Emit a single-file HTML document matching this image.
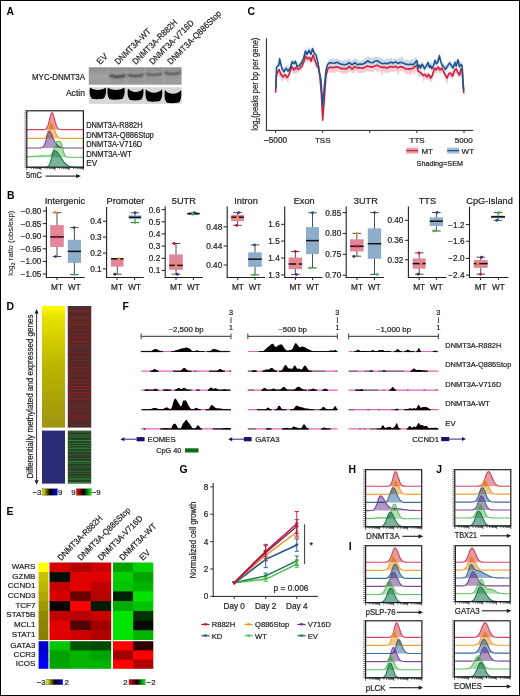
<!DOCTYPE html>
<html><head><meta charset="utf-8"><style>
html,body{margin:0;padding:0;background:#fff;}
svg{display:block;will-change:transform;}
text{font-family:"Liberation Sans", sans-serif;}
</style></head><body>
<svg width="520" height="696" viewBox="0 0 520 696" font-family='"Liberation Sans", sans-serif'>
<rect x="0" y="0" width="520" height="696" fill="#fff"/>
<text x="6.40" y="14.60" font-size="10.4" font-weight="bold" fill="#000">A</text>
<text x="7.00" y="198.80" font-size="10.4" font-weight="bold" fill="#000">B</text>
<text x="247.60" y="15.20" font-size="10.4" font-weight="bold" fill="#000">C</text>
<text x="6.40" y="309.60" font-size="10.4" font-weight="bold" fill="#000">D</text>
<text x="6.40" y="514.60" font-size="10.4" font-weight="bold" fill="#000">E</text>
<text x="122.60" y="309.80" font-size="10.4" font-weight="bold" fill="#000">F</text>
<text x="179.60" y="473.20" font-size="10.4" font-weight="bold" fill="#000">G</text>
<text x="348.60" y="473.20" font-size="10.4" font-weight="bold" fill="#000">H</text>
<text x="348.80" y="549.80" font-size="10.4" font-weight="bold" fill="#000">I</text>
<text x="436.20" y="473.20" font-size="10.4" font-weight="bold" fill="#000">J</text>
<text transform="translate(100.10,65.10) rotate(-45)" x="0" y="0" font-size="8.6" fill="#231f20" stroke="#231f20" stroke-width="0.22">EV</text>
<text transform="translate(118.20,65.10) rotate(-45)" x="0" y="0" font-size="8.6" textLength="47" lengthAdjust="spacingAndGlyphs" fill="#231f20" stroke="#231f20" stroke-width="0.22">DNMT3A-WT</text>
<text transform="translate(135.80,65.10) rotate(-45)" x="0" y="0" font-size="8.6" textLength="59.5" lengthAdjust="spacingAndGlyphs" fill="#231f20" stroke="#231f20" stroke-width="0.22">DNMT3A-R882H</text>
<text transform="translate(152.70,65.10) rotate(-45)" x="0" y="0" font-size="8.6" textLength="59" lengthAdjust="spacingAndGlyphs" fill="#231f20" stroke="#231f20" stroke-width="0.22">DNMT3A-V716D</text>
<text transform="translate(170.80,65.10) rotate(-45)" x="0" y="0" font-size="8.6" textLength="72" lengthAdjust="spacingAndGlyphs" fill="#231f20" stroke="#231f20" stroke-width="0.22">DNMT3A-Q886Stop</text>
<text x="85.00" y="80.40" font-size="8.4" text-anchor="end" textLength="53" lengthAdjust="spacingAndGlyphs" fill="#231f20" stroke="#231f20" stroke-width="0.22">MYC-DNMT3A</text>
<text x="85.00" y="95.80" font-size="8.6" text-anchor="end" fill="#231f20" stroke="#231f20" stroke-width="0.22">Actin</text>
<defs><linearGradient id="blotg" x1="0" y1="0" x2="0" y2="1"><stop offset="0" stop-color="#8c8c8c"/><stop offset="0.5" stop-color="#a2a2a2"/><stop offset="1" stop-color="#9a9a9a"/></linearGradient><filter id="bl1" x="-20%" y="-50%" width="140%" height="200%"><feGaussianBlur stdDeviation="0.9"/></filter><filter id="bl2" x="-20%" y="-50%" width="140%" height="200%"><feGaussianBlur stdDeviation="0.6"/></filter></defs>
<rect x="88.80" y="67.30" width="92.80" height="17.40" fill="url(#blotg)"/>
<rect x="107.20" y="67.30" width="0.80" height="17.40" fill="#b0b0b0" opacity="0.6"/>
<rect x="125.80" y="67.30" width="0.80" height="17.40" fill="#b0b0b0" opacity="0.6"/>
<rect x="144.40" y="67.30" width="0.80" height="17.40" fill="#b0b0b0" opacity="0.6"/>
<rect x="163.00" y="67.30" width="0.80" height="17.40" fill="#b0b0b0" opacity="0.6"/>
<path d="M109.40,74.40 Q117.40,76.60 125.40,74.20 L125.40,76.80 Q117.40,79.20 109.40,77.00 Z" fill="#2e2e2e" stroke="none" stroke-width="1" opacity="0.95" filter="url(#bl1)"/>
<rect x="109.40" y="78.10" width="16.00" height="5.00" fill="#8a8a8a" opacity="0.35" filter="url(#bl1)"/>
<path d="M127.60,74.00 Q135.60,76.20 143.60,73.80 L143.60,76.00 Q135.60,78.40 127.60,76.20 Z" fill="#2e2e2e" stroke="none" stroke-width="1" opacity="0.85" filter="url(#bl1)"/>
<rect x="127.60" y="77.30" width="16.00" height="5.00" fill="#8a8a8a" opacity="0.35" filter="url(#bl1)"/>
<path d="M146.00,73.00 Q154.00,75.20 162.00,72.80 L162.00,74.80 Q154.00,77.20 146.00,75.00 Z" fill="#2e2e2e" stroke="none" stroke-width="1" opacity="0.8" filter="url(#bl1)"/>
<rect x="146.00" y="76.10" width="16.00" height="5.00" fill="#8a8a8a" opacity="0.35" filter="url(#bl1)"/>
<path d="M164.40,72.00 Q172.40,74.20 180.40,71.80 L180.40,73.80 Q172.40,76.20 164.40,74.00 Z" fill="#2e2e2e" stroke="none" stroke-width="1" opacity="0.85" filter="url(#bl1)"/>
<rect x="164.40" y="75.10" width="16.00" height="5.00" fill="#8a8a8a" opacity="0.35" filter="url(#bl1)"/>
<rect x="88.80" y="87.30" width="92.80" height="16.60" fill="#d6d6d6"/>
<path d="M90.00,87.60 C93.50,90.93 102.30,90.93 105.80,87.60 C106.50,91.60 106.10,95.30 104.00,98.20 C100.30,99.30 95.00,99.50 91.60,98.40 C89.30,95.30 89.30,91.60 90.00,87.60 Z" fill="#050505" stroke="none" stroke-width="1" filter="url(#bl2)"/>
<path d="M107.80,87.60 C111.30,90.80 120.90,90.80 124.40,87.60 C125.10,91.60 124.70,95.80 122.60,98.70 C118.90,99.80 112.80,100.00 109.40,98.90 C107.10,95.80 107.10,91.60 107.80,87.60 Z" fill="#050505" stroke="none" stroke-width="1" filter="url(#bl2)"/>
<path d="M128.00,88.60 C131.50,93.13 139.70,93.13 143.20,88.60 C143.90,92.60 143.50,96.60 141.40,99.50 C137.70,100.60 133.00,100.80 129.60,99.70 C127.30,96.60 127.30,92.60 128.00,88.60 Z" fill="#050505" stroke="none" stroke-width="1" filter="url(#bl2)"/>
<path d="M145.90,89.20 C149.40,93.87 158.50,93.87 162.00,89.20 C162.70,93.20 162.30,97.80 160.20,100.70 C156.50,101.80 150.90,102.00 147.50,100.90 C145.20,97.80 145.20,93.20 145.90,89.20 Z" fill="#050505" stroke="none" stroke-width="1" filter="url(#bl2)"/>
<path d="M165.00,90.00 C168.50,95.07 177.60,95.07 181.10,90.00 C181.80,94.00 181.40,99.40 179.30,102.30 C175.60,103.40 170.00,103.60 166.60,102.50 C164.30,99.40 164.30,94.00 165.00,90.00 Z" fill="#050505" stroke="none" stroke-width="1" filter="url(#bl2)"/>
<g>
<path d="M26.8,129.6 L27.6,129.6 L28.4,129.6 L29.2,129.6 L30.0,129.6 L30.8,129.6 L31.7,129.6 L32.5,129.6 L33.3,129.6 L34.1,129.6 L34.9,129.6 L35.7,129.6 L36.5,129.6 L37.3,129.6 L38.1,129.6 L38.9,129.6 L39.7,129.6 L40.5,129.6 L41.4,129.6 L42.2,129.6 L43.0,129.6 L43.8,129.6 L44.6,129.5 L45.4,129.2 L46.2,128.7 L47.0,127.6 L47.8,125.9 L48.6,123.3 L49.4,120.0 L50.2,116.6 L51.1,113.9 L51.9,112.6 L52.7,113.2 L53.5,115.2 L54.3,118.1 L55.1,121.2 L55.9,124.1 L56.7,126.3 L57.5,127.8 L58.3,128.7 L59.1,129.2 L60.0,129.4 L60.8,129.5 L61.6,129.6 L62.4,129.6 L63.2,129.6 L64.0,129.6 L64.8,129.6 L65.6,129.6 L66.4,129.6 L67.2,129.6 L68.0,129.6 L68.8,129.6 L69.7,129.6 L70.5,129.6 L71.3,129.6 L72.1,129.6 L72.9,129.6 L73.7,129.6 L74.5,129.6 L75.3,129.6 L76.1,129.6 L76.9,129.6 L77.7,129.6 L78.5,129.6 L79.4,129.6 L80.2,129.6 L81.0,129.6 L81.8,129.6 L82.6,129.6 L83.4,129.6 L83.40,129.60 L26.80,129.60 Z" fill="#df8393" stroke="none" stroke-width="1" fill-opacity="0.8" style="mix-blend-mode:multiply"/>
<path d="M26.8,129.6 L27.6,129.6 L28.4,129.6 L29.2,129.6 L30.0,129.6 L30.8,129.6 L31.7,129.6 L32.5,129.6 L33.3,129.6 L34.1,129.6 L34.9,129.6 L35.7,129.6 L36.5,129.6 L37.3,129.6 L38.1,129.6 L38.9,129.6 L39.7,129.6 L40.5,129.6 L41.4,129.6 L42.2,129.6 L43.0,129.6 L43.8,129.6 L44.6,129.5 L45.4,129.2 L46.2,128.7 L47.0,127.6 L47.8,125.9 L48.6,123.3 L49.4,120.0 L50.2,116.6 L51.1,113.9 L51.9,112.6 L52.7,113.2 L53.5,115.2 L54.3,118.1 L55.1,121.2 L55.9,124.1 L56.7,126.3 L57.5,127.8 L58.3,128.7 L59.1,129.2 L60.0,129.4 L60.8,129.5 L61.6,129.6 L62.4,129.6 L63.2,129.6 L64.0,129.6 L64.8,129.6 L65.6,129.6 L66.4,129.6 L67.2,129.6 L68.0,129.6 L68.8,129.6 L69.7,129.6 L70.5,129.6 L71.3,129.6 L72.1,129.6 L72.9,129.6 L73.7,129.6 L74.5,129.6 L75.3,129.6 L76.1,129.6 L76.9,129.6 L77.7,129.6 L78.5,129.6 L79.4,129.6 L80.2,129.6 L81.0,129.6 L81.8,129.6 L82.6,129.6 L83.4,129.6" fill="none" stroke="#d2435f" stroke-width="1.15"/>
<path d="M26.8,138.4 L27.6,138.4 L28.4,138.4 L29.2,138.4 L30.0,138.4 L30.8,138.4 L31.7,138.4 L32.5,138.4 L33.3,138.4 L34.1,138.4 L34.9,138.4 L35.7,138.4 L36.5,138.4 L37.3,138.4 L38.1,138.4 L38.9,138.4 L39.7,138.4 L40.5,138.4 L41.4,138.4 L42.2,138.4 L43.0,138.4 L43.8,138.3 L44.6,138.1 L45.4,137.6 L46.2,136.5 L47.0,134.7 L47.8,132.0 L48.6,128.7 L49.4,125.3 L50.2,122.8 L51.1,121.9 L51.9,122.5 L52.7,124.0 L53.5,126.2 L54.3,128.7 L55.1,131.1 L55.9,133.3 L56.7,135.1 L57.5,136.3 L58.3,137.2 L59.1,137.8 L60.0,138.1 L60.8,138.2 L61.6,138.3 L62.4,138.4 L63.2,138.4 L64.0,138.4 L64.8,138.4 L65.6,138.4 L66.4,138.4 L67.2,138.4 L68.0,138.4 L68.8,138.4 L69.7,138.4 L70.5,138.4 L71.3,138.4 L72.1,138.4 L72.9,138.4 L73.7,138.4 L74.5,138.4 L75.3,138.4 L76.1,138.4 L76.9,138.4 L77.7,138.4 L78.5,138.4 L79.4,138.4 L80.2,138.4 L81.0,138.4 L81.8,138.4 L82.6,138.4 L83.4,138.4 L83.40,138.40 L26.80,138.40 Z" fill="#f6b868" stroke="none" stroke-width="1" fill-opacity="0.8" style="mix-blend-mode:multiply"/>
<path d="M26.8,138.4 L27.6,138.4 L28.4,138.4 L29.2,138.4 L30.0,138.4 L30.8,138.4 L31.7,138.4 L32.5,138.4 L33.3,138.4 L34.1,138.4 L34.9,138.4 L35.7,138.4 L36.5,138.4 L37.3,138.4 L38.1,138.4 L38.9,138.4 L39.7,138.4 L40.5,138.4 L41.4,138.4 L42.2,138.4 L43.0,138.4 L43.8,138.3 L44.6,138.1 L45.4,137.6 L46.2,136.5 L47.0,134.7 L47.8,132.0 L48.6,128.7 L49.4,125.3 L50.2,122.8 L51.1,121.9 L51.9,122.5 L52.7,124.0 L53.5,126.2 L54.3,128.7 L55.1,131.1 L55.9,133.3 L56.7,135.1 L57.5,136.3 L58.3,137.2 L59.1,137.8 L60.0,138.1 L60.8,138.2 L61.6,138.3 L62.4,138.4 L63.2,138.4 L64.0,138.4 L64.8,138.4 L65.6,138.4 L66.4,138.4 L67.2,138.4 L68.0,138.4 L68.8,138.4 L69.7,138.4 L70.5,138.4 L71.3,138.4 L72.1,138.4 L72.9,138.4 L73.7,138.4 L74.5,138.4 L75.3,138.4 L76.1,138.4 L76.9,138.4 L77.7,138.4 L78.5,138.4 L79.4,138.4 L80.2,138.4 L81.0,138.4 L81.8,138.4 L82.6,138.4 L83.4,138.4" fill="none" stroke="#f3a23a" stroke-width="1.15"/>
<path d="M26.8,148.0 L27.6,148.0 L28.4,148.0 L29.2,148.0 L30.0,148.0 L30.8,148.0 L31.7,148.0 L32.5,148.0 L33.3,148.0 L34.1,148.0 L34.9,148.0 L35.7,148.0 L36.5,148.0 L37.3,148.0 L38.1,148.0 L38.9,148.0 L39.7,148.0 L40.5,147.9 L41.4,147.8 L42.2,147.5 L43.0,146.9 L43.8,146.0 L44.6,144.4 L45.4,142.2 L46.2,139.5 L47.0,136.5 L47.8,133.9 L48.6,132.0 L49.4,131.5 L50.2,132.0 L51.1,133.3 L51.9,135.0 L52.7,137.0 L53.5,138.9 L54.3,140.6 L55.1,142.0 L55.9,143.3 L56.7,144.4 L57.5,145.3 L58.3,146.0 L59.1,146.6 L60.0,147.1 L60.8,147.4 L61.6,147.7 L62.4,147.8 L63.2,147.9 L64.0,148.0 L64.8,148.0 L65.6,148.0 L66.4,148.0 L67.2,148.0 L68.0,148.0 L68.8,148.0 L69.7,148.0 L70.5,148.0 L71.3,148.0 L72.1,148.0 L72.9,148.0 L73.7,148.0 L74.5,148.0 L75.3,148.0 L76.1,148.0 L76.9,148.0 L77.7,148.0 L78.5,148.0 L79.4,148.0 L80.2,148.0 L81.0,148.0 L81.8,148.0 L82.6,148.0 L83.4,148.0 L83.40,148.00 L26.80,148.00 Z" fill="#9f7db5" stroke="none" stroke-width="1" fill-opacity="0.8" style="mix-blend-mode:multiply"/>
<path d="M26.8,148.0 L27.6,148.0 L28.4,148.0 L29.2,148.0 L30.0,148.0 L30.8,148.0 L31.7,148.0 L32.5,148.0 L33.3,148.0 L34.1,148.0 L34.9,148.0 L35.7,148.0 L36.5,148.0 L37.3,148.0 L38.1,148.0 L38.9,148.0 L39.7,148.0 L40.5,147.9 L41.4,147.8 L42.2,147.5 L43.0,146.9 L43.8,146.0 L44.6,144.4 L45.4,142.2 L46.2,139.5 L47.0,136.5 L47.8,133.9 L48.6,132.0 L49.4,131.5 L50.2,132.0 L51.1,133.3 L51.9,135.0 L52.7,137.0 L53.5,138.9 L54.3,140.6 L55.1,142.0 L55.9,143.3 L56.7,144.4 L57.5,145.3 L58.3,146.0 L59.1,146.6 L60.0,147.1 L60.8,147.4 L61.6,147.7 L62.4,147.8 L63.2,147.9 L64.0,148.0 L64.8,148.0 L65.6,148.0 L66.4,148.0 L67.2,148.0 L68.0,148.0 L68.8,148.0 L69.7,148.0 L70.5,148.0 L71.3,148.0 L72.1,148.0 L72.9,148.0 L73.7,148.0 L74.5,148.0 L75.3,148.0 L76.1,148.0 L76.9,148.0 L77.7,148.0 L78.5,148.0 L79.4,148.0 L80.2,148.0 L81.0,148.0 L81.8,148.0 L82.6,148.0 L83.4,148.0" fill="none" stroke="#7b4c93" stroke-width="1.15"/>
<path d="M26.8,156.8 L27.6,156.8 L28.4,156.7 L29.2,156.7 L30.0,156.6 L30.8,156.6 L31.7,156.5 L32.5,156.5 L33.3,156.4 L34.1,156.4 L34.9,156.3 L35.7,156.2 L36.5,156.2 L37.3,156.1 L38.1,156.1 L38.9,156.0 L39.7,156.0 L40.5,155.9 L41.4,155.9 L42.2,155.8 L43.0,155.8 L43.8,155.8 L44.6,155.7 L45.4,155.7 L46.2,155.7 L47.0,155.7 L47.8,155.7 L48.6,155.7 L49.4,155.7 L50.2,155.5 L51.1,155.0 L51.9,154.0 L52.7,152.5 L53.5,150.3 L54.3,147.8 L55.1,145.2 L55.9,142.9 L56.7,141.5 L57.5,141.2 L58.3,141.2 L59.1,141.2 L60.0,141.2 L60.8,142.2 L61.6,144.6 L62.4,147.8 L63.2,150.9 L64.0,153.5 L64.8,155.2 L65.6,156.3 L66.4,156.8 L67.2,157.0 L68.0,157.1 L68.8,157.2 L69.7,157.2 L70.5,157.2 L71.3,157.2 L72.1,157.2 L72.9,157.2 L73.7,157.2 L74.5,157.2 L75.3,157.2 L76.1,157.2 L76.9,157.2 L77.7,157.2 L78.5,157.2 L79.4,157.2 L80.2,157.2 L81.0,157.2 L81.8,157.2 L82.6,157.2 L83.4,157.2 L83.40,157.20 L26.80,157.20 Z" fill="#9cd79b" stroke="none" stroke-width="1" fill-opacity="0.8" style="mix-blend-mode:multiply"/>
<path d="M26.8,156.8 L27.6,156.8 L28.4,156.7 L29.2,156.7 L30.0,156.6 L30.8,156.6 L31.7,156.5 L32.5,156.5 L33.3,156.4 L34.1,156.4 L34.9,156.3 L35.7,156.2 L36.5,156.2 L37.3,156.1 L38.1,156.1 L38.9,156.0 L39.7,156.0 L40.5,155.9 L41.4,155.9 L42.2,155.8 L43.0,155.8 L43.8,155.8 L44.6,155.7 L45.4,155.7 L46.2,155.7 L47.0,155.7 L47.8,155.7 L48.6,155.7 L49.4,155.7 L50.2,155.5 L51.1,155.0 L51.9,154.0 L52.7,152.5 L53.5,150.3 L54.3,147.8 L55.1,145.2 L55.9,142.9 L56.7,141.5 L57.5,141.2 L58.3,141.2 L59.1,141.2 L60.0,141.2 L60.8,142.2 L61.6,144.6 L62.4,147.8 L63.2,150.9 L64.0,153.5 L64.8,155.2 L65.6,156.3 L66.4,156.8 L67.2,157.0 L68.0,157.1 L68.8,157.2 L69.7,157.2 L70.5,157.2 L71.3,157.2 L72.1,157.2 L72.9,157.2 L73.7,157.2 L74.5,157.2 L75.3,157.2 L76.1,157.2 L76.9,157.2 L77.7,157.2 L78.5,157.2 L79.4,157.2 L80.2,157.2 L81.0,157.2 L81.8,157.2 L82.6,157.2 L83.4,157.2" fill="none" stroke="#5cc25f" stroke-width="1.15"/>
<path d="M26.8,167.2 L27.6,167.2 L28.4,167.2 L29.2,167.2 L30.0,167.2 L30.8,167.2 L31.7,167.2 L32.5,167.2 L33.3,167.2 L34.1,167.2 L34.9,167.2 L35.7,167.2 L36.5,167.2 L37.3,167.2 L38.1,167.2 L38.9,167.2 L39.7,167.2 L40.5,167.2 L41.4,167.2 L42.2,167.2 L43.0,167.2 L43.8,167.2 L44.6,167.2 L45.4,167.2 L46.2,167.1 L47.0,166.9 L47.8,166.6 L48.6,165.8 L49.4,164.5 L50.2,162.4 L51.1,159.7 L51.9,156.5 L52.7,153.4 L53.5,151.3 L54.3,150.6 L55.1,150.8 L55.9,151.2 L56.7,151.8 L57.5,152.7 L58.3,153.7 L59.1,154.9 L60.0,156.1 L60.8,157.4 L61.6,158.6 L62.4,159.9 L63.2,161.0 L64.0,162.1 L64.8,163.0 L65.6,163.8 L66.4,164.5 L67.2,165.1 L68.0,165.6 L68.8,166.0 L69.7,166.3 L70.5,166.5 L71.3,166.7 L72.1,166.9 L72.9,167.0 L73.7,167.0 L74.5,167.1 L75.3,167.1 L76.1,167.2 L76.9,167.2 L77.7,167.2 L78.5,167.2 L79.4,167.2 L80.2,167.2 L81.0,167.2 L81.8,167.2 L82.6,167.2 L83.4,167.2 L83.40,167.20 L26.80,167.20 Z" fill="#58a083" stroke="none" stroke-width="1" fill-opacity="0.8" style="mix-blend-mode:multiply"/>
<path d="M26.8,167.2 L27.6,167.2 L28.4,167.2 L29.2,167.2 L30.0,167.2 L30.8,167.2 L31.7,167.2 L32.5,167.2 L33.3,167.2 L34.1,167.2 L34.9,167.2 L35.7,167.2 L36.5,167.2 L37.3,167.2 L38.1,167.2 L38.9,167.2 L39.7,167.2 L40.5,167.2 L41.4,167.2 L42.2,167.2 L43.0,167.2 L43.8,167.2 L44.6,167.2 L45.4,167.2 L46.2,167.1 L47.0,166.9 L47.8,166.6 L48.6,165.8 L49.4,164.5 L50.2,162.4 L51.1,159.7 L51.9,156.5 L52.7,153.4 L53.5,151.3 L54.3,150.6 L55.1,150.8 L55.9,151.2 L56.7,151.8 L57.5,152.7 L58.3,153.7 L59.1,154.9 L60.0,156.1 L60.8,157.4 L61.6,158.6 L62.4,159.9 L63.2,161.0 L64.0,162.1 L64.8,163.0 L65.6,163.8 L66.4,164.5 L67.2,165.1 L68.0,165.6 L68.8,166.0 L69.7,166.3 L70.5,166.5 L71.3,166.7 L72.1,166.9 L72.9,167.0 L73.7,167.0 L74.5,167.1 L75.3,167.1 L76.1,167.2 L76.9,167.2 L77.7,167.2 L78.5,167.2 L79.4,167.2 L80.2,167.2 L81.0,167.2 L81.8,167.2 L82.6,167.2 L83.4,167.2" fill="none" stroke="#23785a" stroke-width="1.15"/>
</g>
<rect x="26.80" y="110.80" width="56.60" height="56.40" fill="none" stroke="#231f20" stroke-width="1.2"/>
<line x1="24.40" y1="110.80" x2="26.80" y2="110.80" stroke="#231f20" stroke-width="0.6"/>
<line x1="24.40" y1="112.81" x2="26.80" y2="112.81" stroke="#231f20" stroke-width="0.6"/>
<line x1="24.40" y1="114.83" x2="26.80" y2="114.83" stroke="#231f20" stroke-width="0.6"/>
<line x1="24.40" y1="116.84" x2="26.80" y2="116.84" stroke="#231f20" stroke-width="0.6"/>
<line x1="24.40" y1="118.86" x2="26.80" y2="118.86" stroke="#231f20" stroke-width="0.6"/>
<line x1="24.40" y1="120.87" x2="26.80" y2="120.87" stroke="#231f20" stroke-width="0.6"/>
<line x1="24.40" y1="122.89" x2="26.80" y2="122.89" stroke="#231f20" stroke-width="0.6"/>
<line x1="24.40" y1="124.90" x2="26.80" y2="124.90" stroke="#231f20" stroke-width="0.6"/>
<line x1="24.40" y1="126.91" x2="26.80" y2="126.91" stroke="#231f20" stroke-width="0.6"/>
<line x1="24.40" y1="128.93" x2="26.80" y2="128.93" stroke="#231f20" stroke-width="0.6"/>
<line x1="24.40" y1="130.94" x2="26.80" y2="130.94" stroke="#231f20" stroke-width="0.6"/>
<line x1="24.40" y1="132.96" x2="26.80" y2="132.96" stroke="#231f20" stroke-width="0.6"/>
<line x1="24.40" y1="134.97" x2="26.80" y2="134.97" stroke="#231f20" stroke-width="0.6"/>
<line x1="24.40" y1="136.99" x2="26.80" y2="136.99" stroke="#231f20" stroke-width="0.6"/>
<line x1="24.40" y1="139.00" x2="26.80" y2="139.00" stroke="#231f20" stroke-width="0.6"/>
<line x1="24.40" y1="141.01" x2="26.80" y2="141.01" stroke="#231f20" stroke-width="0.6"/>
<line x1="24.40" y1="143.03" x2="26.80" y2="143.03" stroke="#231f20" stroke-width="0.6"/>
<line x1="24.40" y1="145.04" x2="26.80" y2="145.04" stroke="#231f20" stroke-width="0.6"/>
<line x1="24.40" y1="147.06" x2="26.80" y2="147.06" stroke="#231f20" stroke-width="0.6"/>
<line x1="24.40" y1="149.07" x2="26.80" y2="149.07" stroke="#231f20" stroke-width="0.6"/>
<line x1="24.40" y1="151.09" x2="26.80" y2="151.09" stroke="#231f20" stroke-width="0.6"/>
<line x1="24.40" y1="153.10" x2="26.80" y2="153.10" stroke="#231f20" stroke-width="0.6"/>
<line x1="24.40" y1="155.11" x2="26.80" y2="155.11" stroke="#231f20" stroke-width="0.6"/>
<line x1="24.40" y1="157.13" x2="26.80" y2="157.13" stroke="#231f20" stroke-width="0.6"/>
<line x1="24.40" y1="159.14" x2="26.80" y2="159.14" stroke="#231f20" stroke-width="0.6"/>
<line x1="24.40" y1="161.16" x2="26.80" y2="161.16" stroke="#231f20" stroke-width="0.6"/>
<line x1="24.40" y1="163.17" x2="26.80" y2="163.17" stroke="#231f20" stroke-width="0.6"/>
<line x1="24.40" y1="165.19" x2="26.80" y2="165.19" stroke="#231f20" stroke-width="0.6"/>
<line x1="24.40" y1="167.20" x2="26.80" y2="167.20" stroke="#231f20" stroke-width="0.6"/>
<line x1="26.80" y1="167.20" x2="26.80" y2="170.20" stroke="#231f20" stroke-width="0.7"/>
<line x1="31.06" y1="167.20" x2="31.06" y2="169.10" stroke="#231f20" stroke-width="0.7"/>
<line x1="33.55" y1="167.20" x2="33.55" y2="169.10" stroke="#231f20" stroke-width="0.7"/>
<line x1="35.32" y1="167.20" x2="35.32" y2="169.10" stroke="#231f20" stroke-width="0.7"/>
<line x1="36.69" y1="167.20" x2="36.69" y2="169.10" stroke="#231f20" stroke-width="0.7"/>
<line x1="37.81" y1="167.20" x2="37.81" y2="169.10" stroke="#231f20" stroke-width="0.7"/>
<line x1="38.76" y1="167.20" x2="38.76" y2="169.10" stroke="#231f20" stroke-width="0.7"/>
<line x1="39.58" y1="167.20" x2="39.58" y2="169.10" stroke="#231f20" stroke-width="0.7"/>
<line x1="40.30" y1="167.20" x2="40.30" y2="169.10" stroke="#231f20" stroke-width="0.7"/>
<line x1="40.95" y1="167.20" x2="40.95" y2="170.20" stroke="#231f20" stroke-width="0.7"/>
<line x1="45.21" y1="167.20" x2="45.21" y2="169.10" stroke="#231f20" stroke-width="0.7"/>
<line x1="47.70" y1="167.20" x2="47.70" y2="169.10" stroke="#231f20" stroke-width="0.7"/>
<line x1="49.47" y1="167.20" x2="49.47" y2="169.10" stroke="#231f20" stroke-width="0.7"/>
<line x1="50.84" y1="167.20" x2="50.84" y2="169.10" stroke="#231f20" stroke-width="0.7"/>
<line x1="51.96" y1="167.20" x2="51.96" y2="169.10" stroke="#231f20" stroke-width="0.7"/>
<line x1="52.91" y1="167.20" x2="52.91" y2="169.10" stroke="#231f20" stroke-width="0.7"/>
<line x1="53.73" y1="167.20" x2="53.73" y2="169.10" stroke="#231f20" stroke-width="0.7"/>
<line x1="54.45" y1="167.20" x2="54.45" y2="169.10" stroke="#231f20" stroke-width="0.7"/>
<line x1="55.10" y1="167.20" x2="55.10" y2="170.20" stroke="#231f20" stroke-width="0.7"/>
<line x1="59.36" y1="167.20" x2="59.36" y2="169.10" stroke="#231f20" stroke-width="0.7"/>
<line x1="61.85" y1="167.20" x2="61.85" y2="169.10" stroke="#231f20" stroke-width="0.7"/>
<line x1="63.62" y1="167.20" x2="63.62" y2="169.10" stroke="#231f20" stroke-width="0.7"/>
<line x1="64.99" y1="167.20" x2="64.99" y2="169.10" stroke="#231f20" stroke-width="0.7"/>
<line x1="66.11" y1="167.20" x2="66.11" y2="169.10" stroke="#231f20" stroke-width="0.7"/>
<line x1="67.06" y1="167.20" x2="67.06" y2="169.10" stroke="#231f20" stroke-width="0.7"/>
<line x1="67.88" y1="167.20" x2="67.88" y2="169.10" stroke="#231f20" stroke-width="0.7"/>
<line x1="68.60" y1="167.20" x2="68.60" y2="169.10" stroke="#231f20" stroke-width="0.7"/>
<line x1="69.25" y1="167.20" x2="69.25" y2="170.20" stroke="#231f20" stroke-width="0.7"/>
<line x1="73.51" y1="167.20" x2="73.51" y2="169.10" stroke="#231f20" stroke-width="0.7"/>
<line x1="76.00" y1="167.20" x2="76.00" y2="169.10" stroke="#231f20" stroke-width="0.7"/>
<line x1="77.77" y1="167.20" x2="77.77" y2="169.10" stroke="#231f20" stroke-width="0.7"/>
<line x1="79.14" y1="167.20" x2="79.14" y2="169.10" stroke="#231f20" stroke-width="0.7"/>
<line x1="80.26" y1="167.20" x2="80.26" y2="169.10" stroke="#231f20" stroke-width="0.7"/>
<line x1="81.21" y1="167.20" x2="81.21" y2="169.10" stroke="#231f20" stroke-width="0.7"/>
<line x1="82.03" y1="167.20" x2="82.03" y2="169.10" stroke="#231f20" stroke-width="0.7"/>
<line x1="82.75" y1="167.20" x2="82.75" y2="169.10" stroke="#231f20" stroke-width="0.7"/>
<line x1="83.40" y1="167.20" x2="83.40" y2="170.20" stroke="#231f20" stroke-width="0.7"/>
<text x="86.20" y="127.80" font-size="8.2" textLength="56.4" lengthAdjust="spacingAndGlyphs" fill="#231f20" stroke="#231f20" stroke-width="0.22">DNMT3A-R882H</text>
<text x="86.20" y="138.40" font-size="8.2" textLength="67.6" lengthAdjust="spacingAndGlyphs" fill="#231f20" stroke="#231f20" stroke-width="0.22">DNMT3A-Q886Stop</text>
<text x="86.20" y="147.20" font-size="8.2" textLength="56.0" lengthAdjust="spacingAndGlyphs" fill="#231f20" stroke="#231f20" stroke-width="0.22">DNMT3A-V716D</text>
<text x="86.20" y="157.00" font-size="8.2" textLength="45.6" lengthAdjust="spacingAndGlyphs" fill="#231f20" stroke="#231f20" stroke-width="0.22">DNMT3A-WT</text>
<text x="86.20" y="165.70" font-size="8.2" fill="#231f20" stroke="#231f20" stroke-width="0.22">EV</text>
<text x="26.00" y="178.30" font-size="8.6" textLength="16.0" lengthAdjust="spacingAndGlyphs" fill="#231f20" stroke="#231f20" stroke-width="0.22">5mC</text>
<line x1="45.60" y1="176.10" x2="76.70" y2="176.10" stroke="#231f20" stroke-width="1.1"/>
<path d="M80.80,176.10 L76.20,174.00 L76.20,178.20 Z" fill="#231f20" stroke="none" stroke-width="1"/>
<line x1="266.40" y1="38.20" x2="266.40" y2="130.90" stroke="#231f20" stroke-width="1"/>
<line x1="265.90" y1="130.40" x2="473.30" y2="130.40" stroke="#231f20" stroke-width="1"/>
<line x1="275.60" y1="130.40" x2="275.60" y2="133.00" stroke="#231f20" stroke-width="0.9"/>
<line x1="322.70" y1="130.40" x2="322.70" y2="133.00" stroke="#231f20" stroke-width="0.9"/>
<line x1="369.80" y1="130.40" x2="369.80" y2="133.00" stroke="#231f20" stroke-width="0.9"/>
<line x1="416.90" y1="130.40" x2="416.90" y2="133.00" stroke="#231f20" stroke-width="0.9"/>
<line x1="464.00" y1="130.40" x2="464.00" y2="133.00" stroke="#231f20" stroke-width="0.9"/>
<text x="275.60" y="142.60" font-size="8.3" text-anchor="middle" fill="#231f20" stroke="#231f20" stroke-width="0.22">–5000</text>
<text x="322.70" y="142.60" font-size="8.0" text-anchor="middle" fill="#231f20" stroke="#231f20" stroke-width="0.22">TSS</text>
<text x="417.10" y="142.90" font-size="8.0" text-anchor="middle" fill="#231f20" stroke="#231f20" stroke-width="0.22">TTS</text>
<text x="463.70" y="142.90" font-size="8.0" text-anchor="middle" fill="#231f20" stroke="#231f20" stroke-width="0.22">5000</text>
<text transform="translate(258.30,84.20) rotate(-90)" x="0" y="0" font-size="8.9" text-anchor="middle" textLength="93" lengthAdjust="spacingAndGlyphs" fill="#231f20" stroke="#231f20" stroke-width="0.22">log<tspan font-size="6.2" dy="2.0">2</tspan><tspan dy="-2.0">(peaks per bp per gene)</tspan></text>
<path d="M275.6,90.6 L276.9,71.8 L278.2,68.9 L279.5,69.1 L280.8,71.6 L282.1,73.2 L283.4,74.7 L284.7,73.0 L286.0,74.1 L287.3,74.6 L288.6,73.4 L289.9,69.6 L291.2,65.9 L292.5,65.0 L293.8,68.1 L295.1,66.8 L296.4,65.9 L297.7,66.8 L299.0,67.2 L300.3,66.3 L301.6,64.0 L302.9,62.2 L304.2,59.0 L305.5,53.8 L306.8,56.4 L308.1,56.6 L309.4,55.3 L310.7,58.1 L312.0,55.9 L313.3,53.4 L314.6,57.6 L315.9,61.1 L317.2,64.6 L318.5,65.6 L319.8,75.2 L321.1,89.5 L322.4,113.1 L323.7,105.7 L325.0,88.2 L326.3,73.4 L327.6,67.0 L328.9,66.3 L330.2,65.0 L331.5,65.5 L332.8,65.5 L334.1,65.4 L335.4,65.6 L336.7,64.6 L338.0,65.2 L339.3,66.1 L340.6,65.9 L341.9,65.8 L343.2,66.9 L344.5,66.6 L345.8,67.0 L347.1,66.1 L348.4,65.6 L349.7,64.6 L351.0,66.2 L352.3,66.9 L353.6,65.3 L354.9,62.9 L356.2,65.5 L357.5,64.8 L358.8,65.3 L360.1,65.7 L361.4,65.8 L362.7,66.7 L364.0,65.9 L365.3,65.0 L366.6,62.6 L367.9,64.4 L369.2,64.6 L370.5,64.4 L371.8,64.7 L373.1,65.2 L374.4,64.2 L375.7,63.4 L377.0,63.4 L378.3,62.0 L379.6,64.7 L380.9,65.2 L382.2,64.9 L383.5,65.7 L384.8,65.3 L386.1,65.8 L387.4,66.2 L388.7,65.2 L390.0,63.1 L391.3,64.8 L392.6,63.6 L393.9,64.5 L395.2,64.9 L396.5,64.9 L397.8,65.5 L399.1,65.6 L400.4,64.8 L401.7,65.3 L403.0,65.1 L404.3,65.9 L405.6,66.6 L406.9,66.5 L408.2,66.6 L409.5,67.2 L410.8,66.9 L412.1,66.1 L413.4,66.2 L414.7,64.8 L416.0,63.8 L417.3,64.4 L418.6,69.4 L419.9,70.5 L421.2,69.2 L422.5,72.8 L423.8,73.1 L425.1,72.3 L426.4,74.0 L427.7,72.6 L429.0,72.7 L430.3,75.4 L431.6,74.7 L432.9,71.2 L434.2,66.6 L435.5,65.7 L436.8,67.6 L438.1,65.2 L439.4,66.9 L440.7,66.8 L442.0,64.3 L443.3,69.2 L444.6,70.6 L445.9,74.1 L447.2,74.9 L448.5,72.2 L449.8,71.7 L451.1,70.6 L452.4,74.1 L453.7,70.5 L455.0,67.1 L456.3,67.2 L457.6,68.3 L458.9,72.5 L460.2,69.6 L461.5,67.6 L462.8,77.6 L462.80,85.20 L461.50,74.82 L460.20,76.16 L458.90,77.97 L457.60,76.90 L456.30,72.65 L455.00,75.58 L453.70,76.25 L452.40,79.82 L451.10,78.82 L449.80,76.72 L448.50,77.43 L447.20,84.79 L445.90,81.11 L444.60,77.10 L443.30,74.08 L442.00,72.54 L440.70,73.70 L439.40,73.09 L438.10,71.23 L436.80,73.36 L435.50,72.91 L434.20,73.36 L432.90,78.34 L431.60,80.96 L430.30,82.47 L429.00,79.16 L427.70,80.61 L426.40,79.63 L425.10,77.89 L423.80,81.88 L422.50,78.44 L421.20,76.19 L419.90,76.90 L418.60,75.64 L417.30,72.22 L416.00,69.81 L414.70,76.04 L413.40,71.60 L412.10,73.68 L410.80,75.13 L409.50,74.37 L408.20,73.21 L406.90,74.02 L405.60,74.11 L404.30,71.86 L403.00,71.45 L401.70,70.91 L400.40,70.38 L399.10,72.28 L397.80,76.29 L396.50,70.79 L395.20,71.86 L393.90,71.07 L392.60,71.82 L391.30,71.46 L390.00,72.15 L388.70,71.94 L387.40,73.59 L386.10,72.99 L384.80,72.79 L383.50,71.54 L382.20,76.39 L380.90,72.65 L379.60,70.33 L378.30,70.96 L377.00,72.76 L375.70,69.39 L374.40,70.43 L373.10,72.63 L371.80,71.82 L370.50,71.82 L369.20,71.94 L367.90,70.87 L366.60,72.03 L365.30,71.51 L364.00,72.73 L362.70,73.27 L361.40,72.55 L360.10,73.14 L358.80,72.79 L357.50,73.26 L356.20,70.79 L354.90,71.78 L353.60,73.60 L352.30,73.25 L351.00,72.08 L349.70,70.93 L348.40,72.61 L347.10,73.23 L345.80,73.96 L344.50,72.73 L343.20,74.15 L341.90,72.74 L340.60,73.00 L339.30,72.21 L338.00,70.78 L336.70,71.96 L335.40,72.91 L334.10,72.28 L332.80,72.84 L331.50,72.85 L330.20,72.51 L328.90,72.30 L327.60,72.64 L326.30,75.90 L325.00,90.96 L323.70,108.89 L322.40,115.87 L321.10,92.70 L319.80,77.84 L318.50,71.93 L317.20,69.36 L315.90,67.00 L314.60,62.64 L313.30,61.93 L312.00,61.54 L310.70,64.00 L309.40,60.75 L308.10,63.41 L306.80,61.47 L305.50,61.85 L304.20,64.03 L302.90,68.59 L301.60,70.07 L300.30,71.38 L299.00,72.11 L297.70,73.17 L296.40,72.68 L295.10,73.33 L293.80,74.21 L292.50,72.34 L291.20,71.37 L289.90,76.53 L288.60,80.90 L287.30,81.75 L286.00,79.96 L284.70,78.98 L283.40,79.50 L282.10,82.36 L280.80,78.39 L279.50,77.72 L278.20,74.25 L276.90,77.14 L275.60,97.45 Z" fill="#eeaab8" stroke="none" stroke-width="1" fill-opacity="0.62"/>
<path d="M275.8,85.2 L277.1,64.1 L278.4,61.8 L279.7,56.6 L281.0,62.1 L282.3,66.3 L283.6,68.6 L284.9,66.2 L286.2,66.0 L287.5,64.8 L288.8,67.0 L290.1,63.4 L291.4,60.3 L292.7,59.0 L294.0,60.6 L295.3,59.2 L296.6,62.4 L297.9,63.7 L299.2,63.3 L300.5,61.7 L301.8,58.8 L303.1,56.6 L304.4,51.5 L305.7,47.8 L307.0,51.9 L308.3,46.7 L309.6,47.9 L310.9,51.0 L312.2,46.0 L313.5,48.4 L314.8,50.5 L316.1,51.9 L317.4,57.5 L318.7,64.0 L320.0,73.1 L321.3,82.7 L322.6,102.3 L323.9,90.0 L325.2,76.4 L326.5,66.8 L327.8,61.1 L329.1,59.6 L330.4,59.0 L331.7,59.1 L333.0,58.0 L334.3,59.1 L335.6,59.1 L336.9,58.5 L338.2,59.3 L339.5,60.1 L340.8,60.3 L342.1,60.7 L343.4,60.0 L344.7,60.2 L346.0,60.2 L347.3,60.2 L348.6,58.2 L349.9,59.2 L351.2,60.7 L352.5,59.7 L353.8,59.5 L355.1,58.1 L356.4,58.7 L357.7,59.8 L359.0,60.5 L360.3,60.5 L361.6,61.0 L362.9,60.4 L364.2,58.5 L365.5,58.4 L366.8,56.7 L368.1,56.6 L369.4,57.3 L370.7,57.6 L372.0,58.6 L373.3,57.6 L374.6,56.1 L375.9,57.6 L377.2,55.8 L378.5,57.8 L379.8,57.6 L381.1,57.2 L382.4,58.4 L383.7,59.8 L385.0,60.1 L386.3,58.6 L387.6,58.8 L388.9,58.6 L390.2,58.4 L391.5,57.4 L392.8,59.5 L394.1,58.2 L395.4,58.3 L396.7,58.5 L398.0,59.8 L399.3,57.6 L400.6,58.4 L401.9,55.4 L403.2,57.9 L404.5,59.9 L405.8,59.6 L407.1,59.1 L408.4,60.4 L409.7,60.8 L411.0,59.8 L412.3,58.5 L413.6,60.5 L414.9,58.0 L416.2,56.5 L417.5,61.5 L418.8,63.4 L420.1,64.2 L421.4,61.9 L422.7,61.3 L424.0,65.0 L425.3,64.2 L426.6,62.2 L427.9,59.9 L429.2,63.5 L430.5,62.5 L431.8,62.4 L433.1,62.9 L434.4,59.0 L435.7,58.6 L437.0,58.7 L438.3,56.3 L439.6,52.8 L440.9,58.3 L442.2,61.9 L443.5,63.0 L444.8,64.7 L446.1,65.2 L447.4,63.4 L448.7,61.0 L450.0,59.9 L451.3,62.2 L452.6,64.5 L453.9,63.1 L455.2,59.1 L456.5,60.7 L457.8,57.3 L459.1,61.2 L460.4,61.7 L461.7,61.6 L463.0,77.1 L463.00,82.59 L461.70,68.21 L460.40,68.16 L459.10,67.62 L457.80,62.85 L456.50,68.32 L455.20,65.42 L453.90,68.53 L452.60,71.98 L451.30,67.68 L450.00,68.40 L448.70,67.15 L447.40,68.90 L446.10,70.48 L444.80,71.52 L443.50,69.34 L442.20,67.79 L440.90,64.18 L439.60,58.72 L438.30,62.79 L437.00,66.37 L435.70,64.65 L434.40,65.14 L433.10,68.38 L431.80,71.26 L430.50,68.57 L429.20,69.54 L427.90,64.82 L426.60,67.49 L425.30,70.39 L424.00,72.40 L422.70,67.66 L421.40,68.06 L420.10,69.64 L418.80,68.95 L417.50,66.30 L416.20,64.40 L414.90,65.13 L413.60,67.37 L412.30,67.41 L411.00,66.99 L409.70,67.10 L408.40,67.18 L407.10,67.23 L405.80,66.60 L404.50,65.71 L403.20,65.11 L401.90,64.81 L400.60,66.48 L399.30,64.96 L398.00,65.67 L396.70,64.67 L395.40,65.05 L394.10,65.04 L392.80,65.43 L391.50,64.69 L390.20,64.27 L388.90,65.28 L387.60,66.17 L386.30,65.72 L385.00,65.69 L383.70,66.14 L382.40,66.53 L381.10,65.62 L379.80,64.80 L378.50,63.84 L377.20,65.66 L375.90,63.52 L374.60,63.18 L373.30,65.52 L372.00,65.13 L370.70,65.48 L369.40,64.85 L368.10,63.39 L366.80,64.08 L365.50,65.13 L364.20,65.37 L362.90,66.16 L361.60,66.14 L360.30,65.88 L359.00,67.17 L357.70,67.02 L356.40,65.73 L355.10,64.99 L353.80,65.74 L352.50,67.02 L351.20,66.90 L349.90,66.01 L348.60,66.00 L347.30,67.24 L346.00,66.59 L344.70,67.45 L343.40,67.52 L342.10,67.05 L340.80,66.81 L339.50,66.07 L338.20,65.31 L336.90,64.40 L335.60,67.46 L334.30,65.77 L333.00,64.91 L331.70,65.64 L330.40,65.94 L329.10,65.24 L327.80,66.27 L326.50,69.74 L325.20,79.80 L323.90,93.40 L322.60,105.00 L321.30,85.63 L320.00,76.12 L318.70,70.24 L317.40,62.92 L316.10,57.36 L314.80,56.18 L313.50,53.67 L312.20,51.99 L310.90,56.32 L309.60,53.68 L308.30,53.99 L307.00,57.38 L305.70,54.80 L304.40,56.93 L303.10,61.55 L301.80,64.35 L300.50,66.25 L299.20,67.97 L297.90,68.29 L296.60,67.38 L295.30,63.92 L294.00,66.37 L292.70,64.43 L291.40,66.45 L290.10,70.92 L288.80,72.53 L287.50,72.41 L286.20,71.13 L284.90,72.11 L283.60,74.98 L282.30,73.73 L281.00,66.52 L279.70,61.21 L278.40,67.82 L277.10,68.68 L275.80,91.00 Z" fill="#a9c3da" stroke="none" stroke-width="1" fill-opacity="0.62"/>
<path d="M275.6,92.6 L276.5,74.6 L279.0,69.4 L281.0,74.6 L283.0,76.9 L285.0,74.6 L287.0,77.5 L289.0,74.6 L290.5,70.0 L292.0,66.5 L294.0,70.0 L296.0,67.1 L298.0,69.4 L300.0,68.3 L302.0,66.0 L304.0,61.3 L305.5,56.1 L307.5,59.0 L309.5,57.3 L311.0,61.3 L313.0,55.0 L315.0,60.2 L317.0,66.0 L318.5,67.7 L320.0,78.0 L321.4,95.0 L322.7,120.2 L324.4,98.0 L326.0,76.0 L327.6,69.0 L329.6,67.2 L334.2,67.5 L337.0,66.7 L339.9,67.9 L342.2,68.7 L344.8,68.5 L346.7,68.8 L349.3,66.4 L352.1,69.2 L354.8,66.6 L357.7,68.0 L359.9,67.8 L362.7,68.2 L365.3,67.1 L367.6,65.9 L370.3,66.9 L373.1,66.9 L375.0,65.9 L377.7,65.3 L380.6,67.2 L382.9,67.4 L385.2,67.4 L387.6,68.0 L390.2,66.4 L393.1,67.3 L395.8,66.3 L397.8,67.9 L400.3,66.7 L402.9,67.1 L405.5,68.7 L408.4,69.1 L411.3,68.6 L413.3,68.2 L416.9,65.0 L418.1,71.2 L419.4,71.9 L421.2,73.1 L423.1,75.6 L425.0,74.4 L426.9,76.9 L428.8,74.4 L430.6,78.1 L432.5,75.0 L434.4,68.1 L436.2,70.0 L438.1,66.9 L440.0,70.0 L441.9,68.1 L443.8,71.9 L445.6,75.6 L446.9,78.1 L448.8,73.8 L450.6,73.1 L452.5,76.2 L454.4,70.6 L456.2,68.8 L458.1,73.1 L459.6,75.0 L460.9,68.8 L462.2,71.2 L463.1,86.2 L463.8,93.1" fill="none" stroke="#cf1f3c" stroke-width="1.6" stroke-linejoin="round"/>
<path d="M275.8,88.4 L276.5,67.1 L279.0,64.8 L279.6,58.8 L282.0,68.8 L284.0,71.7 L286.0,68.3 L288.0,71.1 L290.5,67.7 L292.0,61.9 L294.0,63.6 L295.5,61.3 L297.0,66.5 L299.0,66.0 L301.0,63.6 L303.5,58.5 L305.5,51.0 L307.0,54.4 L309.0,50.4 L311.0,54.4 L312.5,48.7 L314.5,53.8 L316.0,55.0 L318.0,63.0 L319.5,72.3 L321.0,80.0 L322.7,105.6 L324.6,84.0 L326.0,70.0 L327.6,64.5 L329.6,62.7 L334.2,63.2 L337.0,62.3 L339.9,63.7 L342.2,64.4 L344.8,64.8 L346.7,64.2 L349.3,62.7 L352.1,64.8 L354.8,62.7 L357.7,64.8 L359.9,64.0 L362.7,64.2 L365.3,62.8 L367.6,60.8 L370.3,62.5 L373.1,62.7 L375.0,61.0 L377.7,60.9 L380.6,62.9 L382.9,63.8 L385.2,63.3 L387.6,63.8 L390.2,62.3 L393.1,62.9 L395.8,61.9 L397.8,63.5 L400.3,62.3 L402.9,63.0 L405.5,64.1 L408.4,64.5 L411.3,64.3 L413.3,64.8 L416.9,60.6 L418.1,68.1 L419.4,65.0 L420.6,68.1 L421.9,64.4 L423.1,65.6 L424.4,68.8 L426.3,66.3 L428.1,62.5 L429.4,67.5 L430.6,65.6 L431.9,68.8 L433.8,65.0 L435.0,60.6 L436.5,63.8 L437.8,62.5 L439.4,55.8 L440.6,61.2 L441.9,65.0 L443.8,66.9 L445.6,69.4 L447.5,66.2 L449.4,63.1 L451.2,65.0 L453.1,68.1 L455.0,62.5 L456.2,66.2 L458.1,59.8 L459.4,66.9 L461.2,64.4 L462.2,66.2 L463.1,82.5 L463.8,90.6" fill="none" stroke="#1f558e" stroke-width="1.6" stroke-linejoin="round"/>
<rect x="406.20" y="147.60" width="12.00" height="6.00" fill="#e7a2b0"/>
<line x1="406.20" y1="150.60" x2="418.20" y2="150.60" stroke="#cf1f3c" stroke-width="1.3"/>
<text x="421.40" y="153.60" font-size="8.0" fill="#231f20" stroke="#231f20" stroke-width="0.22">MT</text>
<rect x="447.20" y="147.60" width="12.00" height="6.00" fill="#a9c0d8"/>
<line x1="447.20" y1="150.60" x2="459.20" y2="150.60" stroke="#1f558e" stroke-width="1.3"/>
<text x="461.60" y="153.60" font-size="8.0" fill="#231f20" stroke="#231f20" stroke-width="0.22">WT</text>
<text x="416.60" y="165.70" font-size="7.6" textLength="46.4" lengthAdjust="spacingAndGlyphs" fill="#231f20" stroke="#231f20" stroke-width="0.22">Shading=SEM</text>
<line x1="46.40" y1="206.60" x2="46.40" y2="278.00" stroke="#231f20" stroke-width="1.1"/>
<line x1="45.90" y1="277.50" x2="84.60" y2="277.50" stroke="#231f20" stroke-width="1.1"/>
<line x1="42.80" y1="211.00" x2="46.40" y2="211.00" stroke="#231f20" stroke-width="1.0"/>
<text x="41.40" y="213.90" font-size="8.2" text-anchor="end" fill="#231f20" stroke="#231f20" stroke-width="0.22">−0.80</text>
<line x1="42.80" y1="223.60" x2="46.40" y2="223.60" stroke="#231f20" stroke-width="1.0"/>
<text x="41.40" y="226.50" font-size="8.2" text-anchor="end" fill="#231f20" stroke="#231f20" stroke-width="0.22">−0.85</text>
<line x1="42.80" y1="236.20" x2="46.40" y2="236.20" stroke="#231f20" stroke-width="1.0"/>
<text x="41.40" y="239.10" font-size="8.2" text-anchor="end" fill="#231f20" stroke="#231f20" stroke-width="0.22">−0.90</text>
<line x1="42.80" y1="248.80" x2="46.40" y2="248.80" stroke="#231f20" stroke-width="1.0"/>
<text x="41.40" y="251.70" font-size="8.2" text-anchor="end" fill="#231f20" stroke="#231f20" stroke-width="0.22">−0.95</text>
<line x1="42.80" y1="261.40" x2="46.40" y2="261.40" stroke="#231f20" stroke-width="1.0"/>
<text x="41.40" y="264.30" font-size="8.2" text-anchor="end" fill="#231f20" stroke="#231f20" stroke-width="0.22">−1.00</text>
<line x1="42.80" y1="274.00" x2="46.40" y2="274.00" stroke="#231f20" stroke-width="1.0"/>
<text x="41.40" y="276.90" font-size="8.2" text-anchor="end" fill="#231f20" stroke="#231f20" stroke-width="0.22">−1.05</text>
<text x="65.00" y="203.80" font-size="9.2" text-anchor="middle" fill="#231f20" stroke="#231f20" stroke-width="0.22">Intergenic</text>
<line x1="57.00" y1="212.70" x2="57.00" y2="256.50" stroke="#4d4d4d" stroke-width="1.0"/>
<line x1="52.70" y1="212.70" x2="61.30" y2="212.70" stroke="#4d4d4d" stroke-width="1.0"/>
<line x1="52.70" y1="256.50" x2="61.30" y2="256.50" stroke="#4d4d4d" stroke-width="1.0"/>
<rect x="50.20" y="225.10" width="13.60" height="21.90" fill="#e48699"/>
<line x1="50.20" y1="236.90" x2="63.80" y2="236.90" stroke="#111" stroke-width="1.5"/>
<circle cx="57.00" cy="236.90" r="1.45" fill="#d7102e"/>
<circle cx="55.20" cy="212.40" r="1.45" fill="#f7941d"/>
<circle cx="55.50" cy="256.60" r="1.45" fill="#5b1f73"/>
<line x1="74.40" y1="227.60" x2="74.40" y2="274.60" stroke="#4d4d4d" stroke-width="1.0"/>
<line x1="70.10" y1="227.60" x2="78.70" y2="227.60" stroke="#4d4d4d" stroke-width="1.0"/>
<line x1="70.10" y1="274.60" x2="78.70" y2="274.60" stroke="#4d4d4d" stroke-width="1.0"/>
<rect x="67.80" y="239.80" width="13.20" height="23.10" fill="#8eadcb"/>
<line x1="67.80" y1="251.40" x2="81.00" y2="251.40" stroke="#111" stroke-width="1.5"/>
<circle cx="73.90" cy="227.60" r="1.45" fill="#1f4f8f"/>
<circle cx="74.40" cy="274.60" r="1.45" fill="#3cc34a"/>
<text x="57.00" y="290.00" font-size="8.2" text-anchor="middle" fill="#231f20" stroke="#231f20" stroke-width="0.22">MT</text>
<text x="74.40" y="290.00" font-size="8.2" text-anchor="middle" fill="#231f20" stroke="#231f20" stroke-width="0.22">WT</text>
<line x1="57.00" y1="277.50" x2="57.00" y2="280.00" stroke="#231f20" stroke-width="1.0"/>
<line x1="74.40" y1="277.50" x2="74.40" y2="280.00" stroke="#231f20" stroke-width="1.0"/>
<text transform="translate(13.40,243.20) rotate(-90)" x="0" y="0" font-size="7.75" text-anchor="middle" fill="#231f20" stroke="#231f20" stroke-width="0.12">log<tspan font-size="5.6" dy="1.8">2</tspan><tspan dy="-1.8"> ratio (obs/exp)</tspan></text>
<line x1="106.60" y1="207.00" x2="106.60" y2="278.00" stroke="#231f20" stroke-width="1.1"/>
<line x1="106.10" y1="277.50" x2="143.80" y2="277.50" stroke="#231f20" stroke-width="1.1"/>
<line x1="103.00" y1="221.20" x2="106.60" y2="221.20" stroke="#231f20" stroke-width="1.0"/>
<text x="101.60" y="224.10" font-size="8.2" text-anchor="end" fill="#231f20" stroke="#231f20" stroke-width="0.22">0.4</text>
<line x1="103.00" y1="237.10" x2="106.60" y2="237.10" stroke="#231f20" stroke-width="1.0"/>
<text x="101.60" y="240.00" font-size="8.2" text-anchor="end" fill="#231f20" stroke="#231f20" stroke-width="0.22">0.3</text>
<line x1="103.00" y1="253.10" x2="106.60" y2="253.10" stroke="#231f20" stroke-width="1.0"/>
<text x="101.60" y="256.00" font-size="8.2" text-anchor="end" fill="#231f20" stroke="#231f20" stroke-width="0.22">0.2</text>
<line x1="103.00" y1="268.90" x2="106.60" y2="268.90" stroke="#231f20" stroke-width="1.0"/>
<text x="101.60" y="271.80" font-size="8.2" text-anchor="end" fill="#231f20" stroke="#231f20" stroke-width="0.22">0.1</text>
<text x="125.40" y="203.80" font-size="9.2" text-anchor="middle" fill="#231f20" stroke="#231f20" stroke-width="0.22">Promoter</text>
<line x1="117.30" y1="258.80" x2="117.30" y2="274.20" stroke="#4d4d4d" stroke-width="1.0"/>
<line x1="113.00" y1="258.80" x2="121.60" y2="258.80" stroke="#4d4d4d" stroke-width="1.0"/>
<line x1="113.00" y1="274.20" x2="121.60" y2="274.20" stroke="#4d4d4d" stroke-width="1.0"/>
<rect x="111.00" y="259.20" width="12.60" height="7.40" fill="#e48699"/>
<line x1="111.00" y1="258.80" x2="123.60" y2="258.80" stroke="#111" stroke-width="1.5"/>
<circle cx="118.90" cy="258.80" r="1.45" fill="#f7941d"/>
<circle cx="114.90" cy="274.20" r="1.45" fill="#5b1f73"/>
<line x1="135.00" y1="212.80" x2="135.00" y2="222.60" stroke="#4d4d4d" stroke-width="1.0"/>
<line x1="130.70" y1="212.80" x2="139.30" y2="212.80" stroke="#4d4d4d" stroke-width="1.0"/>
<line x1="130.70" y1="222.60" x2="139.30" y2="222.60" stroke="#4d4d4d" stroke-width="1.0"/>
<rect x="128.80" y="215.40" width="12.40" height="3.80" fill="#8eadcb"/>
<line x1="128.80" y1="217.30" x2="141.20" y2="217.30" stroke="#111" stroke-width="1.5"/>
<circle cx="135.00" cy="212.80" r="1.45" fill="#1f4f8f"/>
<circle cx="135.00" cy="222.60" r="1.45" fill="#3cc34a"/>
<text x="117.00" y="290.00" font-size="8.2" text-anchor="middle" fill="#231f20" stroke="#231f20" stroke-width="0.22">MT</text>
<text x="134.60" y="290.00" font-size="8.2" text-anchor="middle" fill="#231f20" stroke="#231f20" stroke-width="0.22">WT</text>
<line x1="117.00" y1="277.50" x2="117.00" y2="280.00" stroke="#231f20" stroke-width="1.0"/>
<line x1="134.60" y1="277.50" x2="134.60" y2="280.00" stroke="#231f20" stroke-width="1.0"/>
<line x1="165.20" y1="206.60" x2="165.20" y2="278.00" stroke="#231f20" stroke-width="1.1"/>
<line x1="164.70" y1="277.50" x2="202.80" y2="277.50" stroke="#231f20" stroke-width="1.1"/>
<line x1="161.60" y1="209.60" x2="165.20" y2="209.60" stroke="#231f20" stroke-width="1.0"/>
<text x="160.20" y="212.50" font-size="8.2" text-anchor="end" fill="#231f20" stroke="#231f20" stroke-width="0.22">0.6</text>
<line x1="161.60" y1="221.80" x2="165.20" y2="221.80" stroke="#231f20" stroke-width="1.0"/>
<text x="160.20" y="224.70" font-size="8.2" text-anchor="end" fill="#231f20" stroke="#231f20" stroke-width="0.22">0.5</text>
<line x1="161.60" y1="233.90" x2="165.20" y2="233.90" stroke="#231f20" stroke-width="1.0"/>
<text x="160.20" y="236.80" font-size="8.2" text-anchor="end" fill="#231f20" stroke="#231f20" stroke-width="0.22">0.4</text>
<line x1="161.60" y1="246.10" x2="165.20" y2="246.10" stroke="#231f20" stroke-width="1.0"/>
<text x="160.20" y="249.00" font-size="8.2" text-anchor="end" fill="#231f20" stroke="#231f20" stroke-width="0.22">0.3</text>
<line x1="161.60" y1="258.30" x2="165.20" y2="258.30" stroke="#231f20" stroke-width="1.0"/>
<text x="160.20" y="261.20" font-size="8.2" text-anchor="end" fill="#231f20" stroke="#231f20" stroke-width="0.22">0.2</text>
<line x1="161.60" y1="270.40" x2="165.20" y2="270.40" stroke="#231f20" stroke-width="1.0"/>
<text x="160.20" y="273.30" font-size="8.2" text-anchor="end" fill="#231f20" stroke="#231f20" stroke-width="0.22">0.1</text>
<text x="183.80" y="203.80" font-size="9.2" text-anchor="middle" fill="#231f20" stroke="#231f20" stroke-width="0.22">5UTR</text>
<line x1="176.00" y1="243.50" x2="176.00" y2="274.20" stroke="#4d4d4d" stroke-width="1.0"/>
<line x1="171.70" y1="243.50" x2="180.30" y2="243.50" stroke="#4d4d4d" stroke-width="1.0"/>
<line x1="171.70" y1="274.20" x2="180.30" y2="274.20" stroke="#4d4d4d" stroke-width="1.0"/>
<rect x="169.20" y="254.40" width="13.60" height="15.40" fill="#e48699"/>
<line x1="169.20" y1="265.40" x2="182.80" y2="265.40" stroke="#111" stroke-width="1.5"/>
<circle cx="174.20" cy="243.50" r="1.45" fill="#d7102e"/>
<circle cx="176.00" cy="265.80" r="1.45" fill="#f7941d"/>
<circle cx="177.20" cy="274.20" r="1.45" fill="#5b1f73"/>
<line x1="193.40" y1="213.00" x2="193.40" y2="214.40" stroke="#4d4d4d" stroke-width="1.0"/>
<line x1="189.10" y1="213.00" x2="197.70" y2="213.00" stroke="#4d4d4d" stroke-width="1.0"/>
<line x1="189.10" y1="214.40" x2="197.70" y2="214.40" stroke="#4d4d4d" stroke-width="1.0"/>
<rect x="187.20" y="213.00" width="12.40" height="1.40" fill="#8eadcb"/>
<line x1="187.20" y1="213.60" x2="199.60" y2="213.60" stroke="#111" stroke-width="1.5"/>
<circle cx="192.80" cy="214.20" r="1.45" fill="#3cc34a"/>
<circle cx="194.40" cy="212.60" r="1.45" fill="#1f4f8f"/>
<text x="176.00" y="290.00" font-size="8.2" text-anchor="middle" fill="#231f20" stroke="#231f20" stroke-width="0.22">MT</text>
<text x="193.40" y="290.00" font-size="8.2" text-anchor="middle" fill="#231f20" stroke="#231f20" stroke-width="0.22">WT</text>
<line x1="176.00" y1="277.50" x2="176.00" y2="280.00" stroke="#231f20" stroke-width="1.0"/>
<line x1="193.40" y1="277.50" x2="193.40" y2="280.00" stroke="#231f20" stroke-width="1.0"/>
<line x1="227.20" y1="206.60" x2="227.20" y2="278.00" stroke="#231f20" stroke-width="1.1"/>
<line x1="226.70" y1="277.50" x2="265.00" y2="277.50" stroke="#231f20" stroke-width="1.1"/>
<line x1="223.60" y1="226.90" x2="227.20" y2="226.90" stroke="#231f20" stroke-width="1.0"/>
<text x="222.20" y="229.80" font-size="8.2" text-anchor="end" fill="#231f20" stroke="#231f20" stroke-width="0.22">0.48</text>
<line x1="223.60" y1="246.00" x2="227.20" y2="246.00" stroke="#231f20" stroke-width="1.0"/>
<text x="222.20" y="248.90" font-size="8.2" text-anchor="end" fill="#231f20" stroke="#231f20" stroke-width="0.22">0.44</text>
<line x1="223.60" y1="265.00" x2="227.20" y2="265.00" stroke="#231f20" stroke-width="1.0"/>
<text x="222.20" y="267.90" font-size="8.2" text-anchor="end" fill="#231f20" stroke="#231f20" stroke-width="0.22">0.40</text>
<text x="246.00" y="203.80" font-size="9.2" text-anchor="middle" fill="#231f20" stroke="#231f20" stroke-width="0.22">Intron</text>
<line x1="237.55" y1="212.60" x2="237.55" y2="225.30" stroke="#4d4d4d" stroke-width="1.0"/>
<line x1="233.25" y1="212.60" x2="241.85" y2="212.60" stroke="#4d4d4d" stroke-width="1.0"/>
<line x1="233.25" y1="225.30" x2="241.85" y2="225.30" stroke="#4d4d4d" stroke-width="1.0"/>
<rect x="231.20" y="214.90" width="12.70" height="6.30" fill="#e48699"/>
<line x1="231.20" y1="217.20" x2="243.90" y2="217.20" stroke="#111" stroke-width="1.5"/>
<circle cx="238.75" cy="212.60" r="1.45" fill="#5b1f73"/>
<circle cx="237.55" cy="217.40" r="1.45" fill="#f7941d"/>
<circle cx="236.55" cy="225.40" r="1.45" fill="#d7102e"/>
<line x1="255.00" y1="244.90" x2="255.00" y2="274.90" stroke="#4d4d4d" stroke-width="1.0"/>
<line x1="250.70" y1="244.90" x2="259.30" y2="244.90" stroke="#4d4d4d" stroke-width="1.0"/>
<line x1="250.70" y1="274.90" x2="259.30" y2="274.90" stroke="#4d4d4d" stroke-width="1.0"/>
<rect x="248.20" y="252.30" width="13.60" height="14.60" fill="#8eadcb"/>
<line x1="248.20" y1="259.20" x2="261.80" y2="259.20" stroke="#111" stroke-width="1.5"/>
<circle cx="254.50" cy="244.90" r="1.45" fill="#1f4f8f"/>
<circle cx="254.50" cy="274.90" r="1.45" fill="#3cc34a"/>
<text x="237.80" y="290.00" font-size="8.2" text-anchor="middle" fill="#231f20" stroke="#231f20" stroke-width="0.22">MT</text>
<text x="255.00" y="290.00" font-size="8.2" text-anchor="middle" fill="#231f20" stroke="#231f20" stroke-width="0.22">WT</text>
<line x1="237.80" y1="277.50" x2="237.80" y2="280.00" stroke="#231f20" stroke-width="1.0"/>
<line x1="255.00" y1="277.50" x2="255.00" y2="280.00" stroke="#231f20" stroke-width="1.0"/>
<line x1="284.70" y1="206.60" x2="284.70" y2="278.00" stroke="#231f20" stroke-width="1.1"/>
<line x1="284.20" y1="277.50" x2="322.40" y2="277.50" stroke="#231f20" stroke-width="1.1"/>
<line x1="281.10" y1="224.30" x2="284.70" y2="224.30" stroke="#231f20" stroke-width="1.0"/>
<text x="279.70" y="227.20" font-size="8.2" text-anchor="end" fill="#231f20" stroke="#231f20" stroke-width="0.22">1.6</text>
<line x1="281.10" y1="241.10" x2="284.70" y2="241.10" stroke="#231f20" stroke-width="1.0"/>
<text x="279.70" y="244.00" font-size="8.2" text-anchor="end" fill="#231f20" stroke="#231f20" stroke-width="0.22">1.5</text>
<line x1="281.10" y1="258.00" x2="284.70" y2="258.00" stroke="#231f20" stroke-width="1.0"/>
<text x="279.70" y="260.90" font-size="8.2" text-anchor="end" fill="#231f20" stroke="#231f20" stroke-width="0.22">1.4</text>
<line x1="281.10" y1="274.90" x2="284.70" y2="274.90" stroke="#231f20" stroke-width="1.0"/>
<text x="279.70" y="277.80" font-size="8.2" text-anchor="end" fill="#231f20" stroke="#231f20" stroke-width="0.22">1.3</text>
<text x="304.20" y="203.80" font-size="9.2" text-anchor="middle" fill="#231f20" stroke="#231f20" stroke-width="0.22">Exon</text>
<line x1="295.35" y1="251.50" x2="295.35" y2="274.40" stroke="#4d4d4d" stroke-width="1.0"/>
<line x1="291.05" y1="251.50" x2="299.65" y2="251.50" stroke="#4d4d4d" stroke-width="1.0"/>
<line x1="291.05" y1="274.40" x2="299.65" y2="274.40" stroke="#4d4d4d" stroke-width="1.0"/>
<rect x="288.60" y="257.50" width="13.50" height="11.70" fill="#e48699"/>
<line x1="288.60" y1="264.00" x2="302.10" y2="264.00" stroke="#111" stroke-width="1.5"/>
<circle cx="295.35" cy="251.50" r="1.45" fill="#d7102e"/>
<circle cx="297.55" cy="264.00" r="1.45" fill="#f7941d"/>
<circle cx="296.35" cy="274.60" r="1.45" fill="#5b1f73"/>
<line x1="312.50" y1="212.80" x2="312.50" y2="267.90" stroke="#4d4d4d" stroke-width="1.0"/>
<line x1="308.20" y1="212.80" x2="316.80" y2="212.80" stroke="#4d4d4d" stroke-width="1.0"/>
<line x1="308.20" y1="267.90" x2="316.80" y2="267.90" stroke="#4d4d4d" stroke-width="1.0"/>
<rect x="306.00" y="227.10" width="13.00" height="27.00" fill="#8eadcb"/>
<line x1="306.00" y1="240.60" x2="319.00" y2="240.60" stroke="#111" stroke-width="1.5"/>
<circle cx="312.50" cy="212.80" r="1.45" fill="#1f4f8f"/>
<circle cx="310.10" cy="267.90" r="1.45" fill="#3cc34a"/>
<text x="295.40" y="290.00" font-size="8.2" text-anchor="middle" fill="#231f20" stroke="#231f20" stroke-width="0.22">MT</text>
<text x="312.60" y="290.00" font-size="8.2" text-anchor="middle" fill="#231f20" stroke="#231f20" stroke-width="0.22">WT</text>
<line x1="295.40" y1="277.50" x2="295.40" y2="280.00" stroke="#231f20" stroke-width="1.0"/>
<line x1="312.60" y1="277.50" x2="312.60" y2="280.00" stroke="#231f20" stroke-width="1.0"/>
<line x1="346.20" y1="206.60" x2="346.20" y2="278.00" stroke="#231f20" stroke-width="1.1"/>
<line x1="345.70" y1="277.50" x2="384.00" y2="277.50" stroke="#231f20" stroke-width="1.1"/>
<line x1="342.60" y1="212.60" x2="346.20" y2="212.60" stroke="#231f20" stroke-width="1.0"/>
<text x="341.20" y="215.50" font-size="8.2" text-anchor="end" fill="#231f20" stroke="#231f20" stroke-width="0.22">0.85</text>
<line x1="342.60" y1="233.40" x2="346.20" y2="233.40" stroke="#231f20" stroke-width="1.0"/>
<text x="341.20" y="236.30" font-size="8.2" text-anchor="end" fill="#231f20" stroke="#231f20" stroke-width="0.22">0.80</text>
<line x1="342.60" y1="254.30" x2="346.20" y2="254.30" stroke="#231f20" stroke-width="1.0"/>
<text x="341.20" y="257.20" font-size="8.2" text-anchor="end" fill="#231f20" stroke="#231f20" stroke-width="0.22">0.75</text>
<line x1="342.60" y1="275.20" x2="346.20" y2="275.20" stroke="#231f20" stroke-width="1.0"/>
<text x="341.20" y="278.10" font-size="8.2" text-anchor="end" fill="#231f20" stroke="#231f20" stroke-width="0.22">0.70</text>
<text x="365.80" y="203.80" font-size="9.2" text-anchor="middle" fill="#231f20" stroke="#231f20" stroke-width="0.22">3UTR</text>
<line x1="356.85" y1="233.40" x2="356.85" y2="256.20" stroke="#4d4d4d" stroke-width="1.0"/>
<line x1="352.55" y1="233.40" x2="361.15" y2="233.40" stroke="#4d4d4d" stroke-width="1.0"/>
<line x1="352.55" y1="256.20" x2="361.15" y2="256.20" stroke="#4d4d4d" stroke-width="1.0"/>
<rect x="350.10" y="239.30" width="13.50" height="12.20" fill="#e48699"/>
<line x1="350.10" y1="246.30" x2="363.60" y2="246.30" stroke="#111" stroke-width="1.5"/>
<circle cx="356.65" cy="233.40" r="1.45" fill="#f7941d"/>
<circle cx="356.85" cy="246.30" r="1.45" fill="#d7102e"/>
<circle cx="353.85" cy="256.40" r="1.45" fill="#5b1f73"/>
<line x1="374.50" y1="212.60" x2="374.50" y2="274.40" stroke="#4d4d4d" stroke-width="1.0"/>
<line x1="370.20" y1="212.60" x2="378.80" y2="212.60" stroke="#4d4d4d" stroke-width="1.0"/>
<line x1="370.20" y1="274.40" x2="378.80" y2="274.40" stroke="#4d4d4d" stroke-width="1.0"/>
<rect x="367.80" y="228.40" width="13.40" height="30.40" fill="#8eadcb"/>
<line x1="367.80" y1="243.70" x2="381.20" y2="243.70" stroke="#111" stroke-width="1.5"/>
<circle cx="374.50" cy="212.60" r="1.45" fill="#1f4f8f"/>
<circle cx="377.10" cy="274.40" r="1.45" fill="#3cc34a"/>
<text x="357.00" y="290.00" font-size="8.2" text-anchor="middle" fill="#231f20" stroke="#231f20" stroke-width="0.22">MT</text>
<text x="374.40" y="290.00" font-size="8.2" text-anchor="middle" fill="#231f20" stroke="#231f20" stroke-width="0.22">WT</text>
<line x1="357.00" y1="277.50" x2="357.00" y2="280.00" stroke="#231f20" stroke-width="1.0"/>
<line x1="374.40" y1="277.50" x2="374.40" y2="280.00" stroke="#231f20" stroke-width="1.0"/>
<line x1="408.40" y1="206.60" x2="408.40" y2="278.00" stroke="#231f20" stroke-width="1.1"/>
<line x1="407.90" y1="277.50" x2="446.40" y2="277.50" stroke="#231f20" stroke-width="1.1"/>
<line x1="404.80" y1="220.30" x2="408.40" y2="220.30" stroke="#231f20" stroke-width="1.0"/>
<text x="403.40" y="223.20" font-size="8.2" text-anchor="end" fill="#231f20" stroke="#231f20" stroke-width="0.22">0.40</text>
<line x1="404.80" y1="240.30" x2="408.40" y2="240.30" stroke="#231f20" stroke-width="1.0"/>
<text x="403.40" y="243.20" font-size="8.2" text-anchor="end" fill="#231f20" stroke="#231f20" stroke-width="0.22">0.36</text>
<line x1="404.80" y1="259.80" x2="408.40" y2="259.80" stroke="#231f20" stroke-width="1.0"/>
<text x="403.40" y="262.70" font-size="8.2" text-anchor="end" fill="#231f20" stroke="#231f20" stroke-width="0.22">0.32</text>
<text x="427.40" y="203.80" font-size="9.2" text-anchor="middle" fill="#231f20" stroke="#231f20" stroke-width="0.22">TTS</text>
<line x1="419.20" y1="252.90" x2="419.20" y2="274.20" stroke="#4d4d4d" stroke-width="1.0"/>
<line x1="414.90" y1="252.90" x2="423.50" y2="252.90" stroke="#4d4d4d" stroke-width="1.0"/>
<line x1="414.90" y1="274.20" x2="423.50" y2="274.20" stroke="#4d4d4d" stroke-width="1.0"/>
<rect x="412.70" y="258.40" width="13.00" height="10.30" fill="#e48699"/>
<line x1="412.70" y1="263.60" x2="425.70" y2="263.60" stroke="#111" stroke-width="1.5"/>
<circle cx="419.00" cy="252.90" r="1.45" fill="#d7102e"/>
<circle cx="421.00" cy="263.60" r="1.45" fill="#f7941d"/>
<circle cx="418.20" cy="274.20" r="1.45" fill="#5b1f73"/>
<line x1="436.35" y1="212.50" x2="436.35" y2="231.00" stroke="#4d4d4d" stroke-width="1.0"/>
<line x1="432.05" y1="212.50" x2="440.65" y2="212.50" stroke="#4d4d4d" stroke-width="1.0"/>
<line x1="432.05" y1="231.00" x2="440.65" y2="231.00" stroke="#4d4d4d" stroke-width="1.0"/>
<rect x="429.70" y="217.40" width="13.30" height="8.60" fill="#8eadcb"/>
<line x1="429.70" y1="221.20" x2="443.00" y2="221.20" stroke="#111" stroke-width="1.5"/>
<circle cx="437.15" cy="212.50" r="1.45" fill="#1f4f8f"/>
<circle cx="434.15" cy="231.00" r="1.45" fill="#3cc34a"/>
<text x="419.20" y="290.00" font-size="8.2" text-anchor="middle" fill="#231f20" stroke="#231f20" stroke-width="0.22">MT</text>
<text x="436.40" y="290.00" font-size="8.2" text-anchor="middle" fill="#231f20" stroke="#231f20" stroke-width="0.22">WT</text>
<line x1="419.20" y1="277.50" x2="419.20" y2="280.00" stroke="#231f20" stroke-width="1.0"/>
<line x1="436.40" y1="277.50" x2="436.40" y2="280.00" stroke="#231f20" stroke-width="1.0"/>
<line x1="469.50" y1="206.60" x2="469.50" y2="278.00" stroke="#231f20" stroke-width="1.1"/>
<line x1="469.00" y1="277.50" x2="508.40" y2="277.50" stroke="#231f20" stroke-width="1.1"/>
<line x1="465.90" y1="224.60" x2="469.50" y2="224.60" stroke="#231f20" stroke-width="1.0"/>
<text x="464.50" y="227.50" font-size="8.2" text-anchor="end" fill="#231f20" stroke="#231f20" stroke-width="0.22">−1.2</text>
<line x1="465.90" y1="241.30" x2="469.50" y2="241.30" stroke="#231f20" stroke-width="1.0"/>
<text x="464.50" y="244.20" font-size="8.2" text-anchor="end" fill="#231f20" stroke="#231f20" stroke-width="0.22">−1.6</text>
<line x1="465.90" y1="258.40" x2="469.50" y2="258.40" stroke="#231f20" stroke-width="1.0"/>
<text x="464.50" y="261.30" font-size="8.2" text-anchor="end" fill="#231f20" stroke="#231f20" stroke-width="0.22">−2.0</text>
<line x1="465.90" y1="275.10" x2="469.50" y2="275.10" stroke="#231f20" stroke-width="1.0"/>
<text x="464.50" y="278.00" font-size="8.2" text-anchor="end" fill="#231f20" stroke="#231f20" stroke-width="0.22">−2.4</text>
<text x="489.60" y="203.80" font-size="9.2" text-anchor="middle" fill="#231f20" stroke="#231f20" stroke-width="0.22">CpG-Island</text>
<line x1="480.75" y1="257.20" x2="480.75" y2="274.20" stroke="#4d4d4d" stroke-width="1.0"/>
<line x1="476.45" y1="257.20" x2="485.05" y2="257.20" stroke="#4d4d4d" stroke-width="1.0"/>
<line x1="476.45" y1="274.20" x2="485.05" y2="274.20" stroke="#4d4d4d" stroke-width="1.0"/>
<rect x="473.80" y="260.10" width="13.90" height="7.80" fill="#e48699"/>
<line x1="473.80" y1="263.60" x2="487.70" y2="263.60" stroke="#111" stroke-width="1.5"/>
<circle cx="481.55" cy="257.20" r="1.45" fill="#5b1f73"/>
<circle cx="477.75" cy="263.60" r="1.45" fill="#f7941d"/>
<circle cx="480.55" cy="274.20" r="1.45" fill="#d7102e"/>
<line x1="498.05" y1="212.60" x2="498.05" y2="220.30" stroke="#4d4d4d" stroke-width="1.0"/>
<line x1="493.75" y1="212.60" x2="502.35" y2="212.60" stroke="#4d4d4d" stroke-width="1.0"/>
<line x1="493.75" y1="220.30" x2="502.35" y2="220.30" stroke="#4d4d4d" stroke-width="1.0"/>
<rect x="491.10" y="215.60" width="13.90" height="2.60" fill="#8eadcb"/>
<line x1="491.10" y1="216.80" x2="505.00" y2="216.80" stroke="#111" stroke-width="1.5"/>
<circle cx="499.45" cy="212.40" r="1.45" fill="#3cc34a"/>
<circle cx="496.85" cy="220.40" r="1.45" fill="#1f4f8f"/>
<text x="480.60" y="290.00" font-size="8.2" text-anchor="middle" fill="#231f20" stroke="#231f20" stroke-width="0.22">MT</text>
<text x="498.40" y="290.00" font-size="8.2" text-anchor="middle" fill="#231f20" stroke="#231f20" stroke-width="0.22">WT</text>
<line x1="480.60" y1="277.50" x2="480.60" y2="280.00" stroke="#231f20" stroke-width="1.0"/>
<line x1="498.40" y1="277.50" x2="498.40" y2="280.00" stroke="#231f20" stroke-width="1.0"/>
<defs><linearGradient id="yel" x1="0" y1="0" x2="0" y2="1"><stop offset="0" stop-color="#ffff00"/><stop offset="0.08" stop-color="#e8e400"/><stop offset="0.5" stop-color="#bcb400"/><stop offset="1" stop-color="#9c9510"/></linearGradient><linearGradient id="cb1" x1="0" y1="0" x2="1" y2="0"><stop offset="0" stop-color="#ffff00"/><stop offset="0.5" stop-color="#000"/><stop offset="1" stop-color="#0000ff"/></linearGradient><linearGradient id="cb2" x1="0" y1="0" x2="1" y2="0"><stop offset="0" stop-color="#ff0000"/><stop offset="0.5" stop-color="#000"/><stop offset="1" stop-color="#00ff00"/></linearGradient></defs>
<rect x="42.00" y="306.00" width="23.00" height="121.60" fill="url(#yel)"/>
<rect x="42.00" y="430.60" width="23.00" height="53.00" fill="#2a2b74"/>
<rect x="67.80" y="306.00" width="23.40" height="121.60" fill="#4a2c2c"/>
<rect x="67.80" y="307.50" width="23.40" height="0.80" fill="#b81414" opacity="0.76"/>
<rect x="67.80" y="310.24" width="23.40" height="1.20" fill="#b01818" opacity="0.90"/>
<rect x="67.80" y="313.10" width="23.40" height="0.80" fill="#6a2424" opacity="0.69"/>
<rect x="67.80" y="316.12" width="23.40" height="0.60" fill="#8a2020" opacity="0.87"/>
<rect x="67.80" y="318.29" width="23.40" height="0.80" fill="#b01818" opacity="0.86"/>
<rect x="67.80" y="321.14" width="23.40" height="1.20" fill="#902020" opacity="0.80"/>
<rect x="67.80" y="323.87" width="23.40" height="1.20" fill="#a01a1a" opacity="0.88"/>
<rect x="67.80" y="326.84" width="23.40" height="0.60" fill="#902020" opacity="0.88"/>
<rect x="67.80" y="328.90" width="23.40" height="0.80" fill="#902020" opacity="0.82"/>
<rect x="67.80" y="330.73" width="23.40" height="0.60" fill="#b81414" opacity="0.52"/>
<rect x="67.80" y="333.44" width="23.40" height="1.20" fill="#b81414" opacity="0.52"/>
<rect x="67.80" y="336.64" width="23.40" height="1.20" fill="#b01818" opacity="0.48"/>
<rect x="67.80" y="338.99" width="23.40" height="0.60" fill="#a01a1a" opacity="0.70"/>
<rect x="67.80" y="341.40" width="23.40" height="1.20" fill="#b01818" opacity="0.60"/>
<rect x="67.80" y="343.66" width="23.40" height="1.20" fill="#8a2020" opacity="0.61"/>
<rect x="67.80" y="346.47" width="23.40" height="1.20" fill="#8a2020" opacity="0.90"/>
<rect x="67.80" y="349.17" width="23.40" height="0.60" fill="#a01a1a" opacity="0.52"/>
<rect x="67.80" y="351.86" width="23.40" height="1.20" fill="#a01a1a" opacity="0.67"/>
<rect x="67.80" y="354.85" width="23.40" height="0.80" fill="#6a2424" opacity="0.72"/>
<rect x="67.80" y="357.45" width="23.40" height="0.60" fill="#b01818" opacity="0.75"/>
<rect x="67.80" y="359.98" width="23.40" height="1.00" fill="#8a2020" opacity="0.79"/>
<rect x="67.80" y="363.45" width="23.40" height="0.80" fill="#a01a1a" opacity="0.53"/>
<rect x="67.80" y="366.71" width="23.40" height="0.80" fill="#b81414" opacity="0.62"/>
<rect x="67.80" y="369.54" width="23.40" height="0.80" fill="#b81414" opacity="0.86"/>
<rect x="67.80" y="371.44" width="23.40" height="0.60" fill="#8a2020" opacity="0.67"/>
<rect x="67.80" y="373.51" width="23.40" height="0.80" fill="#b01818" opacity="0.52"/>
<rect x="67.80" y="375.24" width="23.40" height="1.20" fill="#902020" opacity="0.67"/>
<rect x="67.80" y="378.74" width="23.40" height="0.60" fill="#8a2020" opacity="0.75"/>
<rect x="67.80" y="380.21" width="23.40" height="0.80" fill="#b01818" opacity="0.63"/>
<rect x="67.80" y="383.37" width="23.40" height="0.80" fill="#b01818" opacity="0.79"/>
<rect x="67.80" y="385.84" width="23.40" height="1.00" fill="#b01818" opacity="0.88"/>
<rect x="67.80" y="388.58" width="23.40" height="1.20" fill="#a01a1a" opacity="0.88"/>
<rect x="67.80" y="392.20" width="23.40" height="1.00" fill="#b01818" opacity="0.85"/>
<rect x="67.80" y="395.08" width="23.40" height="1.20" fill="#b81414" opacity="0.71"/>
<rect x="67.80" y="398.61" width="23.40" height="1.00" fill="#b01818" opacity="0.69"/>
<rect x="67.80" y="400.91" width="23.40" height="0.60" fill="#b81414" opacity="0.76"/>
<rect x="67.80" y="404.03" width="23.40" height="0.60" fill="#8a2020" opacity="0.72"/>
<rect x="67.80" y="406.59" width="23.40" height="1.20" fill="#8a2020" opacity="0.76"/>
<rect x="67.80" y="409.94" width="23.40" height="0.80" fill="#b01818" opacity="0.51"/>
<rect x="67.80" y="412.25" width="23.40" height="0.80" fill="#a01a1a" opacity="0.74"/>
<rect x="67.80" y="415.27" width="23.40" height="0.60" fill="#a01a1a" opacity="0.74"/>
<rect x="67.80" y="416.90" width="23.40" height="1.00" fill="#b81414" opacity="0.67"/>
<rect x="67.80" y="419.09" width="23.40" height="0.80" fill="#b01818" opacity="0.53"/>
<rect x="67.80" y="421.37" width="23.40" height="0.60" fill="#6a2424" opacity="0.77"/>
<rect x="67.80" y="424.34" width="23.40" height="0.60" fill="#a01a1a" opacity="0.62"/>
<rect x="67.80" y="306.00" width="23.40" height="3.00" fill="#3e3a3a" opacity="0.8"/>
<rect x="67.80" y="430.60" width="23.40" height="53.00" fill="#2e3c2e"/>
<rect x="67.80" y="431.50" width="23.40" height="0.80" fill="#22b022" opacity="0.59"/>
<rect x="67.80" y="434.72" width="23.40" height="0.80" fill="#22b022" opacity="0.66"/>
<rect x="67.80" y="436.61" width="23.40" height="0.80" fill="#20a020" opacity="0.65"/>
<rect x="67.80" y="440.21" width="23.40" height="0.80" fill="#22b022" opacity="0.90"/>
<rect x="67.80" y="442.99" width="23.40" height="1.00" fill="#1a8a1a" opacity="0.77"/>
<rect x="67.80" y="445.11" width="23.40" height="1.00" fill="#168016" opacity="0.98"/>
<rect x="67.80" y="447.73" width="23.40" height="1.00" fill="#22b022" opacity="0.76"/>
<rect x="67.80" y="450.85" width="23.40" height="0.60" fill="#22b022" opacity="0.91"/>
<rect x="67.80" y="454.40" width="23.40" height="0.80" fill="#1a8a1a" opacity="0.66"/>
<rect x="67.80" y="458.19" width="23.40" height="0.60" fill="#1a8a1a" opacity="0.83"/>
<rect x="67.80" y="461.04" width="23.40" height="0.80" fill="#22b022" opacity="0.81"/>
<rect x="67.80" y="462.88" width="23.40" height="1.00" fill="#2a7a2a" opacity="0.74"/>
<rect x="67.80" y="465.91" width="23.40" height="0.80" fill="#1a8a1a" opacity="0.61"/>
<rect x="67.80" y="467.81" width="23.40" height="0.80" fill="#1a8a1a" opacity="0.62"/>
<rect x="67.80" y="471.01" width="23.40" height="0.80" fill="#2a7a2a" opacity="0.73"/>
<rect x="67.80" y="473.29" width="23.40" height="0.80" fill="#168016" opacity="0.74"/>
<rect x="67.80" y="476.35" width="23.40" height="1.00" fill="#1a8a1a" opacity="0.52"/>
<rect x="67.80" y="478.70" width="23.40" height="0.80" fill="#22b022" opacity="0.95"/>
<rect x="67.80" y="482.06" width="23.40" height="1.00" fill="#22b022" opacity="0.83"/>
<line x1="36.60" y1="311.50" x2="36.60" y2="482.00" stroke="#231f20" stroke-width="0.9"/>
<path d="M36.6,309.0 L34.6,313.6 L38.6,313.6 Z" fill="#231f20" stroke="none" stroke-width="1"/>
<path d="M36.6,484.8 L34.6,480.2 L38.6,480.2 Z" fill="#231f20" stroke="none" stroke-width="1"/>
<text transform="translate(33.00,396.60) rotate(-90)" x="0" y="0" font-size="8.6" text-anchor="middle" textLength="164" lengthAdjust="spacingAndGlyphs" fill="#231f20" stroke="#231f20" stroke-width="0.22">Differentially methylated and expressed genes</text>
<rect x="42.20" y="488.80" width="15.20" height="6.40" fill="url(#cb1)" stroke="#555" stroke-width="0.4"/>
<rect x="76.40" y="488.80" width="14.80" height="6.40" fill="url(#cb2)" stroke="#555" stroke-width="0.4"/>
<text x="41.40" y="495.20" font-size="7.8" text-anchor="end" fill="#231f20" stroke="#231f20" stroke-width="0.22">−3</text>
<text x="58.00" y="495.20" font-size="7.8" fill="#231f20" stroke="#231f20" stroke-width="0.22">9</text>
<text x="75.60" y="495.20" font-size="7.8" text-anchor="end" fill="#231f20" stroke="#231f20" stroke-width="0.22">9</text>
<text x="91.80" y="495.20" font-size="7.8" fill="#231f20" stroke="#231f20" stroke-width="0.22">−9</text>
<rect x="49.50" y="562.50" width="21.30" height="10.20" fill="#d40000"/>
<rect x="70.20" y="562.50" width="21.30" height="10.20" fill="#b40000"/>
<rect x="90.90" y="562.50" width="20.30" height="10.20" fill="#cc0000"/>
<rect x="113.00" y="562.50" width="20.70" height="10.20" fill="#00a400"/>
<rect x="133.10" y="562.50" width="20.20" height="10.20" fill="#00d000"/>
<rect x="38.60" y="562.50" width="9.80" height="10.20" fill="#ffff00"/>
<text x="35.40" y="568.90" font-size="8.0" text-anchor="end" fill="#231f20" stroke="#231f20" stroke-width="0.22">WARS</text>
<rect x="49.50" y="572.10" width="21.30" height="10.30" fill="#000e00"/>
<rect x="70.20" y="572.10" width="21.30" height="10.30" fill="#e00000"/>
<rect x="90.90" y="572.10" width="20.30" height="10.30" fill="#e00000"/>
<rect x="113.00" y="572.10" width="20.70" height="10.30" fill="#00d000"/>
<rect x="133.10" y="572.10" width="20.20" height="10.30" fill="#00a400"/>
<rect x="38.60" y="572.10" width="9.80" height="10.30" fill="#c8c000"/>
<text x="35.40" y="578.50" font-size="8.0" text-anchor="end" fill="#231f20" stroke="#231f20" stroke-width="0.22">GZMB</text>
<rect x="49.50" y="581.80" width="21.30" height="10.20" fill="#c40000"/>
<rect x="70.20" y="581.80" width="21.30" height="10.20" fill="#e00000"/>
<rect x="90.90" y="581.80" width="20.30" height="10.20" fill="#c00000"/>
<rect x="113.00" y="581.80" width="20.70" height="10.20" fill="#00c400"/>
<rect x="133.10" y="581.80" width="20.20" height="10.20" fill="#00b400"/>
<rect x="38.60" y="581.80" width="9.80" height="10.20" fill="#bcb400"/>
<text x="35.40" y="588.20" font-size="8.0" text-anchor="end" fill="#231f20" stroke="#231f20" stroke-width="0.22">CCND1</text>
<rect x="49.50" y="591.40" width="21.30" height="10.30" fill="#d80000"/>
<rect x="70.20" y="591.40" width="21.30" height="10.30" fill="#680000"/>
<rect x="90.90" y="591.40" width="20.30" height="10.30" fill="#b80000"/>
<rect x="113.00" y="591.40" width="20.70" height="10.30" fill="#002200"/>
<rect x="133.10" y="591.40" width="20.20" height="10.30" fill="#00e400"/>
<rect x="38.60" y="591.40" width="9.80" height="10.30" fill="#b0a800"/>
<text x="35.40" y="597.80" font-size="8.0" text-anchor="end" fill="#231f20" stroke="#231f20" stroke-width="0.22">CCND3</text>
<rect x="49.50" y="601.10" width="21.30" height="10.40" fill="#080000"/>
<rect x="70.20" y="601.10" width="21.30" height="10.40" fill="#ff0000"/>
<rect x="90.90" y="601.10" width="20.30" height="10.40" fill="#001c00"/>
<rect x="113.00" y="601.10" width="20.70" height="10.40" fill="#00ac00"/>
<rect x="133.10" y="601.10" width="20.20" height="10.40" fill="#00c400"/>
<rect x="38.60" y="601.10" width="9.80" height="10.40" fill="#a09800"/>
<text x="35.40" y="607.50" font-size="8.0" text-anchor="end" fill="#231f20" stroke="#231f20" stroke-width="0.22">TCF7</text>
<rect x="49.50" y="610.90" width="21.30" height="10.30" fill="#c00000"/>
<rect x="70.20" y="610.90" width="21.30" height="10.30" fill="#b80000"/>
<rect x="90.90" y="610.90" width="20.30" height="10.30" fill="#cc0000"/>
<rect x="113.00" y="610.90" width="20.70" height="10.30" fill="#00e400"/>
<rect x="133.10" y="610.90" width="20.20" height="10.30" fill="#003200"/>
<rect x="38.60" y="610.90" width="9.80" height="10.30" fill="#908800"/>
<text x="35.40" y="617.30" font-size="8.0" text-anchor="end" fill="#231f20" stroke="#231f20" stroke-width="0.22">STAT5B</text>
<rect x="49.50" y="620.60" width="21.30" height="10.30" fill="#e00000"/>
<rect x="70.20" y="620.60" width="21.30" height="10.30" fill="#500000"/>
<rect x="90.90" y="620.60" width="20.30" height="10.30" fill="#a00000"/>
<rect x="113.00" y="620.60" width="20.70" height="10.30" fill="#00e400"/>
<rect x="133.10" y="620.60" width="20.20" height="10.30" fill="#000c00"/>
<rect x="38.60" y="620.60" width="9.80" height="10.30" fill="#8c8400"/>
<text x="35.40" y="627.00" font-size="8.0" text-anchor="end" fill="#231f20" stroke="#231f20" stroke-width="0.22">MCL1</text>
<rect x="49.50" y="630.30" width="21.30" height="9.70" fill="#e00000"/>
<rect x="70.20" y="630.30" width="21.30" height="9.70" fill="#d00000"/>
<rect x="90.90" y="630.30" width="20.30" height="9.70" fill="#b00000"/>
<rect x="113.00" y="630.30" width="20.70" height="9.70" fill="#00e400"/>
<rect x="133.10" y="630.30" width="20.20" height="9.70" fill="#00b400"/>
<rect x="38.60" y="630.30" width="9.80" height="9.70" fill="#888000"/>
<text x="35.40" y="636.70" font-size="8.0" text-anchor="end" fill="#231f20" stroke="#231f20" stroke-width="0.22">STAT1</text>
<rect x="49.50" y="641.20" width="21.30" height="9.80" fill="#00c400"/>
<rect x="70.20" y="641.20" width="21.30" height="9.80" fill="#005400"/>
<rect x="90.90" y="641.20" width="20.30" height="9.80" fill="#004a00"/>
<rect x="113.00" y="641.20" width="20.70" height="9.80" fill="#ff0000"/>
<rect x="133.10" y="641.20" width="20.20" height="9.80" fill="#300000"/>
<rect x="38.60" y="641.20" width="9.80" height="9.80" fill="#0000c8"/>
<text x="35.40" y="647.60" font-size="8.0" text-anchor="end" fill="#231f20" stroke="#231f20" stroke-width="0.22">GATA3</text>
<rect x="49.50" y="650.40" width="21.30" height="9.80" fill="#00a400"/>
<rect x="70.20" y="650.40" width="21.30" height="9.80" fill="#00b400"/>
<rect x="90.90" y="650.40" width="20.30" height="9.80" fill="#00a400"/>
<rect x="113.00" y="650.40" width="20.70" height="9.80" fill="#a00000"/>
<rect x="133.10" y="650.40" width="20.20" height="9.80" fill="#ff0000"/>
<rect x="38.60" y="650.40" width="9.80" height="9.80" fill="#0000d8"/>
<text x="35.40" y="656.80" font-size="8.0" text-anchor="end" fill="#231f20" stroke="#231f20" stroke-width="0.22">CCR3</text>
<rect x="49.50" y="659.60" width="21.30" height="9.20" fill="#00a400"/>
<rect x="70.20" y="659.60" width="21.30" height="9.20" fill="#00b400"/>
<rect x="90.90" y="659.60" width="20.30" height="9.20" fill="#00b400"/>
<rect x="113.00" y="659.60" width="20.70" height="9.20" fill="#ff0000"/>
<rect x="133.10" y="659.60" width="20.20" height="9.20" fill="#b00000"/>
<rect x="38.60" y="659.60" width="9.80" height="9.20" fill="#0000ff"/>
<text x="35.40" y="666.00" font-size="8.0" text-anchor="end" fill="#231f20" stroke="#231f20" stroke-width="0.22">ICOS</text>
<text transform="translate(60.90,561.00) rotate(-45)" x="0" y="0" font-size="8.5" textLength="59.5" lengthAdjust="spacingAndGlyphs" fill="#231f20" stroke="#231f20" stroke-width="0.22">DNMT3A-R882H</text>
<text transform="translate(80.90,561.00) rotate(-45)" x="0" y="0" font-size="8.5" textLength="71" lengthAdjust="spacingAndGlyphs" fill="#231f20" stroke="#231f20" stroke-width="0.22">DNMT3A-Q886Stop</text>
<text transform="translate(101.20,561.00) rotate(-45)" x="0" y="0" font-size="8.5" textLength="59.5" lengthAdjust="spacingAndGlyphs" fill="#231f20" stroke="#231f20" stroke-width="0.22">DNMT3A-V716D</text>
<text transform="translate(122.70,561.00) rotate(-45)" x="0" y="0" font-size="8.5" textLength="48.5" lengthAdjust="spacingAndGlyphs" fill="#231f20" stroke="#231f20" stroke-width="0.22">DNMT3A-WT</text>
<text transform="translate(142.80,561.00) rotate(-45)" x="0" y="0" font-size="8.5" fill="#231f20" stroke="#231f20" stroke-width="0.22">EV</text>
<rect x="46.60" y="679.40" width="16.20" height="5.40" fill="url(#cb1)" stroke="#555" stroke-width="0.4"/>
<rect x="129.00" y="679.40" width="16.20" height="5.40" fill="url(#cb2)" stroke="#555" stroke-width="0.4"/>
<text x="45.60" y="685.20" font-size="7.8" text-anchor="end" fill="#231f20" stroke="#231f20" stroke-width="0.22">−3</text>
<text x="64.60" y="685.20" font-size="7.8" fill="#231f20" stroke="#231f20" stroke-width="0.22">2</text>
<text x="127.60" y="685.20" font-size="7.8" text-anchor="end" fill="#231f20" stroke="#231f20" stroke-width="0.22">2</text>
<text x="146.60" y="685.20" font-size="7.8" fill="#231f20" stroke="#231f20" stroke-width="0.22">−2</text>
<line x1="141.20" y1="336.30" x2="231.00" y2="336.30" stroke="#555" stroke-width="1.2"/>
<line x1="141.20" y1="333.40" x2="141.20" y2="339.20" stroke="#555" stroke-width="1.1"/>
<line x1="231.00" y1="333.40" x2="231.00" y2="339.20" stroke="#555" stroke-width="1.1"/>
<text x="186.10" y="332.00" font-size="7.9" text-anchor="middle" fill="#222" stroke="#222" stroke-width="0.22">~2,500 bp</text>
<text x="231.00" y="315.10" font-size="7.4" text-anchor="middle" fill="#222" stroke="#222" stroke-width="0.22">3</text>
<line x1="231.00" y1="317.20" x2="231.00" y2="323.30" stroke="#444" stroke-width="1.0"/>
<text x="231.00" y="330.20" font-size="7.0" text-anchor="middle" fill="#222" stroke="#222" stroke-width="0.22">1</text>
<line x1="247.80" y1="336.30" x2="337.40" y2="336.30" stroke="#555" stroke-width="1.2"/>
<line x1="247.80" y1="333.40" x2="247.80" y2="339.20" stroke="#555" stroke-width="1.1"/>
<line x1="337.40" y1="333.40" x2="337.40" y2="339.20" stroke="#555" stroke-width="1.1"/>
<text x="292.60" y="332.00" font-size="7.9" text-anchor="middle" fill="#222" stroke="#222" stroke-width="0.22">~500 bp</text>
<text x="337.40" y="315.10" font-size="7.4" text-anchor="middle" fill="#222" stroke="#222" stroke-width="0.22">3</text>
<line x1="337.40" y1="317.20" x2="337.40" y2="323.30" stroke="#444" stroke-width="1.0"/>
<text x="337.40" y="330.20" font-size="7.0" text-anchor="middle" fill="#222" stroke="#222" stroke-width="0.22">1</text>
<line x1="348.60" y1="336.30" x2="438.40" y2="336.30" stroke="#555" stroke-width="1.2"/>
<line x1="348.60" y1="333.40" x2="348.60" y2="339.20" stroke="#555" stroke-width="1.1"/>
<line x1="438.40" y1="333.40" x2="438.40" y2="339.20" stroke="#555" stroke-width="1.1"/>
<text x="393.50" y="332.00" font-size="7.9" text-anchor="middle" fill="#222" stroke="#222" stroke-width="0.22">~1,000 bp</text>
<text x="438.40" y="315.10" font-size="7.4" text-anchor="middle" fill="#222" stroke="#222" stroke-width="0.22">3</text>
<line x1="438.40" y1="317.20" x2="438.40" y2="323.30" stroke="#444" stroke-width="1.0"/>
<text x="438.40" y="330.20" font-size="7.0" text-anchor="middle" fill="#222" stroke="#222" stroke-width="0.22">1</text>
<line x1="141.20" y1="351.50" x2="231.00" y2="351.50" stroke="#e85fbf" stroke-width="1.2"/>
<line x1="140.80" y1="351.50" x2="162.90" y2="351.50" stroke="#111" stroke-width="1.2"/>
<line x1="171.20" y1="351.50" x2="204.50" y2="351.50" stroke="#111" stroke-width="1.2"/>
<line x1="206.70" y1="351.50" x2="229.40" y2="351.50" stroke="#111" stroke-width="1.2"/>
<path d="M141.2,351.8 L141.9,351.8 L142.6,351.8 L143.3,351.8 L144.0,351.8 L144.7,351.8 L145.3,351.8 L146.0,351.8 L146.7,351.8 L147.4,351.8 L148.1,351.8 L148.8,351.7 L149.5,351.6 L150.2,351.5 L150.9,351.2 L151.6,350.9 L152.3,350.5 L152.9,350.1 L153.6,349.6 L154.3,349.3 L155.0,349.0 L155.7,349.0 L156.4,349.1 L157.1,349.4 L157.8,349.8 L158.5,350.2 L159.2,350.6 L159.9,351.0 L160.5,351.2 L161.2,351.5 L161.9,351.6 L162.6,351.7 L163.3,351.7 L164.0,351.8 L164.7,351.8 L165.4,351.8 L166.1,351.8 L166.8,351.8 L167.4,351.8 L168.1,351.8 L168.8,351.8 L169.5,351.8 L170.2,351.8 L170.9,351.7 L171.6,351.6 L172.3,351.5 L173.0,351.3 L173.7,351.0 L174.4,350.7 L175.0,350.5 L175.7,350.3 L176.4,350.2 L177.1,350.1 L177.8,349.9 L178.5,349.6 L179.2,349.2 L179.9,348.9 L180.6,348.7 L181.3,348.5 L182.0,348.4 L182.6,348.2 L183.3,348.2 L184.0,348.1 L184.7,347.9 L185.4,347.6 L186.1,347.4 L186.8,347.5 L187.5,347.7 L188.2,348.0 L188.9,348.2 L189.6,348.5 L190.2,349.1 L190.9,349.8 L191.6,350.5 L192.3,351.1 L193.0,351.4 L193.7,351.5 L194.4,351.4 L195.1,351.1 L195.8,350.7 L196.5,350.3 L197.2,350.2 L197.8,350.4 L198.5,350.7 L199.2,351.1 L199.9,351.5 L200.6,351.7 L201.3,351.7 L202.0,351.8 L202.7,351.8 L203.4,351.8 L204.1,351.8 L204.8,351.8 L205.4,351.8 L206.1,351.8 L206.8,351.8 L207.5,351.7 L208.2,351.7 L208.9,351.5 L209.6,351.3 L210.3,350.9 L211.0,350.5 L211.7,349.9 L212.3,349.4 L213.0,349.0 L213.7,348.9 L214.4,348.9 L215.1,349.1 L215.8,349.4 L216.5,349.6 L217.2,349.7 L217.9,350.0 L218.6,350.3 L219.3,350.6 L219.9,351.0 L220.6,351.3 L221.3,351.5 L222.0,351.6 L222.7,351.7 L223.4,351.8 L224.1,351.8 L224.8,351.8 L225.5,351.8 L226.2,351.8 L226.9,351.8 L227.5,351.8 L228.2,351.8 L228.9,351.8 L229.6,351.8 L230.3,351.8 L231.0,351.8 L231.00,351.80 L141.20,351.80 Z" fill="#000" stroke="none" stroke-width="1"/>
<line x1="141.20" y1="371.20" x2="231.00" y2="371.20" stroke="#e85fbf" stroke-width="1.2"/>
<line x1="150.00" y1="371.20" x2="158.30" y2="371.20" stroke="#111" stroke-width="1.2"/>
<line x1="173.00" y1="371.20" x2="191.50" y2="371.20" stroke="#111" stroke-width="1.2"/>
<line x1="193.40" y1="371.20" x2="197.00" y2="371.20" stroke="#6d6d6d" stroke-width="1.2"/>
<line x1="209.00" y1="371.20" x2="224.80" y2="371.20" stroke="#111" stroke-width="1.2"/>
<line x1="229.80" y1="371.20" x2="231.00" y2="371.20" stroke="#111" stroke-width="1.2"/>
<path d="M141.2,371.5 L141.9,371.5 L142.6,371.5 L143.3,371.5 L144.0,371.5 L144.7,371.5 L145.3,371.5 L146.0,371.5 L146.7,371.5 L147.4,371.5 L148.1,371.5 L148.8,371.5 L149.5,371.5 L150.2,371.4 L150.9,371.3 L151.6,371.1 L152.3,370.6 L152.9,370.0 L153.6,369.4 L154.3,369.0 L155.0,369.1 L155.7,369.4 L156.4,370.0 L157.1,370.5 L157.8,371.0 L158.5,371.3 L159.2,371.4 L159.9,371.5 L160.5,371.5 L161.2,371.5 L161.9,371.5 L162.6,371.5 L163.3,371.5 L164.0,371.5 L164.7,371.5 L165.4,371.5 L166.1,371.5 L166.8,371.5 L167.4,371.5 L168.1,371.5 L168.8,371.5 L169.5,371.5 L170.2,371.5 L170.9,371.5 L171.6,371.5 L172.3,371.5 L173.0,371.5 L173.7,371.5 L174.4,371.5 L175.0,371.5 L175.7,371.5 L176.4,371.5 L177.1,371.5 L177.8,371.5 L178.5,371.4 L179.2,371.3 L179.9,371.1 L180.6,370.8 L181.3,370.3 L182.0,369.6 L182.6,368.8 L183.3,368.2 L184.0,367.9 L184.7,368.0 L185.4,368.4 L186.1,369.0 L186.8,369.7 L187.5,370.3 L188.2,370.8 L188.9,371.1 L189.6,371.3 L190.2,371.4 L190.9,371.5 L191.6,371.5 L192.3,371.5 L193.0,371.5 L193.7,371.5 L194.4,371.5 L195.1,371.5 L195.8,371.5 L196.5,371.5 L197.2,371.5 L197.8,371.5 L198.5,371.5 L199.2,371.5 L199.9,371.5 L200.6,371.5 L201.3,371.5 L202.0,371.5 L202.7,371.5 L203.4,371.5 L204.1,371.5 L204.8,371.5 L205.4,371.5 L206.1,371.5 L206.8,371.5 L207.5,371.5 L208.2,371.5 L208.9,371.5 L209.6,371.5 L210.3,371.5 L211.0,371.5 L211.7,371.5 L212.3,371.5 L213.0,371.5 L213.7,371.5 L214.4,371.5 L215.1,371.5 L215.8,371.4 L216.5,371.2 L217.2,370.9 L217.9,370.4 L218.6,369.8 L219.3,369.3 L219.9,369.0 L220.6,369.1 L221.3,369.4 L222.0,369.8 L222.7,370.4 L223.4,370.8 L224.1,371.1 L224.8,371.3 L225.5,371.4 L226.2,371.5 L226.9,371.5 L227.5,371.5 L228.2,371.5 L228.9,371.5 L229.6,371.5 L230.3,371.5 L231.0,371.5 L231.00,371.50 L141.20,371.50 Z" fill="#000" stroke="none" stroke-width="1"/>
<line x1="141.20" y1="390.10" x2="231.00" y2="390.10" stroke="#e85fbf" stroke-width="1.2"/>
<line x1="144.50" y1="390.10" x2="158.30" y2="390.10" stroke="#111" stroke-width="1.2"/>
<line x1="162.90" y1="390.10" x2="171.20" y2="390.10" stroke="#111" stroke-width="1.2"/>
<line x1="175.00" y1="390.10" x2="191.50" y2="390.10" stroke="#111" stroke-width="1.2"/>
<line x1="196.20" y1="390.10" x2="199.80" y2="390.10" stroke="#111" stroke-width="1.2"/>
<line x1="208.00" y1="390.10" x2="230.30" y2="390.10" stroke="#111" stroke-width="1.2"/>
<path d="M141.2,390.4 L141.9,390.4 L142.6,390.4 L143.3,390.4 L144.0,390.4 L144.7,390.3 L145.3,390.1 L146.0,389.8 L146.7,389.6 L147.4,389.5 L148.1,389.7 L148.8,390.0 L149.5,390.3 L150.2,390.4 L150.9,390.4 L151.6,390.4 L152.3,390.4 L152.9,390.2 L153.6,389.9 L154.3,389.3 L155.0,388.8 L155.7,388.7 L156.4,389.0 L157.1,389.5 L157.8,389.9 L158.5,390.2 L159.2,390.3 L159.9,390.4 L160.5,390.4 L161.2,390.4 L161.9,390.4 L162.6,390.4 L163.3,390.3 L164.0,390.1 L164.7,389.9 L165.4,389.6 L166.1,389.4 L166.8,389.3 L167.4,389.4 L168.1,389.7 L168.8,390.0 L169.5,390.2 L170.2,390.3 L170.9,390.4 L171.6,390.4 L172.3,390.4 L173.0,390.4 L173.7,390.3 L174.4,390.3 L175.0,390.1 L175.7,389.7 L176.4,389.2 L177.1,388.7 L177.8,388.2 L178.5,388.0 L179.2,388.1 L179.9,388.5 L180.6,388.9 L181.3,389.1 L182.0,388.9 L182.6,388.5 L183.3,388.1 L184.0,387.8 L184.7,387.9 L185.4,388.2 L186.1,388.7 L186.8,389.3 L187.5,389.7 L188.2,390.0 L188.9,390.2 L189.6,390.3 L190.2,390.4 L190.9,390.4 L191.6,390.4 L192.3,390.4 L193.0,390.4 L193.7,390.4 L194.4,390.4 L195.1,390.4 L195.8,390.4 L196.5,390.4 L197.2,390.4 L197.8,390.4 L198.5,390.4 L199.2,390.4 L199.9,390.4 L200.6,390.4 L201.3,390.4 L202.0,390.4 L202.7,390.4 L203.4,390.4 L204.1,390.4 L204.8,390.4 L205.4,390.4 L206.1,390.4 L206.8,390.4 L207.5,390.2 L208.2,389.9 L208.9,389.3 L209.6,388.5 L210.3,387.7 L211.0,387.4 L211.7,387.7 L212.3,388.2 L213.0,388.7 L213.7,388.8 L214.4,388.5 L215.1,388.2 L215.8,388.2 L216.5,388.5 L217.2,389.0 L217.9,389.5 L218.6,389.9 L219.3,390.1 L219.9,390.2 L220.6,390.2 L221.3,390.1 L222.0,390.0 L222.7,389.8 L223.4,389.5 L224.1,389.4 L224.8,389.3 L225.5,389.4 L226.2,389.5 L226.9,389.8 L227.5,390.0 L228.2,390.1 L228.9,390.3 L229.6,390.3 L230.3,390.4 L231.0,390.4 L231.00,390.40 L141.20,390.40 Z" fill="#000" stroke="none" stroke-width="1"/>
<line x1="141.20" y1="409.70" x2="231.00" y2="409.70" stroke="#e85fbf" stroke-width="1.2"/>
<line x1="141.70" y1="409.70" x2="200.80" y2="409.70" stroke="#111" stroke-width="1.2"/>
<line x1="205.40" y1="409.70" x2="231.00" y2="409.70" stroke="#111" stroke-width="1.2"/>
<path d="M141.2,410.0 L141.9,410.0 L142.6,410.0 L143.3,410.0 L144.0,410.0 L144.7,410.0 L145.3,409.9 L146.0,409.9 L146.7,409.9 L147.4,409.8 L148.1,409.7 L148.8,409.5 L149.5,409.4 L150.2,409.2 L150.9,409.0 L151.6,408.7 L152.3,408.5 L152.9,408.3 L153.6,408.1 L154.3,408.0 L155.0,408.0 L155.7,408.0 L156.4,408.2 L157.1,408.4 L157.8,408.6 L158.5,408.9 L159.2,409.1 L159.9,409.3 L160.5,409.4 L161.2,409.5 L161.9,409.4 L162.6,409.2 L163.3,408.9 L164.0,408.5 L164.7,408.0 L165.4,407.7 L166.1,407.4 L166.8,407.4 L167.4,407.6 L168.1,407.9 L168.8,408.4 L169.5,408.8 L170.2,409.0 L170.9,408.8 L171.6,407.8 L172.3,405.9 L173.0,403.3 L173.7,400.9 L174.4,399.3 L175.0,398.7 L175.7,398.7 L176.4,399.5 L177.1,400.7 L177.8,401.9 L178.5,402.9 L179.2,403.9 L179.9,405.3 L180.6,406.4 L181.3,406.3 L182.0,404.5 L182.6,402.0 L183.3,400.6 L184.0,400.5 L184.7,400.5 L185.4,400.2 L186.1,400.8 L186.8,402.1 L187.5,403.6 L188.2,405.0 L188.9,406.0 L189.6,407.0 L190.2,407.9 L190.9,408.7 L191.6,409.3 L192.3,409.6 L193.0,409.6 L193.7,409.3 L194.4,408.8 L195.1,408.3 L195.8,407.9 L196.5,407.8 L197.2,408.1 L197.8,408.5 L198.5,409.1 L199.2,409.5 L199.9,409.7 L200.6,409.9 L201.3,410.0 L202.0,410.0 L202.7,410.0 L203.4,410.0 L204.1,410.0 L204.8,410.0 L205.4,410.0 L206.1,410.0 L206.8,409.9 L207.5,409.7 L208.2,409.3 L208.9,408.7 L209.6,407.7 L210.3,406.6 L211.0,405.6 L211.7,405.1 L212.3,405.2 L213.0,405.6 L213.7,406.2 L214.4,406.9 L215.1,407.5 L215.8,407.9 L216.5,408.2 L217.2,408.3 L217.9,408.3 L218.6,408.3 L219.3,408.4 L219.9,408.4 L220.6,408.5 L221.3,408.6 L222.0,408.8 L222.7,409.0 L223.4,409.1 L224.1,409.3 L224.8,409.4 L225.5,409.6 L226.2,409.7 L226.9,409.8 L227.5,409.8 L228.2,409.9 L228.9,409.9 L229.6,410.0 L230.3,410.0 L231.0,410.0 L231.00,410.00 L141.20,410.00 Z" fill="#000" stroke="none" stroke-width="1"/>
<line x1="141.20" y1="428.90" x2="231.00" y2="428.90" stroke="#e85fbf" stroke-width="1.2"/>
<line x1="143.50" y1="428.90" x2="145.40" y2="428.90" stroke="#111" stroke-width="1.2"/>
<line x1="160.20" y1="428.90" x2="201.70" y2="428.90" stroke="#111" stroke-width="1.2"/>
<line x1="212.80" y1="428.90" x2="231.00" y2="428.90" stroke="#111" stroke-width="1.2"/>
<path d="M141.2,429.2 L141.9,429.2 L142.6,429.2 L143.3,429.2 L144.0,429.2 L144.7,429.2 L145.3,429.2 L146.0,429.2 L146.7,429.2 L147.4,429.2 L148.1,429.2 L148.8,429.2 L149.5,429.2 L150.2,429.2 L150.9,429.2 L151.6,429.2 L152.3,429.2 L152.9,429.2 L153.6,429.2 L154.3,429.2 L155.0,429.2 L155.7,429.2 L156.4,429.2 L157.1,429.2 L157.8,429.2 L158.5,429.2 L159.2,429.2 L159.9,429.2 L160.5,429.2 L161.2,429.1 L161.9,429.0 L162.6,428.9 L163.3,428.7 L164.0,428.4 L164.7,428.2 L165.4,428.1 L166.1,428.1 L166.8,428.2 L167.4,428.4 L168.1,428.7 L168.8,428.9 L169.5,429.0 L170.2,428.9 L170.9,428.4 L171.6,427.4 L172.3,426.0 L173.0,424.5 L173.7,423.8 L174.4,423.8 L175.0,423.8 L175.7,423.9 L176.4,424.9 L177.1,426.4 L177.8,427.8 L178.5,428.6 L179.2,429.0 L179.9,428.9 L180.6,428.3 L181.3,427.3 L182.0,425.7 L182.6,424.2 L183.3,423.1 L184.0,422.4 L184.7,421.6 L185.4,420.5 L186.1,419.7 L186.8,419.9 L187.5,420.9 L188.2,422.2 L188.9,423.1 L189.6,423.8 L190.2,424.7 L190.9,425.8 L191.6,427.0 L192.3,428.0 L193.0,428.6 L193.7,428.9 L194.4,428.8 L195.1,428.4 L195.8,427.7 L196.5,426.7 L197.2,425.7 L197.8,425.2 L198.5,425.4 L199.2,426.2 L199.9,427.2 L200.6,428.1 L201.3,428.7 L202.0,429.0 L202.7,429.1 L203.4,429.2 L204.1,429.2 L204.8,429.2 L205.4,429.2 L206.1,429.2 L206.8,429.2 L207.5,429.2 L208.2,429.2 L208.9,429.2 L209.6,429.2 L210.3,429.2 L211.0,429.2 L211.7,429.2 L212.3,429.2 L213.0,429.2 L213.7,429.2 L214.4,429.2 L215.1,429.2 L215.8,429.2 L216.5,429.2 L217.2,429.2 L217.9,429.2 L218.6,429.2 L219.3,429.2 L219.9,429.2 L220.6,429.2 L221.3,429.1 L222.0,428.9 L222.7,428.7 L223.4,428.4 L224.1,428.1 L224.8,428.0 L225.5,428.0 L226.2,428.0 L226.9,428.0 L227.5,427.9 L228.2,427.8 L228.9,427.9 L229.6,428.2 L230.3,428.6 L231.0,428.9 L231.00,429.20 L141.20,429.20 Z" fill="#000" stroke="none" stroke-width="1"/>
<line x1="247.80" y1="351.50" x2="337.40" y2="351.50" stroke="#e85fbf" stroke-width="1.2"/>
<line x1="258.80" y1="351.50" x2="337.40" y2="351.50" stroke="#111" stroke-width="1.2"/>
<path d="M247.8,351.8 L248.5,351.8 L249.2,351.8 L249.9,351.8 L250.6,351.8 L251.2,351.8 L251.9,351.8 L252.6,351.8 L253.3,351.8 L254.0,351.8 L254.7,351.8 L255.4,351.8 L256.1,351.8 L256.8,351.8 L257.4,351.8 L258.1,351.8 L258.8,351.8 L259.5,351.8 L260.2,351.8 L260.9,351.7 L261.6,351.6 L262.3,351.4 L263.0,351.2 L263.7,350.8 L264.3,350.3 L265.0,349.7 L265.7,349.0 L266.4,348.3 L267.1,347.7 L267.8,347.1 L268.5,346.6 L269.2,346.1 L269.9,345.6 L270.5,345.0 L271.2,344.3 L271.9,343.8 L272.6,343.7 L273.3,344.1 L274.0,345.0 L274.7,345.9 L275.4,346.7 L276.1,346.9 L276.7,346.6 L277.4,346.0 L278.1,345.4 L278.8,344.9 L279.5,344.7 L280.2,344.5 L280.9,344.5 L281.6,344.6 L282.3,345.1 L283.0,345.9 L283.6,346.9 L284.3,347.9 L285.0,348.9 L285.7,349.7 L286.4,350.3 L287.1,350.5 L287.8,350.6 L288.5,350.4 L289.2,350.2 L289.8,350.1 L290.5,349.9 L291.2,349.8 L291.9,349.4 L292.6,348.5 L293.3,347.2 L294.0,345.6 L294.7,344.1 L295.4,343.2 L296.0,343.2 L296.7,343.7 L297.4,344.7 L298.1,345.7 L298.8,346.6 L299.5,347.2 L300.2,347.3 L300.9,347.1 L301.6,346.7 L302.2,346.5 L302.9,346.5 L303.6,346.7 L304.3,347.0 L305.0,347.4 L305.7,347.8 L306.4,348.2 L307.1,348.6 L307.8,349.0 L308.5,349.3 L309.1,349.6 L309.8,349.9 L310.5,350.2 L311.2,350.4 L311.9,350.7 L312.6,351.0 L313.3,351.2 L314.0,351.4 L314.7,351.5 L315.3,351.6 L316.0,351.7 L316.7,351.7 L317.4,351.8 L318.1,351.8 L318.8,351.8 L319.5,351.8 L320.2,351.8 L320.9,351.8 L321.5,351.8 L322.2,351.8 L322.9,351.8 L323.6,351.8 L324.3,351.8 L325.0,351.7 L325.7,351.7 L326.4,351.6 L327.1,351.5 L327.8,351.3 L328.4,351.1 L329.1,350.8 L329.8,350.6 L330.5,350.5 L331.2,350.5 L331.9,350.5 L332.6,350.6 L333.3,350.6 L334.0,350.5 L334.6,350.3 L335.3,350.1 L336.0,350.1 L336.7,350.9 L337.4,351.7 L337.40,351.80 L247.80,351.80 Z" fill="#000" stroke="none" stroke-width="1"/>
<line x1="247.80" y1="371.20" x2="337.40" y2="371.20" stroke="#e85fbf" stroke-width="1.2"/>
<line x1="247.80" y1="371.20" x2="251.50" y2="371.20" stroke="#6d6d6d" stroke-width="1.2"/>
<line x1="251.50" y1="371.20" x2="256.90" y2="371.20" stroke="#111" stroke-width="1.2"/>
<line x1="262.50" y1="371.20" x2="277.20" y2="371.20" stroke="#111" stroke-width="1.2"/>
<line x1="279.10" y1="371.20" x2="312.30" y2="371.20" stroke="#111" stroke-width="1.2"/>
<line x1="312.30" y1="371.20" x2="325.20" y2="371.20" stroke="#6d6d6d" stroke-width="1.2"/>
<line x1="335.40" y1="371.20" x2="337.40" y2="371.20" stroke="#6d6d6d" stroke-width="1.2"/>
<path d="M247.8,371.5 L248.5,371.5 L249.2,371.5 L249.9,371.5 L250.6,371.5 L251.2,371.3 L251.9,371.1 L252.6,370.8 L253.3,370.4 L254.0,370.1 L254.7,370.2 L255.4,370.5 L256.1,370.9 L256.8,371.2 L257.4,371.4 L258.1,371.5 L258.8,371.5 L259.5,371.5 L260.2,371.5 L260.9,371.4 L261.6,371.3 L262.3,371.2 L263.0,370.9 L263.7,370.6 L264.3,370.2 L265.0,369.9 L265.7,369.6 L266.4,369.5 L267.1,369.6 L267.8,369.6 L268.5,369.5 L269.2,369.2 L269.9,368.8 L270.5,368.3 L271.2,368.0 L271.9,368.0 L272.6,368.3 L273.3,368.8 L274.0,369.5 L274.7,370.1 L275.4,370.6 L276.1,371.0 L276.7,371.2 L277.4,371.4 L278.1,371.4 L278.8,371.5 L279.5,371.4 L280.2,371.3 L280.9,371.0 L281.6,370.5 L282.3,369.7 L283.0,368.6 L283.6,367.2 L284.3,365.9 L285.0,365.1 L285.7,364.9 L286.4,365.5 L287.1,366.6 L287.8,367.7 L288.5,368.4 L289.2,368.4 L289.8,368.3 L290.5,368.4 L291.2,368.7 L291.9,368.9 L292.6,368.3 L293.3,367.2 L294.0,366.1 L294.7,365.5 L295.4,365.8 L296.0,366.7 L296.7,367.9 L297.4,368.8 L298.1,368.9 L298.8,368.6 L299.5,368.6 L300.2,369.0 L300.9,369.5 L301.6,369.5 L302.2,368.9 L302.9,367.8 L303.6,366.7 L304.3,365.8 L305.0,365.6 L305.7,366.0 L306.4,366.8 L307.1,367.9 L307.8,369.0 L308.5,369.9 L309.1,370.6 L309.8,371.0 L310.5,371.3 L311.2,371.4 L311.9,371.5 L312.6,371.5 L313.3,371.5 L314.0,371.5 L314.7,371.5 L315.3,371.5 L316.0,371.5 L316.7,371.5 L317.4,371.5 L318.1,371.5 L318.8,371.5 L319.5,371.5 L320.2,371.5 L320.9,371.5 L321.5,371.5 L322.2,371.5 L322.9,371.5 L323.6,371.5 L324.3,371.5 L325.0,371.5 L325.7,371.5 L326.4,371.5 L327.1,371.5 L327.8,371.5 L328.4,371.5 L329.1,371.5 L329.8,371.5 L330.5,371.5 L331.2,371.5 L331.9,371.5 L332.6,371.5 L333.3,371.5 L334.0,371.5 L334.6,371.5 L335.3,371.5 L336.0,371.5 L336.7,371.5 L337.4,371.5 L337.40,371.50 L247.80,371.50 Z" fill="#000" stroke="none" stroke-width="1"/>
<line x1="247.80" y1="390.10" x2="337.40" y2="390.10" stroke="#e85fbf" stroke-width="1.2"/>
<line x1="247.80" y1="390.10" x2="254.20" y2="390.10" stroke="#6d6d6d" stroke-width="1.2"/>
<line x1="261.60" y1="390.10" x2="306.80" y2="390.10" stroke="#111" stroke-width="1.2"/>
<line x1="308.00" y1="390.10" x2="316.90" y2="390.10" stroke="#111" stroke-width="1.2"/>
<line x1="322.50" y1="390.10" x2="328.00" y2="390.10" stroke="#111" stroke-width="1.2"/>
<path d="M247.8,390.4 L248.5,390.4 L249.2,390.4 L249.9,390.4 L250.6,390.4 L251.2,390.4 L251.9,390.4 L252.6,390.4 L253.3,390.4 L254.0,390.4 L254.7,390.4 L255.4,390.4 L256.1,390.4 L256.8,390.4 L257.4,390.4 L258.1,390.4 L258.8,390.4 L259.5,390.4 L260.2,390.4 L260.9,390.3 L261.6,390.0 L262.3,389.5 L263.0,388.8 L263.7,388.1 L264.3,387.8 L265.0,388.1 L265.7,388.6 L266.4,389.3 L267.1,389.8 L267.8,390.2 L268.5,390.3 L269.2,390.3 L269.9,390.2 L270.5,390.0 L271.2,389.7 L271.9,389.2 L272.6,388.7 L273.3,388.4 L274.0,388.5 L274.7,388.9 L275.4,389.4 L276.1,389.8 L276.7,390.1 L277.4,390.3 L278.1,390.3 L278.8,390.2 L279.5,390.0 L280.2,389.6 L280.9,389.1 L281.6,388.4 L282.3,387.7 L283.0,387.1 L283.6,386.9 L284.3,387.1 L285.0,387.6 L285.7,388.3 L286.4,389.0 L287.1,389.6 L287.8,390.0 L288.5,390.2 L289.2,390.3 L289.8,390.4 L290.5,390.4 L291.2,390.4 L291.9,390.3 L292.6,390.2 L293.3,390.0 L294.0,389.8 L294.7,389.4 L295.4,388.8 L296.0,388.2 L296.7,387.6 L297.4,387.1 L298.1,386.7 L298.8,386.7 L299.5,387.0 L300.2,387.4 L300.9,388.0 L301.6,388.5 L302.2,389.1 L302.9,389.5 L303.6,389.9 L304.3,390.1 L305.0,390.2 L305.7,390.3 L306.4,390.4 L307.1,390.4 L307.8,390.4 L308.5,390.4 L309.1,390.3 L309.8,390.2 L310.5,390.0 L311.2,389.6 L311.9,389.1 L312.6,388.7 L313.3,388.6 L314.0,388.8 L314.7,389.2 L315.3,389.7 L316.0,390.0 L316.7,390.2 L317.4,390.3 L318.1,390.4 L318.8,390.4 L319.5,390.4 L320.2,390.4 L320.9,390.4 L321.5,390.4 L322.2,390.3 L322.9,390.1 L323.6,389.7 L324.3,389.1 L325.0,388.7 L325.7,388.8 L326.4,389.3 L327.1,389.9 L327.8,390.2 L328.4,390.4 L329.1,390.4 L329.8,390.4 L330.5,390.4 L331.2,390.4 L331.9,390.4 L332.6,390.4 L333.3,390.4 L334.0,390.4 L334.6,390.4 L335.3,390.4 L336.0,390.4 L336.7,390.4 L337.4,390.4 L337.40,390.40 L247.80,390.40 Z" fill="#000" stroke="none" stroke-width="1"/>
<line x1="247.80" y1="409.70" x2="337.40" y2="409.70" stroke="#e85fbf" stroke-width="1.2"/>
<line x1="256.90" y1="409.70" x2="271.70" y2="409.70" stroke="#111" stroke-width="1.2"/>
<line x1="274.50" y1="409.70" x2="286.50" y2="409.70" stroke="#111" stroke-width="1.2"/>
<line x1="290.20" y1="409.70" x2="314.00" y2="409.70" stroke="#111" stroke-width="1.2"/>
<line x1="314.00" y1="409.70" x2="319.70" y2="409.70" stroke="#6d6d6d" stroke-width="1.2"/>
<line x1="319.70" y1="409.70" x2="337.40" y2="409.70" stroke="#111" stroke-width="1.2"/>
<path d="M247.8,410.0 L248.5,410.0 L249.2,410.0 L249.9,410.0 L250.6,410.0 L251.2,410.0 L251.9,410.0 L252.6,410.0 L253.3,410.0 L254.0,410.0 L254.7,410.0 L255.4,410.0 L256.1,410.0 L256.8,410.0 L257.4,410.0 L258.1,410.0 L258.8,410.0 L259.5,410.0 L260.2,410.0 L260.9,410.0 L261.6,410.0 L262.3,410.0 L263.0,410.0 L263.7,410.0 L264.3,409.9 L265.0,409.7 L265.7,409.4 L266.4,408.7 L267.1,408.0 L267.8,407.6 L268.5,407.7 L269.2,408.2 L269.9,408.8 L270.5,409.3 L271.2,409.7 L271.9,409.9 L272.6,410.0 L273.3,410.0 L274.0,410.0 L274.7,410.0 L275.4,409.9 L276.1,409.6 L276.7,408.9 L277.4,407.8 L278.1,406.5 L278.8,405.7 L279.5,405.7 L280.2,406.5 L280.9,407.6 L281.6,408.7 L282.3,409.4 L283.0,409.8 L283.6,409.9 L284.3,410.0 L285.0,410.0 L285.7,410.0 L286.4,410.0 L287.1,410.0 L287.8,410.0 L288.5,410.0 L289.2,410.0 L289.8,410.0 L290.5,410.0 L291.2,409.9 L291.9,409.7 L292.6,409.4 L293.3,408.9 L294.0,408.2 L294.7,407.4 L295.4,406.5 L296.0,405.9 L296.7,405.7 L297.4,405.8 L298.1,406.1 L298.8,406.4 L299.5,406.7 L300.2,406.9 L300.9,407.1 L301.6,407.3 L302.2,407.4 L302.9,407.5 L303.6,407.7 L304.3,408.0 L305.0,408.3 L305.7,408.5 L306.4,408.6 L307.1,408.6 L307.8,408.6 L308.5,408.7 L309.1,408.8 L309.8,409.0 L310.5,409.2 L311.2,409.5 L311.9,409.7 L312.6,409.8 L313.3,409.9 L314.0,410.0 L314.7,410.0 L315.3,410.0 L316.0,410.0 L316.7,410.0 L317.4,410.0 L318.1,410.0 L318.8,410.0 L319.5,409.8 L320.2,409.6 L320.9,409.1 L321.5,408.4 L322.2,407.6 L322.9,407.0 L323.6,406.9 L324.3,407.2 L325.0,407.7 L325.7,408.4 L326.4,409.0 L327.1,409.4 L327.8,409.7 L328.4,409.9 L329.1,409.9 L329.8,410.0 L330.5,410.0 L331.2,409.9 L331.9,409.6 L332.6,409.2 L333.3,408.4 L334.0,407.3 L334.6,406.4 L335.3,406.0 L336.0,406.7 L336.7,408.3 L337.4,409.5 L337.40,410.00 L247.80,410.00 Z" fill="#000" stroke="none" stroke-width="1"/>
<line x1="247.80" y1="428.90" x2="337.40" y2="428.90" stroke="#e85fbf" stroke-width="1.2"/>
<line x1="247.80" y1="428.90" x2="256.00" y2="428.90" stroke="#6d6d6d" stroke-width="1.2"/>
<line x1="266.20" y1="428.90" x2="271.70" y2="428.90" stroke="#111" stroke-width="1.2"/>
<line x1="281.80" y1="428.90" x2="308.60" y2="428.90" stroke="#111" stroke-width="1.2"/>
<line x1="321.50" y1="428.90" x2="330.80" y2="428.90" stroke="#111" stroke-width="1.2"/>
<path d="M247.8,429.2 L248.5,429.2 L249.2,429.2 L249.9,429.2 L250.6,429.2 L251.2,429.2 L251.9,429.2 L252.6,429.2 L253.3,429.2 L254.0,429.2 L254.7,429.2 L255.4,429.2 L256.1,429.2 L256.8,429.2 L257.4,429.2 L258.1,429.2 L258.8,429.2 L259.5,429.2 L260.2,429.2 L260.9,429.2 L261.6,429.2 L262.3,429.2 L263.0,429.2 L263.7,429.2 L264.3,429.2 L265.0,429.2 L265.7,429.0 L266.4,428.8 L267.1,428.4 L267.8,428.2 L268.5,428.3 L269.2,428.6 L269.9,428.9 L270.5,429.1 L271.2,429.2 L271.9,429.2 L272.6,429.2 L273.3,429.2 L274.0,429.2 L274.7,429.2 L275.4,429.2 L276.1,429.2 L276.7,429.2 L277.4,429.2 L278.1,429.2 L278.8,429.2 L279.5,429.2 L280.2,429.2 L280.9,429.2 L281.6,429.2 L282.3,429.2 L283.0,429.1 L283.6,428.9 L284.3,428.6 L285.0,428.2 L285.7,427.9 L286.4,427.7 L287.1,427.8 L287.8,428.1 L288.5,428.5 L289.2,428.8 L289.8,428.9 L290.5,428.8 L291.2,428.5 L291.9,427.9 L292.6,427.2 L293.3,426.7 L294.0,426.6 L294.7,426.8 L295.4,427.1 L296.0,427.4 L296.7,427.5 L297.4,427.6 L298.1,427.9 L298.8,428.3 L299.5,428.6 L300.2,428.8 L300.9,428.6 L301.6,427.8 L302.2,426.7 L302.9,425.3 L303.6,424.4 L304.3,424.3 L305.0,425.0 L305.7,426.2 L306.4,427.3 L307.1,428.2 L307.8,428.8 L308.5,429.0 L309.1,429.1 L309.8,429.2 L310.5,429.2 L311.2,429.2 L311.9,429.2 L312.6,429.2 L313.3,429.2 L314.0,429.2 L314.7,429.2 L315.3,429.2 L316.0,429.2 L316.7,429.2 L317.4,429.2 L318.1,429.2 L318.8,429.2 L319.5,429.2 L320.2,429.1 L320.9,429.0 L321.5,428.8 L322.2,428.5 L322.9,428.0 L323.6,427.6 L324.3,427.5 L325.0,427.7 L325.7,428.0 L326.4,428.5 L327.1,428.8 L327.8,429.0 L328.4,429.1 L329.1,429.2 L329.8,429.2 L330.5,429.2 L331.2,429.2 L331.9,429.2 L332.6,429.2 L333.3,429.2 L334.0,429.2 L334.6,429.2 L335.3,429.2 L336.0,429.2 L336.7,429.2 L337.4,429.2 L337.40,429.20 L247.80,429.20 Z" fill="#000" stroke="none" stroke-width="1"/>
<line x1="348.60" y1="351.50" x2="438.40" y2="351.50" stroke="#e85fbf" stroke-width="1.2"/>
<line x1="354.20" y1="351.50" x2="391.20" y2="351.50" stroke="#111" stroke-width="1.2"/>
<line x1="393.90" y1="351.50" x2="402.20" y2="351.50" stroke="#111" stroke-width="1.2"/>
<line x1="404.10" y1="351.50" x2="414.20" y2="351.50" stroke="#111" stroke-width="1.2"/>
<line x1="416.10" y1="351.50" x2="420.80" y2="351.50" stroke="#111" stroke-width="1.2"/>
<line x1="432.70" y1="351.50" x2="437.50" y2="351.50" stroke="#111" stroke-width="1.2"/>
<path d="M348.6,351.8 L349.3,351.8 L350.0,351.8 L350.7,351.8 L351.4,351.8 L352.1,351.8 L352.7,351.8 L353.4,351.8 L354.1,351.8 L354.8,351.7 L355.5,351.5 L356.2,351.0 L356.9,350.3 L357.6,349.8 L358.3,349.8 L359.0,350.1 L359.7,350.6 L360.3,351.1 L361.0,351.4 L361.7,351.3 L362.4,351.1 L363.1,350.8 L363.8,350.8 L364.5,351.1 L365.2,351.4 L365.9,351.7 L366.6,351.8 L367.3,351.8 L367.9,351.8 L368.6,351.8 L369.3,351.7 L370.0,351.5 L370.7,351.2 L371.4,350.7 L372.1,350.3 L372.8,350.1 L373.5,350.3 L374.2,350.8 L374.8,351.3 L375.5,351.5 L376.2,351.5 L376.9,351.3 L377.6,350.9 L378.3,350.4 L379.0,350.1 L379.7,350.1 L380.4,350.2 L381.1,350.3 L381.8,350.2 L382.4,350.0 L383.1,350.1 L383.8,350.5 L384.5,350.9 L385.2,351.2 L385.9,351.2 L386.6,350.9 L387.3,350.7 L388.0,350.8 L388.7,351.1 L389.4,351.5 L390.0,351.7 L390.7,351.8 L391.4,351.8 L392.1,351.8 L392.8,351.8 L393.5,351.8 L394.2,351.7 L394.9,351.4 L395.6,350.8 L396.3,350.0 L397.0,349.2 L397.6,348.9 L398.3,349.2 L399.0,349.9 L399.7,350.6 L400.4,351.2 L401.1,351.5 L401.8,351.7 L402.5,351.8 L403.2,351.8 L403.9,351.7 L404.6,351.5 L405.2,351.2 L405.9,350.7 L406.6,350.2 L407.3,349.8 L408.0,349.7 L408.7,349.9 L409.4,350.4 L410.1,350.9 L410.8,351.3 L411.5,351.5 L412.2,351.7 L412.8,351.8 L413.5,351.8 L414.2,351.8 L414.9,351.8 L415.6,351.8 L416.3,351.7 L417.0,351.3 L417.7,350.0 L418.4,348.2 L419.1,347.9 L419.7,349.3 L420.4,350.8 L421.1,351.5 L421.8,351.8 L422.5,351.8 L423.2,351.8 L423.9,351.8 L424.6,351.8 L425.3,351.8 L426.0,351.8 L426.7,351.8 L427.3,351.8 L428.0,351.8 L428.7,351.8 L429.4,351.8 L430.1,351.8 L430.8,351.8 L431.5,351.8 L432.2,351.8 L432.9,351.7 L433.6,351.4 L434.3,350.9 L434.9,350.5 L435.6,350.7 L436.3,351.2 L437.0,351.6 L437.7,351.8 L438.4,351.8 L438.40,351.80 L348.60,351.80 Z" fill="#000" stroke="none" stroke-width="1"/>
<line x1="348.60" y1="371.20" x2="438.40" y2="371.20" stroke="#e85fbf" stroke-width="1.2"/>
<line x1="348.60" y1="371.20" x2="357.90" y2="371.20" stroke="#6d6d6d" stroke-width="1.2"/>
<line x1="364.40" y1="371.20" x2="373.60" y2="371.20" stroke="#6d6d6d" stroke-width="1.2"/>
<line x1="378.20" y1="371.20" x2="404.00" y2="371.20" stroke="#6d6d6d" stroke-width="1.2"/>
<line x1="410.50" y1="371.20" x2="428.10" y2="371.20" stroke="#111" stroke-width="1.2"/>
<path d="M348.6,371.5 L349.3,371.5 L350.0,371.5 L350.7,371.5 L351.4,371.5 L352.1,371.5 L352.7,371.5 L353.4,371.5 L354.1,371.5 L354.8,371.5 L355.5,371.5 L356.2,371.5 L356.9,371.5 L357.6,371.5 L358.3,371.5 L359.0,371.5 L359.7,371.5 L360.3,371.5 L361.0,371.5 L361.7,371.5 L362.4,371.5 L363.1,371.5 L363.8,371.5 L364.5,371.5 L365.2,371.5 L365.9,371.5 L366.6,371.5 L367.3,371.5 L367.9,371.5 L368.6,371.5 L369.3,371.3 L370.0,370.9 L370.7,370.3 L371.4,370.1 L372.1,370.6 L372.8,371.2 L373.5,371.4 L374.2,371.5 L374.8,371.5 L375.5,371.5 L376.2,371.5 L376.9,371.5 L377.6,371.5 L378.3,371.5 L379.0,371.5 L379.7,371.5 L380.4,371.5 L381.1,371.5 L381.8,371.4 L382.4,371.0 L383.1,370.5 L383.8,370.1 L384.5,370.2 L385.2,370.7 L385.9,371.1 L386.6,371.4 L387.3,371.5 L388.0,371.5 L388.7,371.5 L389.4,371.5 L390.0,371.5 L390.7,371.5 L391.4,371.5 L392.1,371.5 L392.8,371.5 L393.5,371.5 L394.2,371.5 L394.9,371.5 L395.6,371.5 L396.3,371.5 L397.0,371.5 L397.6,371.5 L398.3,371.5 L399.0,371.5 L399.7,371.5 L400.4,371.5 L401.1,371.5 L401.8,371.5 L402.5,371.5 L403.2,371.5 L403.9,371.5 L404.6,371.5 L405.2,371.5 L405.9,371.5 L406.6,371.5 L407.3,371.5 L408.0,371.5 L408.7,371.5 L409.4,371.5 L410.1,371.4 L410.8,371.2 L411.5,370.6 L412.2,369.8 L412.8,368.9 L413.5,368.4 L414.2,368.5 L414.9,368.9 L415.6,369.5 L416.3,369.9 L417.0,370.1 L417.7,370.0 L418.4,369.8 L419.1,369.8 L419.7,369.9 L420.4,370.1 L421.1,370.2 L421.8,370.3 L422.5,370.4 L423.2,370.5 L423.9,370.5 L424.6,370.6 L425.3,370.8 L426.0,371.0 L426.7,371.2 L427.3,371.3 L428.0,371.4 L428.7,371.5 L429.4,371.5 L430.1,371.5 L430.8,371.5 L431.5,371.5 L432.2,371.5 L432.9,371.5 L433.6,371.5 L434.3,371.5 L434.9,371.5 L435.6,371.5 L436.3,371.5 L437.0,371.5 L437.7,371.5 L438.4,371.5 L438.40,371.50 L348.60,371.50 Z" fill="#000" stroke="none" stroke-width="1"/>
<line x1="348.60" y1="390.10" x2="438.40" y2="390.10" stroke="#e85fbf" stroke-width="1.2"/>
<line x1="355.20" y1="390.10" x2="363.50" y2="390.10" stroke="#111" stroke-width="1.2"/>
<line x1="363.50" y1="390.10" x2="378.20" y2="390.10" stroke="#6d6d6d" stroke-width="1.2"/>
<line x1="382.80" y1="390.10" x2="384.70" y2="390.10" stroke="#6d6d6d" stroke-width="1.2"/>
<line x1="389.30" y1="390.10" x2="395.80" y2="390.10" stroke="#111" stroke-width="1.2"/>
<line x1="406.80" y1="390.10" x2="408.70" y2="390.10" stroke="#6d6d6d" stroke-width="1.2"/>
<line x1="423.40" y1="390.10" x2="425.30" y2="390.10" stroke="#6d6d6d" stroke-width="1.2"/>
<line x1="435.50" y1="390.10" x2="437.50" y2="390.10" stroke="#6d6d6d" stroke-width="1.2"/>
<path d="M348.6,390.4 L349.3,390.4 L350.0,390.4 L350.7,390.4 L351.4,390.4 L352.1,390.4 L352.7,390.4 L353.4,390.4 L354.1,390.4 L354.8,390.4 L355.5,390.2 L356.2,389.9 L356.9,389.7 L357.6,389.8 L358.3,390.1 L359.0,390.3 L359.7,390.1 L360.3,389.7 L361.0,389.3 L361.7,389.1 L362.4,389.4 L363.1,389.9 L363.8,390.2 L364.5,390.4 L365.2,390.4 L365.9,390.4 L366.6,390.4 L367.3,390.4 L367.9,390.4 L368.6,390.4 L369.3,390.4 L370.0,390.4 L370.7,390.4 L371.4,390.4 L372.1,390.4 L372.8,390.4 L373.5,390.4 L374.2,390.4 L374.8,390.4 L375.5,390.4 L376.2,390.4 L376.9,390.4 L377.6,390.4 L378.3,390.4 L379.0,390.4 L379.7,390.4 L380.4,390.4 L381.1,390.4 L381.8,390.4 L382.4,390.4 L383.1,390.4 L383.8,390.4 L384.5,390.4 L385.2,390.4 L385.9,390.4 L386.6,390.4 L387.3,390.4 L388.0,390.4 L388.7,390.4 L389.4,390.3 L390.0,389.9 L390.7,389.2 L391.4,388.2 L392.1,387.3 L392.8,387.1 L393.5,387.6 L394.2,388.5 L394.9,389.4 L395.6,389.9 L396.3,390.2 L397.0,390.4 L397.6,390.4 L398.3,390.4 L399.0,390.4 L399.7,390.4 L400.4,390.4 L401.1,390.4 L401.8,390.4 L402.5,390.4 L403.2,390.4 L403.9,390.4 L404.6,390.4 L405.2,390.4 L405.9,390.4 L406.6,390.4 L407.3,390.4 L408.0,390.4 L408.7,390.4 L409.4,390.4 L410.1,390.4 L410.8,390.4 L411.5,390.4 L412.2,390.4 L412.8,390.4 L413.5,390.4 L414.2,390.4 L414.9,390.4 L415.6,390.4 L416.3,390.4 L417.0,390.4 L417.7,390.4 L418.4,390.4 L419.1,390.4 L419.7,390.4 L420.4,390.4 L421.1,390.4 L421.8,390.4 L422.5,390.4 L423.2,390.4 L423.9,390.4 L424.6,390.4 L425.3,390.4 L426.0,390.4 L426.7,390.4 L427.3,390.4 L428.0,390.4 L428.7,390.4 L429.4,390.4 L430.1,390.4 L430.8,390.4 L431.5,390.4 L432.2,390.4 L432.9,390.4 L433.6,390.4 L434.3,390.4 L434.9,390.4 L435.6,390.4 L436.3,390.4 L437.0,390.4 L437.7,390.4 L438.4,390.4 L438.40,390.40 L348.60,390.40 Z" fill="#000" stroke="none" stroke-width="1"/>
<line x1="348.60" y1="409.70" x2="438.40" y2="409.70" stroke="#e85fbf" stroke-width="1.2"/>
<line x1="348.60" y1="409.70" x2="354.20" y2="409.70" stroke="#6d6d6d" stroke-width="1.2"/>
<line x1="367.20" y1="409.70" x2="369.90" y2="409.70" stroke="#6d6d6d" stroke-width="1.2"/>
<line x1="378.20" y1="409.70" x2="380.10" y2="409.70" stroke="#6d6d6d" stroke-width="1.2"/>
<line x1="391.20" y1="409.70" x2="394.80" y2="409.70" stroke="#6d6d6d" stroke-width="1.2"/>
<line x1="394.80" y1="409.70" x2="398.50" y2="409.70" stroke="#111" stroke-width="1.2"/>
<line x1="404.10" y1="409.70" x2="430.80" y2="409.70" stroke="#111" stroke-width="1.2"/>
<path d="M348.6,410.0 L349.3,410.0 L350.0,410.0 L350.7,410.0 L351.4,410.0 L352.1,410.0 L352.7,410.0 L353.4,410.0 L354.1,410.0 L354.8,410.0 L355.5,410.0 L356.2,410.0 L356.9,410.0 L357.6,410.0 L358.3,410.0 L359.0,410.0 L359.7,410.0 L360.3,410.0 L361.0,410.0 L361.7,410.0 L362.4,410.0 L363.1,410.0 L363.8,410.0 L364.5,410.0 L365.2,410.0 L365.9,410.0 L366.6,410.0 L367.3,410.0 L367.9,410.0 L368.6,410.0 L369.3,410.0 L370.0,410.0 L370.7,410.0 L371.4,410.0 L372.1,410.0 L372.8,410.0 L373.5,410.0 L374.2,410.0 L374.8,410.0 L375.5,410.0 L376.2,410.0 L376.9,410.0 L377.6,410.0 L378.3,410.0 L379.0,410.0 L379.7,410.0 L380.4,410.0 L381.1,410.0 L381.8,410.0 L382.4,410.0 L383.1,410.0 L383.8,410.0 L384.5,410.0 L385.2,410.0 L385.9,410.0 L386.6,410.0 L387.3,410.0 L388.0,410.0 L388.7,410.0 L389.4,410.0 L390.0,410.0 L390.7,410.0 L391.4,410.0 L392.1,410.0 L392.8,410.0 L393.5,410.0 L394.2,410.0 L394.9,409.9 L395.6,409.6 L396.3,409.0 L397.0,408.6 L397.6,408.8 L398.3,409.3 L399.0,409.8 L399.7,410.0 L400.4,410.0 L401.1,410.0 L401.8,410.0 L402.5,410.0 L403.2,410.0 L403.9,410.0 L404.6,410.0 L405.2,410.0 L405.9,409.8 L406.6,409.4 L407.3,409.0 L408.0,408.7 L408.7,408.7 L409.4,408.5 L410.1,408.2 L410.8,408.2 L411.5,408.5 L412.2,408.8 L412.8,408.7 L413.5,408.2 L414.2,408.0 L414.9,408.3 L415.6,408.7 L416.3,408.6 L417.0,407.5 L417.7,405.9 L418.4,404.8 L419.1,405.2 L419.7,406.3 L420.4,407.5 L421.1,407.8 L421.8,407.6 L422.5,407.2 L423.2,407.1 L423.9,407.1 L424.6,406.9 L425.3,406.7 L426.0,406.9 L426.7,407.3 L427.3,407.5 L428.0,407.7 L428.7,408.2 L429.4,408.9 L430.1,409.5 L430.8,409.8 L431.5,410.0 L432.2,410.0 L432.9,410.0 L433.6,410.0 L434.3,410.0 L434.9,410.0 L435.6,410.0 L436.3,410.0 L437.0,410.0 L437.7,410.0 L438.4,410.0 L438.40,410.00 L348.60,410.00 Z" fill="#000" stroke="none" stroke-width="1"/>
<line x1="348.60" y1="428.90" x2="438.40" y2="428.90" stroke="#e85fbf" stroke-width="1.2"/>
<line x1="358.80" y1="428.90" x2="361.00" y2="428.90" stroke="#6d6d6d" stroke-width="1.2"/>
<line x1="363.50" y1="428.90" x2="365.50" y2="428.90" stroke="#6d6d6d" stroke-width="1.2"/>
<line x1="369.90" y1="428.90" x2="376.40" y2="428.90" stroke="#6d6d6d" stroke-width="1.2"/>
<line x1="376.40" y1="428.90" x2="400.40" y2="428.90" stroke="#111" stroke-width="1.2"/>
<line x1="406.80" y1="428.90" x2="438.40" y2="428.90" stroke="#111" stroke-width="1.2"/>
<path d="M348.6,429.2 L349.3,429.2 L350.0,429.2 L350.7,429.2 L351.4,429.2 L352.1,429.2 L352.7,429.2 L353.4,429.2 L354.1,429.2 L354.8,429.2 L355.5,429.2 L356.2,429.2 L356.9,429.2 L357.6,429.2 L358.3,429.2 L359.0,429.2 L359.7,429.2 L360.3,429.2 L361.0,429.2 L361.7,429.2 L362.4,429.2 L363.1,429.2 L363.8,429.2 L364.5,429.2 L365.2,429.2 L365.9,429.2 L366.6,429.2 L367.3,429.2 L367.9,429.2 L368.6,429.2 L369.3,429.2 L370.0,429.2 L370.7,429.2 L371.4,429.2 L372.1,429.2 L372.8,429.2 L373.5,429.2 L374.2,429.2 L374.8,429.2 L375.5,429.2 L376.2,429.2 L376.9,429.2 L377.6,429.2 L378.3,429.2 L379.0,429.2 L379.7,429.1 L380.4,428.7 L381.1,427.8 L381.8,426.5 L382.4,425.4 L383.1,425.3 L383.8,426.1 L384.5,427.2 L385.2,428.0 L385.9,428.1 L386.6,427.6 L387.3,427.2 L388.0,427.0 L388.7,427.0 L389.4,426.8 L390.0,426.7 L390.7,427.1 L391.4,427.7 L392.1,428.2 L392.8,428.0 L393.5,427.4 L394.2,427.0 L394.9,426.5 L395.6,425.1 L396.3,423.4 L397.0,423.1 L397.6,424.7 L398.3,426.8 L399.0,428.3 L399.7,428.9 L400.4,429.1 L401.1,429.2 L401.8,429.2 L402.5,429.2 L403.2,429.2 L403.9,429.2 L404.6,429.2 L405.2,429.2 L405.9,429.2 L406.6,429.0 L407.3,428.7 L408.0,427.8 L408.7,426.7 L409.4,425.9 L410.1,426.1 L410.8,426.7 L411.5,427.5 L412.2,427.7 L412.8,427.3 L413.5,426.8 L414.2,426.5 L414.9,426.7 L415.6,426.9 L416.3,426.6 L417.0,425.4 L417.7,423.9 L418.4,422.9 L419.1,423.2 L419.7,424.1 L420.4,424.9 L421.1,425.2 L421.8,425.1 L422.5,425.0 L423.2,425.4 L423.9,426.0 L424.6,426.2 L425.3,426.0 L426.0,425.8 L426.7,426.0 L427.3,426.6 L428.0,427.5 L428.7,428.1 L429.4,428.4 L430.1,428.4 L430.8,428.1 L431.5,427.8 L432.2,427.8 L432.9,428.0 L433.6,428.1 L434.3,427.9 L434.9,427.6 L435.6,427.5 L436.3,427.9 L437.0,428.4 L437.7,428.9 L438.4,429.1 L438.40,429.20 L348.60,429.20 Z" fill="#000" stroke="none" stroke-width="1"/>
<text x="445.30" y="347.50" font-size="7.7" textLength="56" lengthAdjust="spacingAndGlyphs" fill="#231f20" stroke="#231f20" stroke-width="0.22">DNMT3A-R882H</text>
<text x="445.30" y="366.80" font-size="7.7" textLength="66" lengthAdjust="spacingAndGlyphs" fill="#231f20" stroke="#231f20" stroke-width="0.22">DNMT3A-Q886Stop</text>
<text x="445.30" y="386.80" font-size="7.7" textLength="56" lengthAdjust="spacingAndGlyphs" fill="#231f20" stroke="#231f20" stroke-width="0.22">DNMT3A-V716D</text>
<text x="445.30" y="406.00" font-size="7.7" textLength="44.5" lengthAdjust="spacingAndGlyphs" fill="#231f20" stroke="#231f20" stroke-width="0.22">DNMT3A-WT</text>
<text x="445.30" y="425.70" font-size="7.7" fill="#231f20" stroke="#231f20" stroke-width="0.22">EV</text>
<line x1="122.40" y1="439.20" x2="136.60" y2="439.20" stroke="#141470" stroke-width="0.9"/>
<path d="M120.40,439.2 L124.40,437.2 L124.40,441.2 Z" fill="#141470" stroke="none" stroke-width="1"/>
<rect x="136.60" y="437.10" width="8.00" height="4.20" fill="#141470"/>
<text x="147.60" y="442.00" font-size="7.8" fill="#231f20" stroke="#231f20" stroke-width="0.22">EOMES</text>
<line x1="230.20" y1="439.20" x2="243.80" y2="439.20" stroke="#141470" stroke-width="0.9"/>
<path d="M228.20,439.2 L232.20,437.2 L232.20,441.2 Z" fill="#141470" stroke="none" stroke-width="1"/>
<rect x="243.80" y="437.10" width="7.80" height="4.20" fill="#141470"/>
<text x="255.20" y="442.00" font-size="7.8" fill="#231f20" stroke="#231f20" stroke-width="0.22">GATA3</text>
<rect x="441.20" y="437.00" width="8.00" height="4.20" fill="#141470"/>
<line x1="449.00" y1="439.10" x2="463.00" y2="439.10" stroke="#141470" stroke-width="0.9"/>
<path d="M466.0,439.1 L462.0,437.1 L462.0,441.1 Z" fill="#141470" stroke="none" stroke-width="1"/>
<text x="439.00" y="442.00" font-size="7.8" text-anchor="end" fill="#231f20" stroke="#231f20" stroke-width="0.22">CCND1</text>
<text x="156.20" y="453.00" font-size="7.3" fill="#231f20" stroke="#231f20" stroke-width="0.22">CpG 40</text>
<rect x="185.00" y="448.30" width="13.50" height="4.20" fill="#0d6b1a"/>
<line x1="213.20" y1="483.00" x2="213.20" y2="596.90" stroke="#231f20" stroke-width="1.0"/>
<line x1="212.70" y1="596.40" x2="318.00" y2="596.40" stroke="#231f20" stroke-width="1.0"/>
<line x1="210.20" y1="596.40" x2="213.20" y2="596.40" stroke="#231f20" stroke-width="0.9"/>
<text x="208.20" y="599.30" font-size="8.2" text-anchor="end" fill="#231f20" stroke="#231f20" stroke-width="0.22">0</text>
<line x1="210.20" y1="569.00" x2="213.20" y2="569.00" stroke="#231f20" stroke-width="0.9"/>
<text x="208.20" y="571.90" font-size="8.2" text-anchor="end" fill="#231f20" stroke="#231f20" stroke-width="0.22">2</text>
<line x1="210.20" y1="541.60" x2="213.20" y2="541.60" stroke="#231f20" stroke-width="0.9"/>
<text x="208.20" y="544.50" font-size="8.2" text-anchor="end" fill="#231f20" stroke="#231f20" stroke-width="0.22">4</text>
<line x1="210.20" y1="514.20" x2="213.20" y2="514.20" stroke="#231f20" stroke-width="0.9"/>
<text x="208.20" y="517.10" font-size="8.2" text-anchor="end" fill="#231f20" stroke="#231f20" stroke-width="0.22">6</text>
<line x1="210.20" y1="486.80" x2="213.20" y2="486.80" stroke="#231f20" stroke-width="0.9"/>
<text x="208.20" y="489.70" font-size="8.2" text-anchor="end" fill="#231f20" stroke="#231f20" stroke-width="0.22">8</text>
<line x1="234.20" y1="596.40" x2="234.20" y2="599.00" stroke="#231f20" stroke-width="0.9"/>
<text x="234.20" y="609.40" font-size="8.2" text-anchor="middle" fill="#231f20" stroke="#231f20" stroke-width="0.22">Day 0</text>
<line x1="265.70" y1="596.40" x2="265.70" y2="599.00" stroke="#231f20" stroke-width="0.9"/>
<text x="265.70" y="609.40" font-size="8.2" text-anchor="middle" fill="#231f20" stroke="#231f20" stroke-width="0.22">Day 2</text>
<line x1="296.80" y1="596.40" x2="296.80" y2="599.00" stroke="#231f20" stroke-width="0.9"/>
<text x="296.80" y="609.40" font-size="8.2" text-anchor="middle" fill="#231f20" stroke="#231f20" stroke-width="0.22">Day 4</text>
<text transform="translate(196.10,540.00) rotate(-90)" x="0" y="0" font-size="8.6" text-anchor="middle" textLength="76.5" lengthAdjust="spacingAndGlyphs" fill="#231f20" stroke="#231f20" stroke-width="0.22">Normalized cell growth</text>
<path d="M234.2,582.7 L265.7,575.9 L296.8,560.8" fill="none" stroke="#1d7252" stroke-width="1.5"/>
<path d="M232.10,581.50 L236.30,581.50 L234.20,584.50 Z" fill="#1d7252" stroke="none" stroke-width="1"/>
<line x1="265.70" y1="573.11" x2="265.70" y2="578.59" stroke="#1d7252" stroke-width="0.9"/>
<line x1="263.50" y1="573.11" x2="267.90" y2="573.11" stroke="#1d7252" stroke-width="0.9"/>
<line x1="263.50" y1="578.59" x2="267.90" y2="578.59" stroke="#1d7252" stroke-width="0.9"/>
<path d="M263.60,574.65 L267.80,574.65 L265.70,577.65 Z" fill="#1d7252" stroke="none" stroke-width="1"/>
<line x1="296.80" y1="555.99" x2="296.80" y2="565.57" stroke="#1d7252" stroke-width="0.9"/>
<line x1="294.60" y1="555.99" x2="299.00" y2="555.99" stroke="#1d7252" stroke-width="0.9"/>
<line x1="294.60" y1="565.57" x2="299.00" y2="565.57" stroke="#1d7252" stroke-width="0.9"/>
<path d="M294.70,559.58 L298.90,559.58 L296.80,562.58 Z" fill="#1d7252" stroke="none" stroke-width="1"/>
<path d="M234.2,582.7 L265.7,579.3 L296.8,564.2" fill="none" stroke="#47c046" stroke-width="1.5"/>
<path d="M232.10,581.50 L236.30,581.50 L234.20,584.50 Z" fill="#47c046" stroke="none" stroke-width="1"/>
<line x1="265.70" y1="577.22" x2="265.70" y2="581.33" stroke="#47c046" stroke-width="0.9"/>
<line x1="263.50" y1="577.22" x2="267.90" y2="577.22" stroke="#47c046" stroke-width="0.9"/>
<line x1="263.50" y1="581.33" x2="267.90" y2="581.33" stroke="#47c046" stroke-width="0.9"/>
<path d="M263.60,578.07 L267.80,578.07 L265.70,581.07 Z" fill="#47c046" stroke="none" stroke-width="1"/>
<line x1="296.80" y1="560.78" x2="296.80" y2="567.63" stroke="#47c046" stroke-width="0.9"/>
<line x1="294.60" y1="560.78" x2="299.00" y2="560.78" stroke="#47c046" stroke-width="0.9"/>
<line x1="294.60" y1="567.63" x2="299.00" y2="567.63" stroke="#47c046" stroke-width="0.9"/>
<path d="M294.70,563.00 L298.90,563.00 L296.80,566.00 Z" fill="#47c046" stroke="none" stroke-width="1"/>
<path d="M234.2,583.4 L265.7,559.4 L296.8,545.0" fill="none" stroke="#1f4f8a" stroke-width="1.5"/>
<path d="M232.10,582.18 L236.30,582.18 L234.20,585.18 Z" fill="#1f4f8a" stroke="none" stroke-width="1"/>
<line x1="265.70" y1="551.19" x2="265.70" y2="567.63" stroke="#1f4f8a" stroke-width="0.9"/>
<line x1="263.50" y1="551.19" x2="267.90" y2="551.19" stroke="#1f4f8a" stroke-width="0.9"/>
<line x1="263.50" y1="567.63" x2="267.90" y2="567.63" stroke="#1f4f8a" stroke-width="0.9"/>
<path d="M263.60,558.21 L267.80,558.21 L265.70,561.21 Z" fill="#1f4f8a" stroke="none" stroke-width="1"/>
<line x1="296.80" y1="538.86" x2="296.80" y2="551.19" stroke="#1f4f8a" stroke-width="0.9"/>
<line x1="294.60" y1="538.86" x2="299.00" y2="538.86" stroke="#1f4f8a" stroke-width="0.9"/>
<line x1="294.60" y1="551.19" x2="299.00" y2="551.19" stroke="#1f4f8a" stroke-width="0.9"/>
<path d="M294.70,543.82 L298.90,543.82 L296.80,546.82 Z" fill="#1f4f8a" stroke="none" stroke-width="1"/>
<path d="M234.2,582.7 L265.7,555.3 L296.8,532.0" fill="none" stroke="#f7941d" stroke-width="1.5"/>
<path d="M232.10,581.50 L236.30,581.50 L234.20,584.50 Z" fill="#f7941d" stroke="none" stroke-width="1"/>
<line x1="265.70" y1="550.50" x2="265.70" y2="560.09" stroke="#f7941d" stroke-width="0.9"/>
<line x1="263.50" y1="550.50" x2="267.90" y2="550.50" stroke="#f7941d" stroke-width="0.9"/>
<line x1="263.50" y1="560.09" x2="267.90" y2="560.09" stroke="#f7941d" stroke-width="0.9"/>
<path d="M263.60,554.10 L267.80,554.10 L265.70,557.10 Z" fill="#f7941d" stroke="none" stroke-width="1"/>
<line x1="296.80" y1="526.53" x2="296.80" y2="537.49" stroke="#f7941d" stroke-width="0.9"/>
<line x1="294.60" y1="526.53" x2="299.00" y2="526.53" stroke="#f7941d" stroke-width="0.9"/>
<line x1="294.60" y1="537.49" x2="299.00" y2="537.49" stroke="#f7941d" stroke-width="0.9"/>
<path d="M294.70,530.81 L298.90,530.81 L296.80,533.81 Z" fill="#f7941d" stroke="none" stroke-width="1"/>
<path d="M234.2,582.7 L265.7,552.6 L296.8,526.5" fill="none" stroke="#6a2d8a" stroke-width="1.5"/>
<path d="M232.10,581.50 L236.30,581.50 L234.20,584.50 Z" fill="#6a2d8a" stroke="none" stroke-width="1"/>
<line x1="265.70" y1="544.34" x2="265.70" y2="560.78" stroke="#6a2d8a" stroke-width="0.9"/>
<line x1="263.50" y1="544.34" x2="267.90" y2="544.34" stroke="#6a2d8a" stroke-width="0.9"/>
<line x1="263.50" y1="560.78" x2="267.90" y2="560.78" stroke="#6a2d8a" stroke-width="0.9"/>
<path d="M263.60,551.36 L267.80,551.36 L265.70,554.36 Z" fill="#6a2d8a" stroke="none" stroke-width="1"/>
<line x1="296.80" y1="519.68" x2="296.80" y2="533.38" stroke="#6a2d8a" stroke-width="0.9"/>
<line x1="294.60" y1="519.68" x2="299.00" y2="519.68" stroke="#6a2d8a" stroke-width="0.9"/>
<line x1="294.60" y1="533.38" x2="299.00" y2="533.38" stroke="#6a2d8a" stroke-width="0.9"/>
<path d="M294.70,525.33 L298.90,525.33 L296.80,528.33 Z" fill="#6a2d8a" stroke="none" stroke-width="1"/>
<path d="M234.2,582.7 L265.7,551.2 L296.8,523.8" fill="none" stroke="#c8102e" stroke-width="1.5"/>
<path d="M232.10,581.50 L236.30,581.50 L234.20,584.50 Z" fill="#c8102e" stroke="none" stroke-width="1"/>
<line x1="265.70" y1="545.71" x2="265.70" y2="556.67" stroke="#c8102e" stroke-width="0.9"/>
<line x1="263.50" y1="545.71" x2="267.90" y2="545.71" stroke="#c8102e" stroke-width="0.9"/>
<line x1="263.50" y1="556.67" x2="267.90" y2="556.67" stroke="#c8102e" stroke-width="0.9"/>
<path d="M263.60,549.99 L267.80,549.99 L265.70,552.99 Z" fill="#c8102e" stroke="none" stroke-width="1"/>
<line x1="296.80" y1="511.46" x2="296.80" y2="536.12" stroke="#c8102e" stroke-width="0.9"/>
<line x1="294.60" y1="511.46" x2="299.00" y2="511.46" stroke="#c8102e" stroke-width="0.9"/>
<line x1="294.60" y1="536.12" x2="299.00" y2="536.12" stroke="#c8102e" stroke-width="0.9"/>
<path d="M294.70,522.59 L298.90,522.59 L296.80,525.59 Z" fill="#c8102e" stroke="none" stroke-width="1"/>
<line x1="304.60" y1="524.30" x2="304.60" y2="563.80" stroke="#231f20" stroke-width="0.9"/>
<text x="309.60" y="548.20" font-size="9.0" fill="#231f20" stroke="#231f20" stroke-width="0.22">*</text>
<text x="273.60" y="590.70" font-size="8.3" textLength="34.8" lengthAdjust="spacingAndGlyphs" fill="#231f20" stroke="#231f20" stroke-width="0.22">p = 0.006</text>
<line x1="201.30" y1="624.50" x2="209.50" y2="624.50" stroke="#c8102e" stroke-width="1.2"/>
<path d="M203.50,623.20 L207.30,623.20 L205.40,626.00 Z" fill="#c8102e" stroke="none" stroke-width="1"/>
<text x="211.70" y="627.20" font-size="7.6" fill="#231f20" stroke="#231f20" stroke-width="0.22">R882H</text>
<line x1="244.60" y1="624.50" x2="252.80" y2="624.50" stroke="#f7941d" stroke-width="1.2"/>
<path d="M246.80,623.20 L250.60,623.20 L248.70,626.00 Z" fill="#f7941d" stroke="none" stroke-width="1"/>
<text x="255.00" y="627.20" font-size="7.6" fill="#231f20" stroke="#231f20" stroke-width="0.22">Q886Stop</text>
<line x1="297.40" y1="624.50" x2="305.60" y2="624.50" stroke="#6a2d8a" stroke-width="1.2"/>
<path d="M299.60,623.20 L303.40,623.20 L301.50,626.00 Z" fill="#6a2d8a" stroke="none" stroke-width="1"/>
<text x="307.80" y="627.20" font-size="7.6" fill="#231f20" stroke="#231f20" stroke-width="0.22">V716D</text>
<line x1="201.30" y1="635.80" x2="209.50" y2="635.80" stroke="#1f4f8a" stroke-width="1.2"/>
<path d="M203.50,634.50 L207.30,634.50 L205.40,637.30 Z" fill="#1f4f8a" stroke="none" stroke-width="1"/>
<text x="211.70" y="638.50" font-size="7.6" fill="#231f20" stroke="#231f20" stroke-width="0.22">KD</text>
<line x1="244.60" y1="635.80" x2="252.80" y2="635.80" stroke="#47c046" stroke-width="1.2"/>
<path d="M246.80,634.50 L250.60,634.50 L248.70,637.30 Z" fill="#47c046" stroke="none" stroke-width="1"/>
<text x="255.00" y="638.50" font-size="7.6" fill="#231f20" stroke="#231f20" stroke-width="0.22">WT</text>
<line x1="297.40" y1="635.80" x2="305.60" y2="635.80" stroke="#1d7252" stroke-width="1.2"/>
<path d="M299.60,634.50 L303.40,634.50 L301.50,637.30 Z" fill="#1d7252" stroke="none" stroke-width="1"/>
<text x="307.80" y="638.50" font-size="7.6" fill="#231f20" stroke="#231f20" stroke-width="0.22">EV</text>
<path d="M366.1,486.2 L366.9,486.2 L367.7,486.2 L368.5,486.2 L369.2,486.2 L370.0,486.2 L370.8,486.2 L371.6,486.2 L372.4,486.2 L373.2,486.2 L374.0,486.2 L374.8,486.2 L375.5,486.2 L376.3,486.2 L377.1,486.2 L377.9,486.2 L378.7,486.2 L379.5,486.2 L380.3,486.2 L381.1,486.2 L381.8,486.2 L382.6,486.2 L383.4,486.2 L384.2,486.2 L385.0,486.2 L385.8,486.2 L386.6,486.2 L387.4,486.2 L388.1,486.1 L388.9,486.0 L389.7,485.7 L390.5,485.0 L391.3,483.7 L392.1,481.5 L392.9,478.7 L393.6,475.6 L394.4,472.9 L395.2,471.6 L396.0,471.9 L396.8,473.3 L397.6,475.4 L398.4,477.9 L399.2,480.3 L399.9,482.3 L400.7,483.8 L401.5,484.9 L402.3,485.5 L403.1,485.9 L403.9,486.1 L404.7,486.1 L405.5,486.2 L406.2,486.2 L407.0,486.2 L407.8,486.2 L408.6,486.2 L409.4,486.2 L410.2,486.2 L411.0,486.2 L411.8,486.2 L412.5,486.2 L413.3,486.2 L414.1,486.2 L414.9,486.2 L415.7,486.2 L416.5,486.2 L417.3,486.2 L418.1,486.2 L418.8,486.2 L419.6,486.2 L420.4,486.2 L421.2,486.2 L421.20,486.20 L366.10,486.20 Z" fill="#df8393" stroke="none" stroke-width="1" fill-opacity="0.8" style="mix-blend-mode:multiply"/>
<path d="M366.1,486.2 L366.9,486.2 L367.7,486.2 L368.5,486.2 L369.2,486.2 L370.0,486.2 L370.8,486.2 L371.6,486.2 L372.4,486.2 L373.2,486.2 L374.0,486.2 L374.8,486.2 L375.5,486.2 L376.3,486.2 L377.1,486.2 L377.9,486.2 L378.7,486.2 L379.5,486.2 L380.3,486.2 L381.1,486.2 L381.8,486.2 L382.6,486.2 L383.4,486.2 L384.2,486.2 L385.0,486.2 L385.8,486.2 L386.6,486.2 L387.4,486.2 L388.1,486.1 L388.9,486.0 L389.7,485.7 L390.5,485.0 L391.3,483.7 L392.1,481.5 L392.9,478.7 L393.6,475.6 L394.4,472.9 L395.2,471.6 L396.0,471.9 L396.8,473.3 L397.6,475.4 L398.4,477.9 L399.2,480.3 L399.9,482.3 L400.7,483.8 L401.5,484.9 L402.3,485.5 L403.1,485.9 L403.9,486.1 L404.7,486.1 L405.5,486.2 L406.2,486.2 L407.0,486.2 L407.8,486.2 L408.6,486.2 L409.4,486.2 L410.2,486.2 L411.0,486.2 L411.8,486.2 L412.5,486.2 L413.3,486.2 L414.1,486.2 L414.9,486.2 L415.7,486.2 L416.5,486.2 L417.3,486.2 L418.1,486.2 L418.8,486.2 L419.6,486.2 L420.4,486.2 L421.2,486.2" fill="none" stroke="#d2435f" stroke-width="1.15"/>
<path d="M366.1,494.3 L366.9,494.3 L367.7,494.3 L368.5,494.3 L369.2,494.3 L370.0,494.3 L370.8,494.3 L371.6,494.3 L372.4,494.3 L373.2,494.3 L374.0,494.3 L374.8,494.3 L375.5,494.3 L376.3,494.3 L377.1,494.3 L377.9,494.3 L378.7,494.3 L379.5,494.3 L380.3,494.3 L381.1,494.3 L381.8,494.3 L382.6,494.3 L383.4,494.3 L384.2,494.3 L385.0,494.3 L385.8,494.3 L386.6,494.3 L387.4,494.3 L388.1,494.2 L388.9,493.9 L389.7,493.4 L390.5,492.5 L391.3,491.0 L392.1,488.7 L392.9,486.0 L393.6,483.1 L394.4,480.8 L395.2,479.8 L396.0,480.0 L396.8,481.0 L397.6,482.8 L398.4,484.8 L399.2,487.0 L399.9,489.0 L400.7,490.7 L401.5,492.0 L402.3,492.9 L403.1,493.5 L403.9,493.9 L404.7,494.1 L405.5,494.2 L406.2,494.3 L407.0,494.3 L407.8,494.3 L408.6,494.3 L409.4,494.3 L410.2,494.3 L411.0,494.3 L411.8,494.3 L412.5,494.3 L413.3,494.3 L414.1,494.3 L414.9,494.3 L415.7,494.3 L416.5,494.3 L417.3,494.3 L418.1,494.3 L418.8,494.3 L419.6,494.3 L420.4,494.3 L421.2,494.3 L421.20,494.32 L366.10,494.32 Z" fill="#f6b868" stroke="none" stroke-width="1" fill-opacity="0.8" style="mix-blend-mode:multiply"/>
<path d="M366.1,494.3 L366.9,494.3 L367.7,494.3 L368.5,494.3 L369.2,494.3 L370.0,494.3 L370.8,494.3 L371.6,494.3 L372.4,494.3 L373.2,494.3 L374.0,494.3 L374.8,494.3 L375.5,494.3 L376.3,494.3 L377.1,494.3 L377.9,494.3 L378.7,494.3 L379.5,494.3 L380.3,494.3 L381.1,494.3 L381.8,494.3 L382.6,494.3 L383.4,494.3 L384.2,494.3 L385.0,494.3 L385.8,494.3 L386.6,494.3 L387.4,494.3 L388.1,494.2 L388.9,493.9 L389.7,493.4 L390.5,492.5 L391.3,491.0 L392.1,488.7 L392.9,486.0 L393.6,483.1 L394.4,480.8 L395.2,479.8 L396.0,480.0 L396.8,481.0 L397.6,482.8 L398.4,484.8 L399.2,487.0 L399.9,489.0 L400.7,490.7 L401.5,492.0 L402.3,492.9 L403.1,493.5 L403.9,493.9 L404.7,494.1 L405.5,494.2 L406.2,494.3 L407.0,494.3 L407.8,494.3 L408.6,494.3 L409.4,494.3 L410.2,494.3 L411.0,494.3 L411.8,494.3 L412.5,494.3 L413.3,494.3 L414.1,494.3 L414.9,494.3 L415.7,494.3 L416.5,494.3 L417.3,494.3 L418.1,494.3 L418.8,494.3 L419.6,494.3 L420.4,494.3 L421.2,494.3" fill="none" stroke="#f3a23a" stroke-width="1.15"/>
<path d="M366.1,502.4 L366.9,502.4 L367.7,502.4 L368.5,502.4 L369.2,502.4 L370.0,502.4 L370.8,502.4 L371.6,502.4 L372.4,502.4 L373.2,502.4 L374.0,502.4 L374.8,502.4 L375.5,502.4 L376.3,502.4 L377.1,502.4 L377.9,502.4 L378.7,502.4 L379.5,502.4 L380.3,502.4 L381.1,502.4 L381.8,502.4 L382.6,502.4 L383.4,502.4 L384.2,502.3 L385.0,502.1 L385.8,501.8 L386.6,501.2 L387.4,500.3 L388.1,498.9 L388.9,497.1 L389.7,495.0 L390.5,492.7 L391.3,490.5 L392.1,488.8 L392.9,487.9 L393.6,488.0 L394.4,488.7 L395.2,490.0 L396.0,491.7 L396.8,493.6 L397.6,495.5 L398.4,497.2 L399.2,498.7 L399.9,499.9 L400.7,500.8 L401.5,501.4 L402.3,501.8 L403.1,502.1 L403.9,502.3 L404.7,502.3 L405.5,502.4 L406.2,502.4 L407.0,502.4 L407.8,502.4 L408.6,502.4 L409.4,502.4 L410.2,502.4 L411.0,502.4 L411.8,502.4 L412.5,502.4 L413.3,502.4 L414.1,502.4 L414.9,502.4 L415.7,502.4 L416.5,502.4 L417.3,502.4 L418.1,502.4 L418.8,502.4 L419.6,502.4 L420.4,502.4 L421.2,502.4 L421.20,502.44 L366.10,502.44 Z" fill="#7b9dc0" stroke="none" stroke-width="1" fill-opacity="0.8" style="mix-blend-mode:multiply"/>
<path d="M366.1,502.4 L366.9,502.4 L367.7,502.4 L368.5,502.4 L369.2,502.4 L370.0,502.4 L370.8,502.4 L371.6,502.4 L372.4,502.4 L373.2,502.4 L374.0,502.4 L374.8,502.4 L375.5,502.4 L376.3,502.4 L377.1,502.4 L377.9,502.4 L378.7,502.4 L379.5,502.4 L380.3,502.4 L381.1,502.4 L381.8,502.4 L382.6,502.4 L383.4,502.4 L384.2,502.3 L385.0,502.1 L385.8,501.8 L386.6,501.2 L387.4,500.3 L388.1,498.9 L388.9,497.1 L389.7,495.0 L390.5,492.7 L391.3,490.5 L392.1,488.8 L392.9,487.9 L393.6,488.0 L394.4,488.7 L395.2,490.0 L396.0,491.7 L396.8,493.6 L397.6,495.5 L398.4,497.2 L399.2,498.7 L399.9,499.9 L400.7,500.8 L401.5,501.4 L402.3,501.8 L403.1,502.1 L403.9,502.3 L404.7,502.3 L405.5,502.4 L406.2,502.4 L407.0,502.4 L407.8,502.4 L408.6,502.4 L409.4,502.4 L410.2,502.4 L411.0,502.4 L411.8,502.4 L412.5,502.4 L413.3,502.4 L414.1,502.4 L414.9,502.4 L415.7,502.4 L416.5,502.4 L417.3,502.4 L418.1,502.4 L418.8,502.4 L419.6,502.4 L420.4,502.4 L421.2,502.4" fill="none" stroke="#3a6f9f" stroke-width="1.15"/>
<path d="M366.1,510.6 L366.9,510.6 L367.7,510.6 L368.5,510.6 L369.2,510.6 L370.0,510.5 L370.8,510.5 L371.6,510.5 L372.4,510.3 L373.2,510.0 L374.0,509.5 L374.8,508.6 L375.5,507.3 L376.3,505.5 L377.1,503.2 L377.9,500.7 L378.7,498.4 L379.5,496.7 L380.3,495.9 L381.1,496.0 L381.8,496.5 L382.6,497.3 L383.4,498.5 L384.2,499.8 L385.0,501.2 L385.8,502.6 L386.6,503.9 L387.4,505.0 L388.1,506.0 L388.9,506.7 L389.7,507.3 L390.5,507.7 L391.3,508.0 L392.1,508.2 L392.9,508.3 L393.6,508.4 L394.4,508.4 L395.2,508.5 L396.0,508.5 L396.8,508.6 L397.6,508.6 L398.4,508.7 L399.2,508.8 L399.9,508.9 L400.7,509.0 L401.5,509.1 L402.3,509.2 L403.1,509.4 L403.9,509.5 L404.7,509.6 L405.5,509.7 L406.2,509.8 L407.0,509.9 L407.8,510.0 L408.6,510.1 L409.4,510.2 L410.2,510.2 L411.0,510.3 L411.8,510.3 L412.5,510.4 L413.3,510.4 L414.1,510.4 L414.9,510.5 L415.7,510.5 L416.5,510.5 L417.3,510.5 L418.1,510.5 L418.8,510.5 L419.6,510.5 L420.4,510.5 L421.2,510.6 L421.20,510.56 L366.10,510.56 Z" fill="#9f7db5" stroke="none" stroke-width="1" fill-opacity="0.8" style="mix-blend-mode:multiply"/>
<path d="M366.1,510.6 L366.9,510.6 L367.7,510.6 L368.5,510.6 L369.2,510.6 L370.0,510.5 L370.8,510.5 L371.6,510.5 L372.4,510.3 L373.2,510.0 L374.0,509.5 L374.8,508.6 L375.5,507.3 L376.3,505.5 L377.1,503.2 L377.9,500.7 L378.7,498.4 L379.5,496.7 L380.3,495.9 L381.1,496.0 L381.8,496.5 L382.6,497.3 L383.4,498.5 L384.2,499.8 L385.0,501.2 L385.8,502.6 L386.6,503.9 L387.4,505.0 L388.1,506.0 L388.9,506.7 L389.7,507.3 L390.5,507.7 L391.3,508.0 L392.1,508.2 L392.9,508.3 L393.6,508.4 L394.4,508.4 L395.2,508.5 L396.0,508.5 L396.8,508.6 L397.6,508.6 L398.4,508.7 L399.2,508.8 L399.9,508.9 L400.7,509.0 L401.5,509.1 L402.3,509.2 L403.1,509.4 L403.9,509.5 L404.7,509.6 L405.5,509.7 L406.2,509.8 L407.0,509.9 L407.8,510.0 L408.6,510.1 L409.4,510.2 L410.2,510.2 L411.0,510.3 L411.8,510.3 L412.5,510.4 L413.3,510.4 L414.1,510.4 L414.9,510.5 L415.7,510.5 L416.5,510.5 L417.3,510.5 L418.1,510.5 L418.8,510.5 L419.6,510.5 L420.4,510.5 L421.2,510.6" fill="none" stroke="#7b4c93" stroke-width="1.15"/>
<path d="M366.1,518.6 L366.9,518.5 L367.7,518.5 L368.5,518.5 L369.2,518.5 L370.0,518.4 L370.8,518.4 L371.6,518.3 L372.4,518.3 L373.2,518.2 L374.0,518.2 L374.8,518.1 L375.5,518.0 L376.3,518.0 L377.1,517.9 L377.9,517.9 L378.7,517.8 L379.5,517.8 L380.3,517.7 L381.1,517.7 L381.8,517.7 L382.6,517.7 L383.4,517.7 L384.2,517.7 L385.0,517.8 L385.8,517.8 L386.6,517.9 L387.4,517.8 L388.1,517.4 L388.9,516.8 L389.7,515.6 L390.5,513.8 L391.3,511.4 L392.1,508.8 L392.9,506.4 L393.6,504.6 L394.4,504.1 L395.2,504.6 L396.0,506.0 L396.8,508.1 L397.6,510.4 L398.4,512.6 L399.2,514.5 L399.9,516.0 L400.7,517.1 L401.5,517.8 L402.3,518.2 L403.1,518.5 L403.9,518.6 L404.7,518.6 L405.5,518.7 L406.2,518.7 L407.0,518.7 L407.8,518.7 L408.6,518.7 L409.4,518.7 L410.2,518.7 L411.0,518.7 L411.8,518.7 L412.5,518.7 L413.3,518.7 L414.1,518.7 L414.9,518.7 L415.7,518.7 L416.5,518.7 L417.3,518.7 L418.1,518.7 L418.8,518.7 L419.6,518.7 L420.4,518.7 L421.2,518.7 L421.20,518.68 L366.10,518.68 Z" fill="#9cd79b" stroke="none" stroke-width="1" fill-opacity="0.8" style="mix-blend-mode:multiply"/>
<path d="M366.1,518.6 L366.9,518.5 L367.7,518.5 L368.5,518.5 L369.2,518.5 L370.0,518.4 L370.8,518.4 L371.6,518.3 L372.4,518.3 L373.2,518.2 L374.0,518.2 L374.8,518.1 L375.5,518.0 L376.3,518.0 L377.1,517.9 L377.9,517.9 L378.7,517.8 L379.5,517.8 L380.3,517.7 L381.1,517.7 L381.8,517.7 L382.6,517.7 L383.4,517.7 L384.2,517.7 L385.0,517.8 L385.8,517.8 L386.6,517.9 L387.4,517.8 L388.1,517.4 L388.9,516.8 L389.7,515.6 L390.5,513.8 L391.3,511.4 L392.1,508.8 L392.9,506.4 L393.6,504.6 L394.4,504.1 L395.2,504.6 L396.0,506.0 L396.8,508.1 L397.6,510.4 L398.4,512.6 L399.2,514.5 L399.9,516.0 L400.7,517.1 L401.5,517.8 L402.3,518.2 L403.1,518.5 L403.9,518.6 L404.7,518.6 L405.5,518.7 L406.2,518.7 L407.0,518.7 L407.8,518.7 L408.6,518.7 L409.4,518.7 L410.2,518.7 L411.0,518.7 L411.8,518.7 L412.5,518.7 L413.3,518.7 L414.1,518.7 L414.9,518.7 L415.7,518.7 L416.5,518.7 L417.3,518.7 L418.1,518.7 L418.8,518.7 L419.6,518.7 L420.4,518.7 L421.2,518.7" fill="none" stroke="#5cc25f" stroke-width="1.15"/>
<path d="M366.1,526.8 L366.9,526.8 L367.7,526.8 L368.5,526.8 L369.2,526.8 L370.0,526.8 L370.8,526.8 L371.6,526.8 L372.4,526.8 L373.2,526.8 L374.0,526.8 L374.8,526.8 L375.5,526.8 L376.3,526.8 L377.1,526.8 L377.9,526.8 L378.7,526.8 L379.5,526.7 L380.3,526.7 L381.1,526.6 L381.8,526.3 L382.6,525.9 L383.4,525.3 L384.2,524.3 L385.0,522.9 L385.8,521.2 L386.6,519.1 L387.4,517.0 L388.1,514.9 L388.9,513.3 L389.7,512.4 L390.5,512.2 L391.3,512.7 L392.1,513.6 L392.9,514.9 L393.6,516.4 L394.4,518.0 L395.2,519.7 L396.0,521.2 L396.8,522.6 L397.6,523.7 L398.4,524.6 L399.2,525.3 L399.9,525.8 L400.7,526.2 L401.5,526.4 L402.3,526.6 L403.1,526.7 L403.9,526.7 L404.7,526.8 L405.5,526.8 L406.2,526.8 L407.0,526.8 L407.8,526.8 L408.6,526.8 L409.4,526.8 L410.2,526.8 L411.0,526.8 L411.8,526.8 L412.5,526.8 L413.3,526.8 L414.1,526.8 L414.9,526.8 L415.7,526.8 L416.5,526.8 L417.3,526.8 L418.1,526.8 L418.8,526.8 L419.6,526.8 L420.4,526.8 L421.2,526.8 L421.20,526.80 L366.10,526.80 Z" fill="#58a083" stroke="none" stroke-width="1" fill-opacity="0.8" style="mix-blend-mode:multiply"/>
<path d="M366.1,526.8 L366.9,526.8 L367.7,526.8 L368.5,526.8 L369.2,526.8 L370.0,526.8 L370.8,526.8 L371.6,526.8 L372.4,526.8 L373.2,526.8 L374.0,526.8 L374.8,526.8 L375.5,526.8 L376.3,526.8 L377.1,526.8 L377.9,526.8 L378.7,526.8 L379.5,526.7 L380.3,526.7 L381.1,526.6 L381.8,526.3 L382.6,525.9 L383.4,525.3 L384.2,524.3 L385.0,522.9 L385.8,521.2 L386.6,519.1 L387.4,517.0 L388.1,514.9 L388.9,513.3 L389.7,512.4 L390.5,512.2 L391.3,512.7 L392.1,513.6 L392.9,514.9 L393.6,516.4 L394.4,518.0 L395.2,519.7 L396.0,521.2 L396.8,522.6 L397.6,523.7 L398.4,524.6 L399.2,525.3 L399.9,525.8 L400.7,526.2 L401.5,526.4 L402.3,526.6 L403.1,526.7 L403.9,526.7 L404.7,526.8 L405.5,526.8 L406.2,526.8 L407.0,526.8 L407.8,526.8 L408.6,526.8 L409.4,526.8 L410.2,526.8 L411.0,526.8 L411.8,526.8 L412.5,526.8 L413.3,526.8 L414.1,526.8 L414.9,526.8 L415.7,526.8 L416.5,526.8 L417.3,526.8 L418.1,526.8 L418.8,526.8 L419.6,526.8 L420.4,526.8 L421.2,526.8" fill="none" stroke="#23785a" stroke-width="1.15"/>
<rect x="365.60" y="469.70" width="56.10" height="57.10" fill="none" stroke="#231f20" stroke-width="1.2"/>
<line x1="363.20" y1="469.70" x2="365.60" y2="469.70" stroke="#231f20" stroke-width="0.6"/>
<line x1="363.20" y1="471.74" x2="365.60" y2="471.74" stroke="#231f20" stroke-width="0.6"/>
<line x1="363.20" y1="473.78" x2="365.60" y2="473.78" stroke="#231f20" stroke-width="0.6"/>
<line x1="363.20" y1="475.82" x2="365.60" y2="475.82" stroke="#231f20" stroke-width="0.6"/>
<line x1="363.20" y1="477.86" x2="365.60" y2="477.86" stroke="#231f20" stroke-width="0.6"/>
<line x1="363.20" y1="479.90" x2="365.60" y2="479.90" stroke="#231f20" stroke-width="0.6"/>
<line x1="363.20" y1="481.94" x2="365.60" y2="481.94" stroke="#231f20" stroke-width="0.6"/>
<line x1="363.20" y1="483.97" x2="365.60" y2="483.97" stroke="#231f20" stroke-width="0.6"/>
<line x1="363.20" y1="486.01" x2="365.60" y2="486.01" stroke="#231f20" stroke-width="0.6"/>
<line x1="363.20" y1="488.05" x2="365.60" y2="488.05" stroke="#231f20" stroke-width="0.6"/>
<line x1="363.20" y1="490.09" x2="365.60" y2="490.09" stroke="#231f20" stroke-width="0.6"/>
<line x1="363.20" y1="492.13" x2="365.60" y2="492.13" stroke="#231f20" stroke-width="0.6"/>
<line x1="363.20" y1="494.17" x2="365.60" y2="494.17" stroke="#231f20" stroke-width="0.6"/>
<line x1="363.20" y1="496.21" x2="365.60" y2="496.21" stroke="#231f20" stroke-width="0.6"/>
<line x1="363.20" y1="498.25" x2="365.60" y2="498.25" stroke="#231f20" stroke-width="0.6"/>
<line x1="363.20" y1="500.29" x2="365.60" y2="500.29" stroke="#231f20" stroke-width="0.6"/>
<line x1="363.20" y1="502.33" x2="365.60" y2="502.33" stroke="#231f20" stroke-width="0.6"/>
<line x1="363.20" y1="504.37" x2="365.60" y2="504.37" stroke="#231f20" stroke-width="0.6"/>
<line x1="363.20" y1="506.41" x2="365.60" y2="506.41" stroke="#231f20" stroke-width="0.6"/>
<line x1="363.20" y1="508.45" x2="365.60" y2="508.45" stroke="#231f20" stroke-width="0.6"/>
<line x1="363.20" y1="510.49" x2="365.60" y2="510.49" stroke="#231f20" stroke-width="0.6"/>
<line x1="363.20" y1="512.52" x2="365.60" y2="512.52" stroke="#231f20" stroke-width="0.6"/>
<line x1="363.20" y1="514.56" x2="365.60" y2="514.56" stroke="#231f20" stroke-width="0.6"/>
<line x1="363.20" y1="516.60" x2="365.60" y2="516.60" stroke="#231f20" stroke-width="0.6"/>
<line x1="363.20" y1="518.64" x2="365.60" y2="518.64" stroke="#231f20" stroke-width="0.6"/>
<line x1="363.20" y1="520.68" x2="365.60" y2="520.68" stroke="#231f20" stroke-width="0.6"/>
<line x1="363.20" y1="522.72" x2="365.60" y2="522.72" stroke="#231f20" stroke-width="0.6"/>
<line x1="363.20" y1="524.76" x2="365.60" y2="524.76" stroke="#231f20" stroke-width="0.6"/>
<line x1="363.20" y1="526.80" x2="365.60" y2="526.80" stroke="#231f20" stroke-width="0.6"/>
<line x1="365.60" y1="526.80" x2="365.60" y2="529.80" stroke="#231f20" stroke-width="0.7"/>
<line x1="369.82" y1="526.80" x2="369.82" y2="528.70" stroke="#231f20" stroke-width="0.7"/>
<line x1="372.29" y1="526.80" x2="372.29" y2="528.70" stroke="#231f20" stroke-width="0.7"/>
<line x1="374.04" y1="526.80" x2="374.04" y2="528.70" stroke="#231f20" stroke-width="0.7"/>
<line x1="375.40" y1="526.80" x2="375.40" y2="528.70" stroke="#231f20" stroke-width="0.7"/>
<line x1="376.51" y1="526.80" x2="376.51" y2="528.70" stroke="#231f20" stroke-width="0.7"/>
<line x1="377.45" y1="526.80" x2="377.45" y2="528.70" stroke="#231f20" stroke-width="0.7"/>
<line x1="378.27" y1="526.80" x2="378.27" y2="528.70" stroke="#231f20" stroke-width="0.7"/>
<line x1="378.98" y1="526.80" x2="378.98" y2="528.70" stroke="#231f20" stroke-width="0.7"/>
<line x1="379.62" y1="526.80" x2="379.62" y2="529.80" stroke="#231f20" stroke-width="0.7"/>
<line x1="383.85" y1="526.80" x2="383.85" y2="528.70" stroke="#231f20" stroke-width="0.7"/>
<line x1="386.32" y1="526.80" x2="386.32" y2="528.70" stroke="#231f20" stroke-width="0.7"/>
<line x1="388.07" y1="526.80" x2="388.07" y2="528.70" stroke="#231f20" stroke-width="0.7"/>
<line x1="389.43" y1="526.80" x2="389.43" y2="528.70" stroke="#231f20" stroke-width="0.7"/>
<line x1="390.54" y1="526.80" x2="390.54" y2="528.70" stroke="#231f20" stroke-width="0.7"/>
<line x1="391.48" y1="526.80" x2="391.48" y2="528.70" stroke="#231f20" stroke-width="0.7"/>
<line x1="392.29" y1="526.80" x2="392.29" y2="528.70" stroke="#231f20" stroke-width="0.7"/>
<line x1="393.01" y1="526.80" x2="393.01" y2="528.70" stroke="#231f20" stroke-width="0.7"/>
<line x1="393.65" y1="526.80" x2="393.65" y2="529.80" stroke="#231f20" stroke-width="0.7"/>
<line x1="397.87" y1="526.80" x2="397.87" y2="528.70" stroke="#231f20" stroke-width="0.7"/>
<line x1="400.34" y1="526.80" x2="400.34" y2="528.70" stroke="#231f20" stroke-width="0.7"/>
<line x1="402.09" y1="526.80" x2="402.09" y2="528.70" stroke="#231f20" stroke-width="0.7"/>
<line x1="403.45" y1="526.80" x2="403.45" y2="528.70" stroke="#231f20" stroke-width="0.7"/>
<line x1="404.56" y1="526.80" x2="404.56" y2="528.70" stroke="#231f20" stroke-width="0.7"/>
<line x1="405.50" y1="526.80" x2="405.50" y2="528.70" stroke="#231f20" stroke-width="0.7"/>
<line x1="406.32" y1="526.80" x2="406.32" y2="528.70" stroke="#231f20" stroke-width="0.7"/>
<line x1="407.03" y1="526.80" x2="407.03" y2="528.70" stroke="#231f20" stroke-width="0.7"/>
<line x1="407.68" y1="526.80" x2="407.68" y2="529.80" stroke="#231f20" stroke-width="0.7"/>
<line x1="411.90" y1="526.80" x2="411.90" y2="528.70" stroke="#231f20" stroke-width="0.7"/>
<line x1="414.37" y1="526.80" x2="414.37" y2="528.70" stroke="#231f20" stroke-width="0.7"/>
<line x1="416.12" y1="526.80" x2="416.12" y2="528.70" stroke="#231f20" stroke-width="0.7"/>
<line x1="417.48" y1="526.80" x2="417.48" y2="528.70" stroke="#231f20" stroke-width="0.7"/>
<line x1="418.59" y1="526.80" x2="418.59" y2="528.70" stroke="#231f20" stroke-width="0.7"/>
<line x1="419.53" y1="526.80" x2="419.53" y2="528.70" stroke="#231f20" stroke-width="0.7"/>
<line x1="420.34" y1="526.80" x2="420.34" y2="528.70" stroke="#231f20" stroke-width="0.7"/>
<line x1="421.06" y1="526.80" x2="421.06" y2="528.70" stroke="#231f20" stroke-width="0.7"/>
<line x1="421.70" y1="526.80" x2="421.70" y2="529.80" stroke="#231f20" stroke-width="0.7"/>
<text x="366.00" y="538.90" font-size="8.4" textLength="33.6" lengthAdjust="spacingAndGlyphs" fill="#231f20" stroke="#231f20" stroke-width="0.22">DNMT3A</text>
<line x1="402.40" y1="536.30" x2="419.10" y2="536.30" stroke="#231f20" stroke-width="1.1"/>
<path d="M423.20,536.30 L418.60,534.20 L418.60,538.40 Z" fill="#231f20" stroke="none" stroke-width="1"/>
<path d="M366.1,562.2 L366.9,562.2 L367.7,562.2 L368.5,562.2 L369.2,562.2 L370.0,562.2 L370.8,562.2 L371.6,562.2 L372.4,562.2 L373.2,562.2 L374.0,562.2 L374.8,562.2 L375.5,562.2 L376.3,562.2 L377.1,562.2 L377.9,562.2 L378.7,562.2 L379.5,562.2 L380.3,562.2 L381.1,562.2 L381.8,562.2 L382.6,562.2 L383.4,562.2 L384.2,562.2 L385.0,562.2 L385.8,562.1 L386.6,562.0 L387.4,561.8 L388.1,561.3 L388.9,560.6 L389.7,559.5 L390.5,557.9 L391.3,555.9 L392.1,553.6 L392.9,551.4 L393.6,549.4 L394.4,548.3 L395.2,548.0 L396.0,548.6 L396.8,549.9 L397.6,551.6 L398.4,553.6 L399.2,555.6 L399.9,557.4 L400.7,558.9 L401.5,560.0 L402.3,560.9 L403.1,561.4 L403.9,561.8 L404.7,562.0 L405.5,562.1 L406.2,562.1 L407.0,562.2 L407.8,562.2 L408.6,562.2 L409.4,562.2 L410.2,562.2 L411.0,562.2 L411.8,562.2 L412.5,562.2 L413.3,562.2 L414.1,562.2 L414.9,562.2 L415.7,562.2 L416.5,562.2 L417.3,562.2 L418.1,562.2 L418.8,562.2 L419.6,562.2 L420.4,562.2 L421.2,562.2 L421.20,562.20 L366.10,562.20 Z" fill="#df8393" stroke="none" stroke-width="1" fill-opacity="0.8" style="mix-blend-mode:multiply"/>
<path d="M366.1,562.2 L366.9,562.2 L367.7,562.2 L368.5,562.2 L369.2,562.2 L370.0,562.2 L370.8,562.2 L371.6,562.2 L372.4,562.2 L373.2,562.2 L374.0,562.2 L374.8,562.2 L375.5,562.2 L376.3,562.2 L377.1,562.2 L377.9,562.2 L378.7,562.2 L379.5,562.2 L380.3,562.2 L381.1,562.2 L381.8,562.2 L382.6,562.2 L383.4,562.2 L384.2,562.2 L385.0,562.2 L385.8,562.1 L386.6,562.0 L387.4,561.8 L388.1,561.3 L388.9,560.6 L389.7,559.5 L390.5,557.9 L391.3,555.9 L392.1,553.6 L392.9,551.4 L393.6,549.4 L394.4,548.3 L395.2,548.0 L396.0,548.6 L396.8,549.9 L397.6,551.6 L398.4,553.6 L399.2,555.6 L399.9,557.4 L400.7,558.9 L401.5,560.0 L402.3,560.9 L403.1,561.4 L403.9,561.8 L404.7,562.0 L405.5,562.1 L406.2,562.1 L407.0,562.2 L407.8,562.2 L408.6,562.2 L409.4,562.2 L410.2,562.2 L411.0,562.2 L411.8,562.2 L412.5,562.2 L413.3,562.2 L414.1,562.2 L414.9,562.2 L415.7,562.2 L416.5,562.2 L417.3,562.2 L418.1,562.2 L418.8,562.2 L419.6,562.2 L420.4,562.2 L421.2,562.2" fill="none" stroke="#d2435f" stroke-width="1.15"/>
<path d="M366.1,570.3 L366.9,570.3 L367.7,570.3 L368.5,570.3 L369.2,570.3 L370.0,570.3 L370.8,570.3 L371.6,570.3 L372.4,570.3 L373.2,570.3 L374.0,570.3 L374.8,570.3 L375.5,570.3 L376.3,570.3 L377.1,570.3 L377.9,570.3 L378.7,570.3 L379.5,570.3 L380.3,570.3 L381.1,570.3 L381.8,570.3 L382.6,570.3 L383.4,570.2 L384.2,570.2 L385.0,570.0 L385.8,569.8 L386.6,569.3 L387.4,568.5 L388.1,567.2 L388.9,565.6 L389.7,563.4 L390.5,561.1 L391.3,558.8 L392.1,556.9 L392.9,555.8 L393.6,555.8 L394.4,556.5 L395.2,557.9 L396.0,559.7 L396.8,561.8 L397.6,563.8 L398.4,565.6 L399.2,567.1 L399.9,568.2 L400.7,569.0 L401.5,569.5 L402.3,569.9 L403.1,570.1 L403.9,570.2 L404.7,570.2 L405.5,570.3 L406.2,570.3 L407.0,570.3 L407.8,570.3 L408.6,570.3 L409.4,570.3 L410.2,570.3 L411.0,570.3 L411.8,570.3 L412.5,570.3 L413.3,570.3 L414.1,570.3 L414.9,570.3 L415.7,570.3 L416.5,570.3 L417.3,570.3 L418.1,570.3 L418.8,570.3 L419.6,570.3 L420.4,570.3 L421.2,570.3 L421.20,570.28 L366.10,570.28 Z" fill="#f6b868" stroke="none" stroke-width="1" fill-opacity="0.8" style="mix-blend-mode:multiply"/>
<path d="M366.1,570.3 L366.9,570.3 L367.7,570.3 L368.5,570.3 L369.2,570.3 L370.0,570.3 L370.8,570.3 L371.6,570.3 L372.4,570.3 L373.2,570.3 L374.0,570.3 L374.8,570.3 L375.5,570.3 L376.3,570.3 L377.1,570.3 L377.9,570.3 L378.7,570.3 L379.5,570.3 L380.3,570.3 L381.1,570.3 L381.8,570.3 L382.6,570.3 L383.4,570.2 L384.2,570.2 L385.0,570.0 L385.8,569.8 L386.6,569.3 L387.4,568.5 L388.1,567.2 L388.9,565.6 L389.7,563.4 L390.5,561.1 L391.3,558.8 L392.1,556.9 L392.9,555.8 L393.6,555.8 L394.4,556.5 L395.2,557.9 L396.0,559.7 L396.8,561.8 L397.6,563.8 L398.4,565.6 L399.2,567.1 L399.9,568.2 L400.7,569.0 L401.5,569.5 L402.3,569.9 L403.1,570.1 L403.9,570.2 L404.7,570.2 L405.5,570.3 L406.2,570.3 L407.0,570.3 L407.8,570.3 L408.6,570.3 L409.4,570.3 L410.2,570.3 L411.0,570.3 L411.8,570.3 L412.5,570.3 L413.3,570.3 L414.1,570.3 L414.9,570.3 L415.7,570.3 L416.5,570.3 L417.3,570.3 L418.1,570.3 L418.8,570.3 L419.6,570.3 L420.4,570.3 L421.2,570.3" fill="none" stroke="#f3a23a" stroke-width="1.15"/>
<path d="M366.1,578.4 L366.9,578.4 L367.7,578.4 L368.5,578.4 L369.2,578.4 L370.0,578.4 L370.8,578.4 L371.6,578.4 L372.4,578.4 L373.2,578.4 L374.0,578.4 L374.8,578.4 L375.5,578.4 L376.3,578.4 L377.1,578.4 L377.9,578.4 L378.7,578.4 L379.5,578.4 L380.3,578.4 L381.1,578.4 L381.8,578.4 L382.6,578.4 L383.4,578.4 L384.2,578.3 L385.0,578.3 L385.8,578.3 L386.6,578.1 L387.4,577.9 L388.1,577.5 L388.9,576.8 L389.7,575.6 L390.5,574.1 L391.3,572.1 L392.1,569.8 L392.9,567.5 L393.6,565.6 L394.4,564.4 L395.2,564.2 L396.0,564.8 L396.8,566.1 L397.6,567.8 L398.4,569.8 L399.2,571.8 L399.9,573.6 L400.7,575.1 L401.5,576.2 L402.3,577.0 L403.1,577.6 L403.9,577.9 L404.7,578.1 L405.5,578.2 L406.2,578.3 L407.0,578.3 L407.8,578.4 L408.6,578.4 L409.4,578.4 L410.2,578.4 L411.0,578.4 L411.8,578.4 L412.5,578.4 L413.3,578.4 L414.1,578.4 L414.9,578.4 L415.7,578.4 L416.5,578.4 L417.3,578.4 L418.1,578.4 L418.8,578.4 L419.6,578.4 L420.4,578.4 L421.2,578.4 L421.20,578.36 L366.10,578.36 Z" fill="#7b9dc0" stroke="none" stroke-width="1" fill-opacity="0.8" style="mix-blend-mode:multiply"/>
<path d="M366.1,578.4 L366.9,578.4 L367.7,578.4 L368.5,578.4 L369.2,578.4 L370.0,578.4 L370.8,578.4 L371.6,578.4 L372.4,578.4 L373.2,578.4 L374.0,578.4 L374.8,578.4 L375.5,578.4 L376.3,578.4 L377.1,578.4 L377.9,578.4 L378.7,578.4 L379.5,578.4 L380.3,578.4 L381.1,578.4 L381.8,578.4 L382.6,578.4 L383.4,578.4 L384.2,578.3 L385.0,578.3 L385.8,578.3 L386.6,578.1 L387.4,577.9 L388.1,577.5 L388.9,576.8 L389.7,575.6 L390.5,574.1 L391.3,572.1 L392.1,569.8 L392.9,567.5 L393.6,565.6 L394.4,564.4 L395.2,564.2 L396.0,564.8 L396.8,566.1 L397.6,567.8 L398.4,569.8 L399.2,571.8 L399.9,573.6 L400.7,575.1 L401.5,576.2 L402.3,577.0 L403.1,577.6 L403.9,577.9 L404.7,578.1 L405.5,578.2 L406.2,578.3 L407.0,578.3 L407.8,578.4 L408.6,578.4 L409.4,578.4 L410.2,578.4 L411.0,578.4 L411.8,578.4 L412.5,578.4 L413.3,578.4 L414.1,578.4 L414.9,578.4 L415.7,578.4 L416.5,578.4 L417.3,578.4 L418.1,578.4 L418.8,578.4 L419.6,578.4 L420.4,578.4 L421.2,578.4" fill="none" stroke="#3a6f9f" stroke-width="1.15"/>
<path d="M366.1,586.4 L366.9,586.4 L367.7,586.4 L368.5,586.4 L369.2,586.4 L370.0,586.4 L370.8,586.4 L371.6,586.4 L372.4,586.4 L373.2,586.4 L374.0,586.4 L374.8,586.4 L375.5,586.4 L376.3,586.4 L377.1,586.4 L377.9,586.4 L378.7,586.4 L379.5,586.4 L380.3,586.4 L381.1,586.4 L381.8,586.4 L382.6,586.4 L383.4,586.4 L384.2,586.3 L385.0,586.1 L385.8,585.8 L386.6,585.3 L387.4,584.5 L388.1,583.3 L388.9,581.7 L389.7,579.7 L390.5,577.6 L391.3,575.5 L392.1,573.6 L392.9,572.4 L393.6,572.0 L394.4,572.4 L395.2,573.4 L396.0,575.0 L396.8,576.8 L397.6,578.7 L398.4,580.5 L399.2,582.1 L399.9,583.4 L400.7,584.5 L401.5,585.2 L402.3,585.7 L403.1,586.0 L403.9,586.2 L404.7,586.3 L405.5,586.4 L406.2,586.4 L407.0,586.4 L407.8,586.4 L408.6,586.4 L409.4,586.4 L410.2,586.4 L411.0,586.4 L411.8,586.4 L412.5,586.4 L413.3,586.4 L414.1,586.4 L414.9,586.4 L415.7,586.4 L416.5,586.4 L417.3,586.4 L418.1,586.4 L418.8,586.4 L419.6,586.4 L420.4,586.4 L421.2,586.4 L421.20,586.44 L366.10,586.44 Z" fill="#9f7db5" stroke="none" stroke-width="1" fill-opacity="0.8" style="mix-blend-mode:multiply"/>
<path d="M366.1,586.4 L366.9,586.4 L367.7,586.4 L368.5,586.4 L369.2,586.4 L370.0,586.4 L370.8,586.4 L371.6,586.4 L372.4,586.4 L373.2,586.4 L374.0,586.4 L374.8,586.4 L375.5,586.4 L376.3,586.4 L377.1,586.4 L377.9,586.4 L378.7,586.4 L379.5,586.4 L380.3,586.4 L381.1,586.4 L381.8,586.4 L382.6,586.4 L383.4,586.4 L384.2,586.3 L385.0,586.1 L385.8,585.8 L386.6,585.3 L387.4,584.5 L388.1,583.3 L388.9,581.7 L389.7,579.7 L390.5,577.6 L391.3,575.5 L392.1,573.6 L392.9,572.4 L393.6,572.0 L394.4,572.4 L395.2,573.4 L396.0,575.0 L396.8,576.8 L397.6,578.7 L398.4,580.5 L399.2,582.1 L399.9,583.4 L400.7,584.5 L401.5,585.2 L402.3,585.7 L403.1,586.0 L403.9,586.2 L404.7,586.3 L405.5,586.4 L406.2,586.4 L407.0,586.4 L407.8,586.4 L408.6,586.4 L409.4,586.4 L410.2,586.4 L411.0,586.4 L411.8,586.4 L412.5,586.4 L413.3,586.4 L414.1,586.4 L414.9,586.4 L415.7,586.4 L416.5,586.4 L417.3,586.4 L418.1,586.4 L418.8,586.4 L419.6,586.4 L420.4,586.4 L421.2,586.4" fill="none" stroke="#7b4c93" stroke-width="1.15"/>
<path d="M366.1,594.5 L366.9,594.5 L367.7,594.5 L368.5,594.5 L369.2,594.5 L370.0,594.5 L370.8,594.5 L371.6,594.5 L372.4,594.5 L373.2,594.5 L374.0,594.5 L374.8,594.5 L375.5,594.5 L376.3,594.5 L377.1,594.5 L377.9,594.5 L378.7,594.5 L379.5,594.4 L380.3,594.3 L381.1,594.1 L381.8,593.7 L382.6,593.2 L383.4,592.2 L384.2,591.0 L385.0,589.3 L385.8,587.3 L386.6,585.2 L387.4,583.2 L388.1,581.6 L388.9,580.7 L389.7,580.6 L390.5,581.3 L391.3,582.6 L392.1,584.3 L392.9,586.3 L393.6,588.2 L394.4,590.0 L395.2,591.4 L396.0,592.5 L396.8,593.3 L397.6,593.8 L398.4,594.1 L399.2,594.3 L399.9,594.4 L400.7,594.5 L401.5,594.5 L402.3,594.5 L403.1,594.5 L403.9,594.5 L404.7,594.5 L405.5,594.5 L406.2,594.5 L407.0,594.5 L407.8,594.5 L408.6,594.5 L409.4,594.5 L410.2,594.5 L411.0,594.5 L411.8,594.5 L412.5,594.5 L413.3,594.5 L414.1,594.5 L414.9,594.5 L415.7,594.5 L416.5,594.5 L417.3,594.5 L418.1,594.5 L418.8,594.5 L419.6,594.5 L420.4,594.5 L421.2,594.5 L421.20,594.52 L366.10,594.52 Z" fill="#9cd79b" stroke="none" stroke-width="1" fill-opacity="0.8" style="mix-blend-mode:multiply"/>
<path d="M366.1,594.5 L366.9,594.5 L367.7,594.5 L368.5,594.5 L369.2,594.5 L370.0,594.5 L370.8,594.5 L371.6,594.5 L372.4,594.5 L373.2,594.5 L374.0,594.5 L374.8,594.5 L375.5,594.5 L376.3,594.5 L377.1,594.5 L377.9,594.5 L378.7,594.5 L379.5,594.4 L380.3,594.3 L381.1,594.1 L381.8,593.7 L382.6,593.2 L383.4,592.2 L384.2,591.0 L385.0,589.3 L385.8,587.3 L386.6,585.2 L387.4,583.2 L388.1,581.6 L388.9,580.7 L389.7,580.6 L390.5,581.3 L391.3,582.6 L392.1,584.3 L392.9,586.3 L393.6,588.2 L394.4,590.0 L395.2,591.4 L396.0,592.5 L396.8,593.3 L397.6,593.8 L398.4,594.1 L399.2,594.3 L399.9,594.4 L400.7,594.5 L401.5,594.5 L402.3,594.5 L403.1,594.5 L403.9,594.5 L404.7,594.5 L405.5,594.5 L406.2,594.5 L407.0,594.5 L407.8,594.5 L408.6,594.5 L409.4,594.5 L410.2,594.5 L411.0,594.5 L411.8,594.5 L412.5,594.5 L413.3,594.5 L414.1,594.5 L414.9,594.5 L415.7,594.5 L416.5,594.5 L417.3,594.5 L418.1,594.5 L418.8,594.5 L419.6,594.5 L420.4,594.5 L421.2,594.5" fill="none" stroke="#5cc25f" stroke-width="1.15"/>
<path d="M366.1,602.6 L366.9,602.6 L367.7,602.6 L368.5,602.6 L369.2,602.6 L370.0,602.6 L370.8,602.6 L371.6,602.6 L372.4,602.6 L373.2,602.6 L374.0,602.6 L374.8,602.6 L375.5,602.6 L376.3,602.6 L377.1,602.6 L377.9,602.6 L378.7,602.6 L379.5,602.5 L380.3,602.5 L381.1,602.4 L381.8,602.2 L382.6,601.8 L383.4,601.2 L384.2,600.4 L385.0,599.2 L385.8,597.7 L386.6,595.9 L387.4,594.0 L388.1,592.0 L388.9,590.2 L389.7,589.0 L390.5,588.4 L391.3,588.6 L392.1,589.4 L392.9,590.8 L393.6,592.5 L394.4,594.4 L395.2,596.2 L396.0,597.9 L396.8,599.3 L397.6,600.4 L398.4,601.2 L399.2,601.7 L399.9,602.1 L400.7,602.3 L401.5,602.5 L402.3,602.5 L403.1,602.6 L403.9,602.6 L404.7,602.6 L405.5,602.6 L406.2,602.6 L407.0,602.6 L407.8,602.6 L408.6,602.6 L409.4,602.6 L410.2,602.6 L411.0,602.6 L411.8,602.6 L412.5,602.6 L413.3,602.6 L414.1,602.6 L414.9,602.6 L415.7,602.6 L416.5,602.6 L417.3,602.6 L418.1,602.6 L418.8,602.6 L419.6,602.6 L420.4,602.6 L421.2,602.6 L421.20,602.60 L366.10,602.60 Z" fill="#58a083" stroke="none" stroke-width="1" fill-opacity="0.8" style="mix-blend-mode:multiply"/>
<path d="M366.1,602.6 L366.9,602.6 L367.7,602.6 L368.5,602.6 L369.2,602.6 L370.0,602.6 L370.8,602.6 L371.6,602.6 L372.4,602.6 L373.2,602.6 L374.0,602.6 L374.8,602.6 L375.5,602.6 L376.3,602.6 L377.1,602.6 L377.9,602.6 L378.7,602.6 L379.5,602.5 L380.3,602.5 L381.1,602.4 L381.8,602.2 L382.6,601.8 L383.4,601.2 L384.2,600.4 L385.0,599.2 L385.8,597.7 L386.6,595.9 L387.4,594.0 L388.1,592.0 L388.9,590.2 L389.7,589.0 L390.5,588.4 L391.3,588.6 L392.1,589.4 L392.9,590.8 L393.6,592.5 L394.4,594.4 L395.2,596.2 L396.0,597.9 L396.8,599.3 L397.6,600.4 L398.4,601.2 L399.2,601.7 L399.9,602.1 L400.7,602.3 L401.5,602.5 L402.3,602.5 L403.1,602.6 L403.9,602.6 L404.7,602.6 L405.5,602.6 L406.2,602.6 L407.0,602.6 L407.8,602.6 L408.6,602.6 L409.4,602.6 L410.2,602.6 L411.0,602.6 L411.8,602.6 L412.5,602.6 L413.3,602.6 L414.1,602.6 L414.9,602.6 L415.7,602.6 L416.5,602.6 L417.3,602.6 L418.1,602.6 L418.8,602.6 L419.6,602.6 L420.4,602.6 L421.2,602.6" fill="none" stroke="#23785a" stroke-width="1.15"/>
<rect x="365.60" y="545.70" width="56.10" height="56.90" fill="none" stroke="#231f20" stroke-width="1.2"/>
<line x1="363.20" y1="545.70" x2="365.60" y2="545.70" stroke="#231f20" stroke-width="0.6"/>
<line x1="363.20" y1="547.73" x2="365.60" y2="547.73" stroke="#231f20" stroke-width="0.6"/>
<line x1="363.20" y1="549.76" x2="365.60" y2="549.76" stroke="#231f20" stroke-width="0.6"/>
<line x1="363.20" y1="551.80" x2="365.60" y2="551.80" stroke="#231f20" stroke-width="0.6"/>
<line x1="363.20" y1="553.83" x2="365.60" y2="553.83" stroke="#231f20" stroke-width="0.6"/>
<line x1="363.20" y1="555.86" x2="365.60" y2="555.86" stroke="#231f20" stroke-width="0.6"/>
<line x1="363.20" y1="557.89" x2="365.60" y2="557.89" stroke="#231f20" stroke-width="0.6"/>
<line x1="363.20" y1="559.93" x2="365.60" y2="559.93" stroke="#231f20" stroke-width="0.6"/>
<line x1="363.20" y1="561.96" x2="365.60" y2="561.96" stroke="#231f20" stroke-width="0.6"/>
<line x1="363.20" y1="563.99" x2="365.60" y2="563.99" stroke="#231f20" stroke-width="0.6"/>
<line x1="363.20" y1="566.02" x2="365.60" y2="566.02" stroke="#231f20" stroke-width="0.6"/>
<line x1="363.20" y1="568.05" x2="365.60" y2="568.05" stroke="#231f20" stroke-width="0.6"/>
<line x1="363.20" y1="570.09" x2="365.60" y2="570.09" stroke="#231f20" stroke-width="0.6"/>
<line x1="363.20" y1="572.12" x2="365.60" y2="572.12" stroke="#231f20" stroke-width="0.6"/>
<line x1="363.20" y1="574.15" x2="365.60" y2="574.15" stroke="#231f20" stroke-width="0.6"/>
<line x1="363.20" y1="576.18" x2="365.60" y2="576.18" stroke="#231f20" stroke-width="0.6"/>
<line x1="363.20" y1="578.21" x2="365.60" y2="578.21" stroke="#231f20" stroke-width="0.6"/>
<line x1="363.20" y1="580.25" x2="365.60" y2="580.25" stroke="#231f20" stroke-width="0.6"/>
<line x1="363.20" y1="582.28" x2="365.60" y2="582.28" stroke="#231f20" stroke-width="0.6"/>
<line x1="363.20" y1="584.31" x2="365.60" y2="584.31" stroke="#231f20" stroke-width="0.6"/>
<line x1="363.20" y1="586.34" x2="365.60" y2="586.34" stroke="#231f20" stroke-width="0.6"/>
<line x1="363.20" y1="588.38" x2="365.60" y2="588.38" stroke="#231f20" stroke-width="0.6"/>
<line x1="363.20" y1="590.41" x2="365.60" y2="590.41" stroke="#231f20" stroke-width="0.6"/>
<line x1="363.20" y1="592.44" x2="365.60" y2="592.44" stroke="#231f20" stroke-width="0.6"/>
<line x1="363.20" y1="594.47" x2="365.60" y2="594.47" stroke="#231f20" stroke-width="0.6"/>
<line x1="363.20" y1="596.50" x2="365.60" y2="596.50" stroke="#231f20" stroke-width="0.6"/>
<line x1="363.20" y1="598.54" x2="365.60" y2="598.54" stroke="#231f20" stroke-width="0.6"/>
<line x1="363.20" y1="600.57" x2="365.60" y2="600.57" stroke="#231f20" stroke-width="0.6"/>
<line x1="363.20" y1="602.60" x2="365.60" y2="602.60" stroke="#231f20" stroke-width="0.6"/>
<line x1="365.60" y1="602.60" x2="365.60" y2="605.60" stroke="#231f20" stroke-width="0.7"/>
<line x1="369.82" y1="602.60" x2="369.82" y2="604.50" stroke="#231f20" stroke-width="0.7"/>
<line x1="372.29" y1="602.60" x2="372.29" y2="604.50" stroke="#231f20" stroke-width="0.7"/>
<line x1="374.04" y1="602.60" x2="374.04" y2="604.50" stroke="#231f20" stroke-width="0.7"/>
<line x1="375.40" y1="602.60" x2="375.40" y2="604.50" stroke="#231f20" stroke-width="0.7"/>
<line x1="376.51" y1="602.60" x2="376.51" y2="604.50" stroke="#231f20" stroke-width="0.7"/>
<line x1="377.45" y1="602.60" x2="377.45" y2="604.50" stroke="#231f20" stroke-width="0.7"/>
<line x1="378.27" y1="602.60" x2="378.27" y2="604.50" stroke="#231f20" stroke-width="0.7"/>
<line x1="378.98" y1="602.60" x2="378.98" y2="604.50" stroke="#231f20" stroke-width="0.7"/>
<line x1="379.62" y1="602.60" x2="379.62" y2="605.60" stroke="#231f20" stroke-width="0.7"/>
<line x1="383.85" y1="602.60" x2="383.85" y2="604.50" stroke="#231f20" stroke-width="0.7"/>
<line x1="386.32" y1="602.60" x2="386.32" y2="604.50" stroke="#231f20" stroke-width="0.7"/>
<line x1="388.07" y1="602.60" x2="388.07" y2="604.50" stroke="#231f20" stroke-width="0.7"/>
<line x1="389.43" y1="602.60" x2="389.43" y2="604.50" stroke="#231f20" stroke-width="0.7"/>
<line x1="390.54" y1="602.60" x2="390.54" y2="604.50" stroke="#231f20" stroke-width="0.7"/>
<line x1="391.48" y1="602.60" x2="391.48" y2="604.50" stroke="#231f20" stroke-width="0.7"/>
<line x1="392.29" y1="602.60" x2="392.29" y2="604.50" stroke="#231f20" stroke-width="0.7"/>
<line x1="393.01" y1="602.60" x2="393.01" y2="604.50" stroke="#231f20" stroke-width="0.7"/>
<line x1="393.65" y1="602.60" x2="393.65" y2="605.60" stroke="#231f20" stroke-width="0.7"/>
<line x1="397.87" y1="602.60" x2="397.87" y2="604.50" stroke="#231f20" stroke-width="0.7"/>
<line x1="400.34" y1="602.60" x2="400.34" y2="604.50" stroke="#231f20" stroke-width="0.7"/>
<line x1="402.09" y1="602.60" x2="402.09" y2="604.50" stroke="#231f20" stroke-width="0.7"/>
<line x1="403.45" y1="602.60" x2="403.45" y2="604.50" stroke="#231f20" stroke-width="0.7"/>
<line x1="404.56" y1="602.60" x2="404.56" y2="604.50" stroke="#231f20" stroke-width="0.7"/>
<line x1="405.50" y1="602.60" x2="405.50" y2="604.50" stroke="#231f20" stroke-width="0.7"/>
<line x1="406.32" y1="602.60" x2="406.32" y2="604.50" stroke="#231f20" stroke-width="0.7"/>
<line x1="407.03" y1="602.60" x2="407.03" y2="604.50" stroke="#231f20" stroke-width="0.7"/>
<line x1="407.68" y1="602.60" x2="407.68" y2="605.60" stroke="#231f20" stroke-width="0.7"/>
<line x1="411.90" y1="602.60" x2="411.90" y2="604.50" stroke="#231f20" stroke-width="0.7"/>
<line x1="414.37" y1="602.60" x2="414.37" y2="604.50" stroke="#231f20" stroke-width="0.7"/>
<line x1="416.12" y1="602.60" x2="416.12" y2="604.50" stroke="#231f20" stroke-width="0.7"/>
<line x1="417.48" y1="602.60" x2="417.48" y2="604.50" stroke="#231f20" stroke-width="0.7"/>
<line x1="418.59" y1="602.60" x2="418.59" y2="604.50" stroke="#231f20" stroke-width="0.7"/>
<line x1="419.53" y1="602.60" x2="419.53" y2="604.50" stroke="#231f20" stroke-width="0.7"/>
<line x1="420.34" y1="602.60" x2="420.34" y2="604.50" stroke="#231f20" stroke-width="0.7"/>
<line x1="421.06" y1="602.60" x2="421.06" y2="604.50" stroke="#231f20" stroke-width="0.7"/>
<line x1="421.70" y1="602.60" x2="421.70" y2="605.60" stroke="#231f20" stroke-width="0.7"/>
<text x="365.80" y="614.90" font-size="8.4" textLength="29.6" lengthAdjust="spacingAndGlyphs" fill="#231f20" stroke="#231f20" stroke-width="0.22">pSLP-76</text>
<line x1="396.80" y1="612.30" x2="419.10" y2="612.30" stroke="#231f20" stroke-width="1.1"/>
<path d="M423.20,612.30 L418.60,610.20 L418.60,614.40 Z" fill="#231f20" stroke="none" stroke-width="1"/>
<path d="M366.1,637.3 L366.9,637.3 L367.7,637.3 L368.5,637.3 L369.3,637.3 L370.1,637.3 L370.8,637.3 L371.6,637.3 L372.4,637.3 L373.2,637.3 L374.0,637.3 L374.8,637.3 L375.6,637.3 L376.4,637.3 L377.2,637.3 L377.9,637.3 L378.7,637.3 L379.5,637.3 L380.3,637.3 L381.1,637.3 L381.9,637.3 L382.7,637.3 L383.5,637.3 L384.3,637.3 L385.1,637.3 L385.9,637.3 L386.6,637.3 L387.4,637.3 L388.2,637.3 L389.0,637.3 L389.8,637.2 L390.6,637.0 L391.4,636.4 L392.2,635.4 L393.0,633.6 L393.8,631.1 L394.5,628.0 L395.3,625.1 L396.1,623.2 L396.9,623.0 L397.7,624.0 L398.5,625.8 L399.3,628.2 L400.1,630.6 L400.9,632.8 L401.6,634.5 L402.4,635.7 L403.2,636.4 L404.0,636.9 L404.8,637.1 L405.6,637.2 L406.4,637.3 L407.2,637.3 L408.0,637.3 L408.8,637.3 L409.5,637.3 L410.3,637.3 L411.1,637.3 L411.9,637.3 L412.7,637.3 L413.5,637.3 L414.3,637.3 L415.1,637.3 L415.9,637.3 L416.7,637.3 L417.4,637.3 L418.2,637.3 L419.0,637.3 L419.8,637.3 L420.6,637.3 L421.4,637.3 L421.40,637.30 L366.10,637.30 Z" fill="#df8393" stroke="none" stroke-width="1" fill-opacity="0.8" style="mix-blend-mode:multiply"/>
<path d="M366.1,637.3 L366.9,637.3 L367.7,637.3 L368.5,637.3 L369.3,637.3 L370.1,637.3 L370.8,637.3 L371.6,637.3 L372.4,637.3 L373.2,637.3 L374.0,637.3 L374.8,637.3 L375.6,637.3 L376.4,637.3 L377.2,637.3 L377.9,637.3 L378.7,637.3 L379.5,637.3 L380.3,637.3 L381.1,637.3 L381.9,637.3 L382.7,637.3 L383.5,637.3 L384.3,637.3 L385.1,637.3 L385.9,637.3 L386.6,637.3 L387.4,637.3 L388.2,637.3 L389.0,637.3 L389.8,637.2 L390.6,637.0 L391.4,636.4 L392.2,635.4 L393.0,633.6 L393.8,631.1 L394.5,628.0 L395.3,625.1 L396.1,623.2 L396.9,623.0 L397.7,624.0 L398.5,625.8 L399.3,628.2 L400.1,630.6 L400.9,632.8 L401.6,634.5 L402.4,635.7 L403.2,636.4 L404.0,636.9 L404.8,637.1 L405.6,637.2 L406.4,637.3 L407.2,637.3 L408.0,637.3 L408.8,637.3 L409.5,637.3 L410.3,637.3 L411.1,637.3 L411.9,637.3 L412.7,637.3 L413.5,637.3 L414.3,637.3 L415.1,637.3 L415.9,637.3 L416.7,637.3 L417.4,637.3 L418.2,637.3 L419.0,637.3 L419.8,637.3 L420.6,637.3 L421.4,637.3" fill="none" stroke="#d2435f" stroke-width="1.15"/>
<path d="M366.1,645.4 L366.9,645.4 L367.7,645.4 L368.5,645.4 L369.3,645.4 L370.1,645.4 L370.8,645.4 L371.6,645.4 L372.4,645.4 L373.2,645.4 L374.0,645.4 L374.8,645.4 L375.6,645.4 L376.4,645.4 L377.2,645.4 L377.9,645.4 L378.7,645.4 L379.5,645.4 L380.3,645.4 L381.1,645.4 L381.9,645.4 L382.7,645.4 L383.5,645.4 L384.3,645.4 L385.1,645.4 L385.9,645.4 L386.6,645.3 L387.4,645.2 L388.2,644.9 L389.0,644.3 L389.8,643.3 L390.6,641.6 L391.4,639.2 L392.2,636.4 L393.0,633.7 L393.8,631.7 L394.5,631.0 L395.3,631.6 L396.1,633.2 L396.9,635.5 L397.7,637.9 L398.5,640.2 L399.3,642.0 L400.1,643.4 L400.9,644.3 L401.6,644.8 L402.4,645.1 L403.2,645.3 L404.0,645.4 L404.8,645.4 L405.6,645.4 L406.4,645.4 L407.2,645.4 L408.0,645.4 L408.8,645.4 L409.5,645.4 L410.3,645.4 L411.1,645.4 L411.9,645.4 L412.7,645.4 L413.5,645.4 L414.3,645.4 L415.1,645.4 L415.9,645.4 L416.7,645.4 L417.4,645.4 L418.2,645.4 L419.0,645.4 L419.8,645.4 L420.6,645.4 L421.4,645.4 L421.40,645.40 L366.10,645.40 Z" fill="#f6b868" stroke="none" stroke-width="1" fill-opacity="0.8" style="mix-blend-mode:multiply"/>
<path d="M366.1,645.4 L366.9,645.4 L367.7,645.4 L368.5,645.4 L369.3,645.4 L370.1,645.4 L370.8,645.4 L371.6,645.4 L372.4,645.4 L373.2,645.4 L374.0,645.4 L374.8,645.4 L375.6,645.4 L376.4,645.4 L377.2,645.4 L377.9,645.4 L378.7,645.4 L379.5,645.4 L380.3,645.4 L381.1,645.4 L381.9,645.4 L382.7,645.4 L383.5,645.4 L384.3,645.4 L385.1,645.4 L385.9,645.4 L386.6,645.3 L387.4,645.2 L388.2,644.9 L389.0,644.3 L389.8,643.3 L390.6,641.6 L391.4,639.2 L392.2,636.4 L393.0,633.7 L393.8,631.7 L394.5,631.0 L395.3,631.6 L396.1,633.2 L396.9,635.5 L397.7,637.9 L398.5,640.2 L399.3,642.0 L400.1,643.4 L400.9,644.3 L401.6,644.8 L402.4,645.1 L403.2,645.3 L404.0,645.4 L404.8,645.4 L405.6,645.4 L406.4,645.4 L407.2,645.4 L408.0,645.4 L408.8,645.4 L409.5,645.4 L410.3,645.4 L411.1,645.4 L411.9,645.4 L412.7,645.4 L413.5,645.4 L414.3,645.4 L415.1,645.4 L415.9,645.4 L416.7,645.4 L417.4,645.4 L418.2,645.4 L419.0,645.4 L419.8,645.4 L420.6,645.4 L421.4,645.4" fill="none" stroke="#f3a23a" stroke-width="1.15"/>
<path d="M366.1,653.5 L366.9,653.5 L367.7,653.5 L368.5,653.5 L369.3,653.5 L370.1,653.5 L370.8,653.5 L371.6,653.5 L372.4,653.5 L373.2,653.5 L374.0,653.5 L374.8,653.5 L375.6,653.5 L376.4,653.5 L377.2,653.5 L377.9,653.5 L378.7,653.5 L379.5,653.5 L380.3,653.5 L381.1,653.5 L381.9,653.5 L382.7,653.5 L383.5,653.5 L384.3,653.5 L385.1,653.5 L385.9,653.5 L386.6,653.5 L387.4,653.5 L388.2,653.5 L389.0,653.5 L389.8,653.5 L390.6,653.5 L391.4,653.4 L392.2,653.3 L393.0,652.9 L393.8,652.1 L394.5,650.7 L395.3,648.5 L396.1,645.7 L396.9,642.7 L397.7,640.4 L398.5,639.5 L399.3,639.9 L400.1,641.1 L400.9,642.8 L401.6,644.9 L402.4,646.9 L403.2,648.8 L404.0,650.3 L404.8,651.5 L405.6,652.3 L406.4,652.8 L407.2,653.1 L408.0,653.3 L408.8,653.4 L409.5,653.5 L410.3,653.5 L411.1,653.5 L411.9,653.5 L412.7,653.5 L413.5,653.5 L414.3,653.5 L415.1,653.5 L415.9,653.5 L416.7,653.5 L417.4,653.5 L418.2,653.5 L419.0,653.5 L419.8,653.5 L420.6,653.5 L421.4,653.5 L421.40,653.50 L366.10,653.50 Z" fill="#7b9dc0" stroke="none" stroke-width="1" fill-opacity="0.8" style="mix-blend-mode:multiply"/>
<path d="M366.1,653.5 L366.9,653.5 L367.7,653.5 L368.5,653.5 L369.3,653.5 L370.1,653.5 L370.8,653.5 L371.6,653.5 L372.4,653.5 L373.2,653.5 L374.0,653.5 L374.8,653.5 L375.6,653.5 L376.4,653.5 L377.2,653.5 L377.9,653.5 L378.7,653.5 L379.5,653.5 L380.3,653.5 L381.1,653.5 L381.9,653.5 L382.7,653.5 L383.5,653.5 L384.3,653.5 L385.1,653.5 L385.9,653.5 L386.6,653.5 L387.4,653.5 L388.2,653.5 L389.0,653.5 L389.8,653.5 L390.6,653.5 L391.4,653.4 L392.2,653.3 L393.0,652.9 L393.8,652.1 L394.5,650.7 L395.3,648.5 L396.1,645.7 L396.9,642.7 L397.7,640.4 L398.5,639.5 L399.3,639.9 L400.1,641.1 L400.9,642.8 L401.6,644.9 L402.4,646.9 L403.2,648.8 L404.0,650.3 L404.8,651.5 L405.6,652.3 L406.4,652.8 L407.2,653.1 L408.0,653.3 L408.8,653.4 L409.5,653.5 L410.3,653.5 L411.1,653.5 L411.9,653.5 L412.7,653.5 L413.5,653.5 L414.3,653.5 L415.1,653.5 L415.9,653.5 L416.7,653.5 L417.4,653.5 L418.2,653.5 L419.0,653.5 L419.8,653.5 L420.6,653.5 L421.4,653.5" fill="none" stroke="#3a6f9f" stroke-width="1.15"/>
<path d="M366.1,661.6 L366.9,661.6 L367.7,661.6 L368.5,661.6 L369.3,661.6 L370.1,661.6 L370.8,661.6 L371.6,661.6 L372.4,661.6 L373.2,661.6 L374.0,661.6 L374.8,661.6 L375.6,661.6 L376.4,661.6 L377.2,661.6 L377.9,661.6 L378.7,661.6 L379.5,661.6 L380.3,661.6 L381.1,661.6 L381.9,661.6 L382.7,661.6 L383.5,661.6 L384.3,661.6 L385.1,661.6 L385.9,661.5 L386.6,661.3 L387.4,660.9 L388.2,660.1 L389.0,658.7 L389.8,656.7 L390.6,654.1 L391.4,651.3 L392.2,648.9 L393.0,647.5 L393.8,647.5 L394.5,648.4 L395.3,650.0 L396.1,652.0 L396.9,654.1 L397.7,656.1 L398.5,657.8 L399.3,659.1 L400.1,660.1 L400.9,660.7 L401.6,661.1 L402.4,661.4 L403.2,661.5 L404.0,661.5 L404.8,661.6 L405.6,661.6 L406.4,661.6 L407.2,661.6 L408.0,661.6 L408.8,661.6 L409.5,661.6 L410.3,661.6 L411.1,661.6 L411.9,661.6 L412.7,661.6 L413.5,661.6 L414.3,661.6 L415.1,661.6 L415.9,661.6 L416.7,661.6 L417.4,661.6 L418.2,661.6 L419.0,661.6 L419.8,661.6 L420.6,661.6 L421.4,661.6 L421.40,661.60 L366.10,661.60 Z" fill="#9f7db5" stroke="none" stroke-width="1" fill-opacity="0.8" style="mix-blend-mode:multiply"/>
<path d="M366.1,661.6 L366.9,661.6 L367.7,661.6 L368.5,661.6 L369.3,661.6 L370.1,661.6 L370.8,661.6 L371.6,661.6 L372.4,661.6 L373.2,661.6 L374.0,661.6 L374.8,661.6 L375.6,661.6 L376.4,661.6 L377.2,661.6 L377.9,661.6 L378.7,661.6 L379.5,661.6 L380.3,661.6 L381.1,661.6 L381.9,661.6 L382.7,661.6 L383.5,661.6 L384.3,661.6 L385.1,661.6 L385.9,661.5 L386.6,661.3 L387.4,660.9 L388.2,660.1 L389.0,658.7 L389.8,656.7 L390.6,654.1 L391.4,651.3 L392.2,648.9 L393.0,647.5 L393.8,647.5 L394.5,648.4 L395.3,650.0 L396.1,652.0 L396.9,654.1 L397.7,656.1 L398.5,657.8 L399.3,659.1 L400.1,660.1 L400.9,660.7 L401.6,661.1 L402.4,661.4 L403.2,661.5 L404.0,661.5 L404.8,661.6 L405.6,661.6 L406.4,661.6 L407.2,661.6 L408.0,661.6 L408.8,661.6 L409.5,661.6 L410.3,661.6 L411.1,661.6 L411.9,661.6 L412.7,661.6 L413.5,661.6 L414.3,661.6 L415.1,661.6 L415.9,661.6 L416.7,661.6 L417.4,661.6 L418.2,661.6 L419.0,661.6 L419.8,661.6 L420.6,661.6 L421.4,661.6" fill="none" stroke="#7b4c93" stroke-width="1.15"/>
<path d="M366.1,669.7 L366.9,669.7 L367.7,669.7 L368.5,669.7 L369.3,669.7 L370.1,669.7 L370.8,669.7 L371.6,669.7 L372.4,669.7 L373.2,669.7 L374.0,669.7 L374.8,669.7 L375.6,669.7 L376.4,669.7 L377.2,669.7 L377.9,669.7 L378.7,669.7 L379.5,669.7 L380.3,669.7 L381.1,669.7 L381.9,669.7 L382.7,669.6 L383.5,669.5 L384.3,669.3 L385.1,668.8 L385.9,667.9 L386.6,666.3 L387.4,664.1 L388.2,661.4 L389.0,658.6 L389.8,656.5 L390.6,655.5 L391.4,655.9 L392.2,657.1 L393.0,659.0 L393.8,661.2 L394.5,663.4 L395.3,665.4 L396.1,666.9 L396.9,668.0 L397.7,668.8 L398.5,669.2 L399.3,669.5 L400.1,669.6 L400.9,669.7 L401.6,669.7 L402.4,669.7 L403.2,669.7 L404.0,669.7 L404.8,669.7 L405.6,669.7 L406.4,669.7 L407.2,669.7 L408.0,669.7 L408.8,669.7 L409.5,669.7 L410.3,669.7 L411.1,669.7 L411.9,669.7 L412.7,669.7 L413.5,669.7 L414.3,669.7 L415.1,669.7 L415.9,669.7 L416.7,669.7 L417.4,669.7 L418.2,669.7 L419.0,669.7 L419.8,669.7 L420.6,669.7 L421.4,669.7 L421.40,669.70 L366.10,669.70 Z" fill="#9cd79b" stroke="none" stroke-width="1" fill-opacity="0.8" style="mix-blend-mode:multiply"/>
<path d="M366.1,669.7 L366.9,669.7 L367.7,669.7 L368.5,669.7 L369.3,669.7 L370.1,669.7 L370.8,669.7 L371.6,669.7 L372.4,669.7 L373.2,669.7 L374.0,669.7 L374.8,669.7 L375.6,669.7 L376.4,669.7 L377.2,669.7 L377.9,669.7 L378.7,669.7 L379.5,669.7 L380.3,669.7 L381.1,669.7 L381.9,669.7 L382.7,669.6 L383.5,669.5 L384.3,669.3 L385.1,668.8 L385.9,667.9 L386.6,666.3 L387.4,664.1 L388.2,661.4 L389.0,658.6 L389.8,656.5 L390.6,655.5 L391.4,655.9 L392.2,657.1 L393.0,659.0 L393.8,661.2 L394.5,663.4 L395.3,665.4 L396.1,666.9 L396.9,668.0 L397.7,668.8 L398.5,669.2 L399.3,669.5 L400.1,669.6 L400.9,669.7 L401.6,669.7 L402.4,669.7 L403.2,669.7 L404.0,669.7 L404.8,669.7 L405.6,669.7 L406.4,669.7 L407.2,669.7 L408.0,669.7 L408.8,669.7 L409.5,669.7 L410.3,669.7 L411.1,669.7 L411.9,669.7 L412.7,669.7 L413.5,669.7 L414.3,669.7 L415.1,669.7 L415.9,669.7 L416.7,669.7 L417.4,669.7 L418.2,669.7 L419.0,669.7 L419.8,669.7 L420.6,669.7 L421.4,669.7" fill="none" stroke="#5cc25f" stroke-width="1.15"/>
<path d="M366.1,677.8 L366.9,677.8 L367.7,677.8 L368.5,677.8 L369.3,677.8 L370.1,677.8 L370.8,677.8 L371.6,677.8 L372.4,677.8 L373.2,677.8 L374.0,677.8 L374.8,677.8 L375.6,677.8 L376.4,677.8 L377.2,677.8 L377.9,677.8 L378.7,677.8 L379.5,677.8 L380.3,677.8 L381.1,677.8 L381.9,677.7 L382.7,677.6 L383.5,677.3 L384.3,676.7 L385.1,675.7 L385.9,674.2 L386.6,672.1 L387.4,669.5 L388.2,666.9 L389.0,664.7 L389.8,663.4 L390.6,663.3 L391.4,664.4 L392.2,666.4 L393.0,668.8 L393.8,671.3 L394.5,673.4 L395.3,675.1 L396.1,676.2 L396.9,677.0 L397.7,677.4 L398.5,677.6 L399.3,677.7 L400.1,677.8 L400.9,677.8 L401.6,677.8 L402.4,677.8 L403.2,677.8 L404.0,677.8 L404.8,677.8 L405.6,677.8 L406.4,677.8 L407.2,677.8 L408.0,677.8 L408.8,677.8 L409.5,677.8 L410.3,677.8 L411.1,677.8 L411.9,677.8 L412.7,677.8 L413.5,677.8 L414.3,677.8 L415.1,677.8 L415.9,677.8 L416.7,677.8 L417.4,677.8 L418.2,677.8 L419.0,677.8 L419.8,677.8 L420.6,677.8 L421.4,677.8 L421.40,677.80 L366.10,677.80 Z" fill="#58a083" stroke="none" stroke-width="1" fill-opacity="0.8" style="mix-blend-mode:multiply"/>
<path d="M366.1,677.8 L366.9,677.8 L367.7,677.8 L368.5,677.8 L369.3,677.8 L370.1,677.8 L370.8,677.8 L371.6,677.8 L372.4,677.8 L373.2,677.8 L374.0,677.8 L374.8,677.8 L375.6,677.8 L376.4,677.8 L377.2,677.8 L377.9,677.8 L378.7,677.8 L379.5,677.8 L380.3,677.8 L381.1,677.8 L381.9,677.7 L382.7,677.6 L383.5,677.3 L384.3,676.7 L385.1,675.7 L385.9,674.2 L386.6,672.1 L387.4,669.5 L388.2,666.9 L389.0,664.7 L389.8,663.4 L390.6,663.3 L391.4,664.4 L392.2,666.4 L393.0,668.8 L393.8,671.3 L394.5,673.4 L395.3,675.1 L396.1,676.2 L396.9,677.0 L397.7,677.4 L398.5,677.6 L399.3,677.7 L400.1,677.8 L400.9,677.8 L401.6,677.8 L402.4,677.8 L403.2,677.8 L404.0,677.8 L404.8,677.8 L405.6,677.8 L406.4,677.8 L407.2,677.8 L408.0,677.8 L408.8,677.8 L409.5,677.8 L410.3,677.8 L411.1,677.8 L411.9,677.8 L412.7,677.8 L413.5,677.8 L414.3,677.8 L415.1,677.8 L415.9,677.8 L416.7,677.8 L417.4,677.8 L418.2,677.8 L419.0,677.8 L419.8,677.8 L420.6,677.8 L421.4,677.8" fill="none" stroke="#23785a" stroke-width="1.15"/>
<rect x="365.60" y="620.80" width="56.30" height="57.00" fill="none" stroke="#231f20" stroke-width="1.2"/>
<line x1="363.20" y1="620.80" x2="365.60" y2="620.80" stroke="#231f20" stroke-width="0.6"/>
<line x1="363.20" y1="622.84" x2="365.60" y2="622.84" stroke="#231f20" stroke-width="0.6"/>
<line x1="363.20" y1="624.87" x2="365.60" y2="624.87" stroke="#231f20" stroke-width="0.6"/>
<line x1="363.20" y1="626.91" x2="365.60" y2="626.91" stroke="#231f20" stroke-width="0.6"/>
<line x1="363.20" y1="628.94" x2="365.60" y2="628.94" stroke="#231f20" stroke-width="0.6"/>
<line x1="363.20" y1="630.98" x2="365.60" y2="630.98" stroke="#231f20" stroke-width="0.6"/>
<line x1="363.20" y1="633.01" x2="365.60" y2="633.01" stroke="#231f20" stroke-width="0.6"/>
<line x1="363.20" y1="635.05" x2="365.60" y2="635.05" stroke="#231f20" stroke-width="0.6"/>
<line x1="363.20" y1="637.09" x2="365.60" y2="637.09" stroke="#231f20" stroke-width="0.6"/>
<line x1="363.20" y1="639.12" x2="365.60" y2="639.12" stroke="#231f20" stroke-width="0.6"/>
<line x1="363.20" y1="641.16" x2="365.60" y2="641.16" stroke="#231f20" stroke-width="0.6"/>
<line x1="363.20" y1="643.19" x2="365.60" y2="643.19" stroke="#231f20" stroke-width="0.6"/>
<line x1="363.20" y1="645.23" x2="365.60" y2="645.23" stroke="#231f20" stroke-width="0.6"/>
<line x1="363.20" y1="647.26" x2="365.60" y2="647.26" stroke="#231f20" stroke-width="0.6"/>
<line x1="363.20" y1="649.30" x2="365.60" y2="649.30" stroke="#231f20" stroke-width="0.6"/>
<line x1="363.20" y1="651.34" x2="365.60" y2="651.34" stroke="#231f20" stroke-width="0.6"/>
<line x1="363.20" y1="653.37" x2="365.60" y2="653.37" stroke="#231f20" stroke-width="0.6"/>
<line x1="363.20" y1="655.41" x2="365.60" y2="655.41" stroke="#231f20" stroke-width="0.6"/>
<line x1="363.20" y1="657.44" x2="365.60" y2="657.44" stroke="#231f20" stroke-width="0.6"/>
<line x1="363.20" y1="659.48" x2="365.60" y2="659.48" stroke="#231f20" stroke-width="0.6"/>
<line x1="363.20" y1="661.51" x2="365.60" y2="661.51" stroke="#231f20" stroke-width="0.6"/>
<line x1="363.20" y1="663.55" x2="365.60" y2="663.55" stroke="#231f20" stroke-width="0.6"/>
<line x1="363.20" y1="665.59" x2="365.60" y2="665.59" stroke="#231f20" stroke-width="0.6"/>
<line x1="363.20" y1="667.62" x2="365.60" y2="667.62" stroke="#231f20" stroke-width="0.6"/>
<line x1="363.20" y1="669.66" x2="365.60" y2="669.66" stroke="#231f20" stroke-width="0.6"/>
<line x1="363.20" y1="671.69" x2="365.60" y2="671.69" stroke="#231f20" stroke-width="0.6"/>
<line x1="363.20" y1="673.73" x2="365.60" y2="673.73" stroke="#231f20" stroke-width="0.6"/>
<line x1="363.20" y1="675.76" x2="365.60" y2="675.76" stroke="#231f20" stroke-width="0.6"/>
<line x1="363.20" y1="677.80" x2="365.60" y2="677.80" stroke="#231f20" stroke-width="0.6"/>
<line x1="365.60" y1="677.80" x2="365.60" y2="680.80" stroke="#231f20" stroke-width="0.7"/>
<line x1="369.84" y1="677.80" x2="369.84" y2="679.70" stroke="#231f20" stroke-width="0.7"/>
<line x1="372.32" y1="677.80" x2="372.32" y2="679.70" stroke="#231f20" stroke-width="0.7"/>
<line x1="374.07" y1="677.80" x2="374.07" y2="679.70" stroke="#231f20" stroke-width="0.7"/>
<line x1="375.44" y1="677.80" x2="375.44" y2="679.70" stroke="#231f20" stroke-width="0.7"/>
<line x1="376.55" y1="677.80" x2="376.55" y2="679.70" stroke="#231f20" stroke-width="0.7"/>
<line x1="377.49" y1="677.80" x2="377.49" y2="679.70" stroke="#231f20" stroke-width="0.7"/>
<line x1="378.31" y1="677.80" x2="378.31" y2="679.70" stroke="#231f20" stroke-width="0.7"/>
<line x1="379.03" y1="677.80" x2="379.03" y2="679.70" stroke="#231f20" stroke-width="0.7"/>
<line x1="379.68" y1="677.80" x2="379.68" y2="680.80" stroke="#231f20" stroke-width="0.7"/>
<line x1="383.91" y1="677.80" x2="383.91" y2="679.70" stroke="#231f20" stroke-width="0.7"/>
<line x1="386.39" y1="677.80" x2="386.39" y2="679.70" stroke="#231f20" stroke-width="0.7"/>
<line x1="388.15" y1="677.80" x2="388.15" y2="679.70" stroke="#231f20" stroke-width="0.7"/>
<line x1="389.51" y1="677.80" x2="389.51" y2="679.70" stroke="#231f20" stroke-width="0.7"/>
<line x1="390.63" y1="677.80" x2="390.63" y2="679.70" stroke="#231f20" stroke-width="0.7"/>
<line x1="391.57" y1="677.80" x2="391.57" y2="679.70" stroke="#231f20" stroke-width="0.7"/>
<line x1="392.39" y1="677.80" x2="392.39" y2="679.70" stroke="#231f20" stroke-width="0.7"/>
<line x1="393.11" y1="677.80" x2="393.11" y2="679.70" stroke="#231f20" stroke-width="0.7"/>
<line x1="393.75" y1="677.80" x2="393.75" y2="680.80" stroke="#231f20" stroke-width="0.7"/>
<line x1="397.99" y1="677.80" x2="397.99" y2="679.70" stroke="#231f20" stroke-width="0.7"/>
<line x1="400.47" y1="677.80" x2="400.47" y2="679.70" stroke="#231f20" stroke-width="0.7"/>
<line x1="402.22" y1="677.80" x2="402.22" y2="679.70" stroke="#231f20" stroke-width="0.7"/>
<line x1="403.59" y1="677.80" x2="403.59" y2="679.70" stroke="#231f20" stroke-width="0.7"/>
<line x1="404.70" y1="677.80" x2="404.70" y2="679.70" stroke="#231f20" stroke-width="0.7"/>
<line x1="405.64" y1="677.80" x2="405.64" y2="679.70" stroke="#231f20" stroke-width="0.7"/>
<line x1="406.46" y1="677.80" x2="406.46" y2="679.70" stroke="#231f20" stroke-width="0.7"/>
<line x1="407.18" y1="677.80" x2="407.18" y2="679.70" stroke="#231f20" stroke-width="0.7"/>
<line x1="407.82" y1="677.80" x2="407.82" y2="680.80" stroke="#231f20" stroke-width="0.7"/>
<line x1="412.06" y1="677.80" x2="412.06" y2="679.70" stroke="#231f20" stroke-width="0.7"/>
<line x1="414.54" y1="677.80" x2="414.54" y2="679.70" stroke="#231f20" stroke-width="0.7"/>
<line x1="416.30" y1="677.80" x2="416.30" y2="679.70" stroke="#231f20" stroke-width="0.7"/>
<line x1="417.66" y1="677.80" x2="417.66" y2="679.70" stroke="#231f20" stroke-width="0.7"/>
<line x1="418.78" y1="677.80" x2="418.78" y2="679.70" stroke="#231f20" stroke-width="0.7"/>
<line x1="419.72" y1="677.80" x2="419.72" y2="679.70" stroke="#231f20" stroke-width="0.7"/>
<line x1="420.54" y1="677.80" x2="420.54" y2="679.70" stroke="#231f20" stroke-width="0.7"/>
<line x1="421.26" y1="677.80" x2="421.26" y2="679.70" stroke="#231f20" stroke-width="0.7"/>
<line x1="421.90" y1="677.80" x2="421.90" y2="680.80" stroke="#231f20" stroke-width="0.7"/>
<text x="365.80" y="690.80" font-size="8.4" textLength="19.8" lengthAdjust="spacingAndGlyphs" fill="#231f20" stroke="#231f20" stroke-width="0.22">pLCK</text>
<line x1="389.40" y1="687.70" x2="419.10" y2="687.70" stroke="#231f20" stroke-width="1.1"/>
<path d="M423.20,687.70 L418.60,685.60 L418.60,689.80 Z" fill="#231f20" stroke="none" stroke-width="1"/>
<path d="M455.3,486.2 L456.1,486.2 L456.9,486.2 L457.7,486.2 L458.4,486.2 L459.2,486.2 L460.0,486.2 L460.8,486.2 L461.6,486.2 L462.4,486.2 L463.2,486.2 L463.9,486.2 L464.7,486.2 L465.5,486.2 L466.3,486.2 L467.1,486.2 L467.9,486.2 L468.7,486.2 L469.4,486.2 L470.2,486.2 L471.0,486.2 L471.8,486.2 L472.6,486.2 L473.4,486.2 L474.2,486.2 L474.9,486.2 L475.7,486.2 L476.5,486.2 L477.3,486.2 L478.1,486.1 L478.9,486.1 L479.7,485.9 L480.4,485.7 L481.2,485.2 L482.0,484.5 L482.8,483.4 L483.6,481.9 L484.4,480.0 L485.2,477.9 L485.9,475.7 L486.7,473.7 L487.5,472.3 L488.3,471.6 L489.1,471.8 L489.9,472.6 L490.7,474.0 L491.4,475.8 L492.2,477.7 L493.0,479.6 L493.8,481.3 L494.6,482.8 L495.4,483.9 L496.2,484.7 L496.9,485.3 L497.7,485.7 L498.5,485.9 L499.3,486.0 L500.1,486.1 L500.9,486.2 L501.7,486.2 L502.4,486.2 L503.2,486.2 L504.0,486.2 L504.8,486.2 L505.6,486.2 L506.4,486.2 L507.2,486.2 L507.9,486.2 L508.7,486.2 L509.5,486.2 L510.3,486.2 L510.30,486.20 L455.30,486.20 Z" fill="#df8393" stroke="none" stroke-width="1" fill-opacity="0.8" style="mix-blend-mode:multiply"/>
<path d="M455.3,486.2 L456.1,486.2 L456.9,486.2 L457.7,486.2 L458.4,486.2 L459.2,486.2 L460.0,486.2 L460.8,486.2 L461.6,486.2 L462.4,486.2 L463.2,486.2 L463.9,486.2 L464.7,486.2 L465.5,486.2 L466.3,486.2 L467.1,486.2 L467.9,486.2 L468.7,486.2 L469.4,486.2 L470.2,486.2 L471.0,486.2 L471.8,486.2 L472.6,486.2 L473.4,486.2 L474.2,486.2 L474.9,486.2 L475.7,486.2 L476.5,486.2 L477.3,486.2 L478.1,486.1 L478.9,486.1 L479.7,485.9 L480.4,485.7 L481.2,485.2 L482.0,484.5 L482.8,483.4 L483.6,481.9 L484.4,480.0 L485.2,477.9 L485.9,475.7 L486.7,473.7 L487.5,472.3 L488.3,471.6 L489.1,471.8 L489.9,472.6 L490.7,474.0 L491.4,475.8 L492.2,477.7 L493.0,479.6 L493.8,481.3 L494.6,482.8 L495.4,483.9 L496.2,484.7 L496.9,485.3 L497.7,485.7 L498.5,485.9 L499.3,486.0 L500.1,486.1 L500.9,486.2 L501.7,486.2 L502.4,486.2 L503.2,486.2 L504.0,486.2 L504.8,486.2 L505.6,486.2 L506.4,486.2 L507.2,486.2 L507.9,486.2 L508.7,486.2 L509.5,486.2 L510.3,486.2" fill="none" stroke="#d2435f" stroke-width="1.15"/>
<path d="M455.3,494.1 L456.1,494.1 L456.9,494.1 L457.7,494.1 L458.4,494.1 L459.2,494.1 L460.0,494.1 L460.8,494.1 L461.6,494.1 L462.4,494.1 L463.2,494.1 L463.9,494.1 L464.7,494.1 L465.5,494.1 L466.3,494.1 L467.1,494.1 L467.9,494.1 L468.7,494.1 L469.4,494.1 L470.2,494.1 L471.0,494.1 L471.8,494.1 L472.6,494.1 L473.4,494.1 L474.2,494.1 L474.9,494.1 L475.7,494.0 L476.5,493.9 L477.3,493.7 L478.1,493.3 L478.9,492.6 L479.7,491.4 L480.4,489.9 L481.2,487.8 L482.0,485.5 L482.8,483.2 L483.6,481.2 L484.4,479.9 L485.2,479.6 L485.9,480.1 L486.7,481.3 L487.5,483.1 L488.3,485.1 L489.1,487.2 L489.9,489.0 L490.7,490.6 L491.4,491.8 L492.2,492.7 L493.0,493.3 L493.8,493.7 L494.6,493.9 L495.4,494.0 L496.2,494.1 L496.9,494.1 L497.7,494.1 L498.5,494.1 L499.3,494.1 L500.1,494.1 L500.9,494.1 L501.7,494.1 L502.4,494.1 L503.2,494.1 L504.0,494.1 L504.8,494.1 L505.6,494.1 L506.4,494.1 L507.2,494.1 L507.9,494.1 L508.7,494.1 L509.5,494.1 L510.3,494.1 L510.30,494.14 L455.30,494.14 Z" fill="#f6b868" stroke="none" stroke-width="1" fill-opacity="0.8" style="mix-blend-mode:multiply"/>
<path d="M455.3,494.1 L456.1,494.1 L456.9,494.1 L457.7,494.1 L458.4,494.1 L459.2,494.1 L460.0,494.1 L460.8,494.1 L461.6,494.1 L462.4,494.1 L463.2,494.1 L463.9,494.1 L464.7,494.1 L465.5,494.1 L466.3,494.1 L467.1,494.1 L467.9,494.1 L468.7,494.1 L469.4,494.1 L470.2,494.1 L471.0,494.1 L471.8,494.1 L472.6,494.1 L473.4,494.1 L474.2,494.1 L474.9,494.1 L475.7,494.0 L476.5,493.9 L477.3,493.7 L478.1,493.3 L478.9,492.6 L479.7,491.4 L480.4,489.9 L481.2,487.8 L482.0,485.5 L482.8,483.2 L483.6,481.2 L484.4,479.9 L485.2,479.6 L485.9,480.1 L486.7,481.3 L487.5,483.1 L488.3,485.1 L489.1,487.2 L489.9,489.0 L490.7,490.6 L491.4,491.8 L492.2,492.7 L493.0,493.3 L493.8,493.7 L494.6,493.9 L495.4,494.0 L496.2,494.1 L496.9,494.1 L497.7,494.1 L498.5,494.1 L499.3,494.1 L500.1,494.1 L500.9,494.1 L501.7,494.1 L502.4,494.1 L503.2,494.1 L504.0,494.1 L504.8,494.1 L505.6,494.1 L506.4,494.1 L507.2,494.1 L507.9,494.1 L508.7,494.1 L509.5,494.1 L510.3,494.1" fill="none" stroke="#f3a23a" stroke-width="1.15"/>
<path d="M455.3,502.1 L456.1,502.1 L456.9,502.1 L457.7,502.1 L458.4,502.1 L459.2,502.1 L460.0,502.1 L460.8,502.1 L461.6,502.1 L462.4,502.1 L463.2,502.1 L463.9,502.1 L464.7,502.1 L465.5,502.1 L466.3,502.1 L467.1,502.1 L467.9,502.1 L468.7,502.1 L469.4,502.1 L470.2,502.1 L471.0,502.1 L471.8,502.1 L472.6,502.0 L473.4,501.9 L474.2,501.8 L474.9,501.4 L475.7,500.9 L476.5,500.0 L477.3,498.6 L478.1,496.9 L478.9,494.7 L479.7,492.4 L480.4,490.2 L481.2,488.6 L482.0,487.9 L482.8,488.1 L483.6,489.0 L484.4,490.6 L485.2,492.4 L485.9,494.4 L486.7,496.4 L487.5,498.0 L488.3,499.3 L489.1,500.3 L489.9,501.0 L490.7,501.5 L491.4,501.8 L492.2,501.9 L493.0,502.0 L493.8,502.0 L494.6,502.1 L495.4,502.1 L496.2,502.1 L496.9,502.1 L497.7,502.1 L498.5,502.1 L499.3,502.1 L500.1,502.1 L500.9,502.1 L501.7,502.1 L502.4,502.1 L503.2,502.1 L504.0,502.1 L504.8,502.1 L505.6,502.1 L506.4,502.1 L507.2,502.1 L507.9,502.1 L508.7,502.1 L509.5,502.1 L510.3,502.1 L510.30,502.08 L455.30,502.08 Z" fill="#7b9dc0" stroke="none" stroke-width="1" fill-opacity="0.8" style="mix-blend-mode:multiply"/>
<path d="M455.3,502.1 L456.1,502.1 L456.9,502.1 L457.7,502.1 L458.4,502.1 L459.2,502.1 L460.0,502.1 L460.8,502.1 L461.6,502.1 L462.4,502.1 L463.2,502.1 L463.9,502.1 L464.7,502.1 L465.5,502.1 L466.3,502.1 L467.1,502.1 L467.9,502.1 L468.7,502.1 L469.4,502.1 L470.2,502.1 L471.0,502.1 L471.8,502.1 L472.6,502.0 L473.4,501.9 L474.2,501.8 L474.9,501.4 L475.7,500.9 L476.5,500.0 L477.3,498.6 L478.1,496.9 L478.9,494.7 L479.7,492.4 L480.4,490.2 L481.2,488.6 L482.0,487.9 L482.8,488.1 L483.6,489.0 L484.4,490.6 L485.2,492.4 L485.9,494.4 L486.7,496.4 L487.5,498.0 L488.3,499.3 L489.1,500.3 L489.9,501.0 L490.7,501.5 L491.4,501.8 L492.2,501.9 L493.0,502.0 L493.8,502.0 L494.6,502.1 L495.4,502.1 L496.2,502.1 L496.9,502.1 L497.7,502.1 L498.5,502.1 L499.3,502.1 L500.1,502.1 L500.9,502.1 L501.7,502.1 L502.4,502.1 L503.2,502.1 L504.0,502.1 L504.8,502.1 L505.6,502.1 L506.4,502.1 L507.2,502.1 L507.9,502.1 L508.7,502.1 L509.5,502.1 L510.3,502.1" fill="none" stroke="#3a6f9f" stroke-width="1.15"/>
<path d="M455.3,510.0 L456.1,510.0 L456.9,510.0 L457.7,510.0 L458.4,510.0 L459.2,510.0 L460.0,510.0 L460.8,510.0 L461.6,510.0 L462.4,510.0 L463.2,510.0 L463.9,510.0 L464.7,510.0 L465.5,510.0 L466.3,510.0 L467.1,510.0 L467.9,510.0 L468.7,510.0 L469.4,510.0 L470.2,510.0 L471.0,510.0 L471.8,510.0 L472.6,509.9 L473.4,509.7 L474.2,509.4 L474.9,508.8 L475.7,507.9 L476.5,506.6 L477.3,504.8 L478.1,502.6 L478.9,500.3 L479.7,498.2 L480.4,496.6 L481.2,495.8 L482.0,496.1 L482.8,497.0 L483.6,498.5 L484.4,500.4 L485.2,502.4 L485.9,504.3 L486.7,506.0 L487.5,507.3 L488.3,508.3 L489.1,509.0 L489.9,509.4 L490.7,509.7 L491.4,509.9 L492.2,509.9 L493.0,510.0 L493.8,510.0 L494.6,510.0 L495.4,510.0 L496.2,510.0 L496.9,510.0 L497.7,510.0 L498.5,510.0 L499.3,510.0 L500.1,510.0 L500.9,510.0 L501.7,510.0 L502.4,510.0 L503.2,510.0 L504.0,510.0 L504.8,510.0 L505.6,510.0 L506.4,510.0 L507.2,510.0 L507.9,510.0 L508.7,510.0 L509.5,510.0 L510.3,510.0 L510.30,510.02 L455.30,510.02 Z" fill="#9f7db5" stroke="none" stroke-width="1" fill-opacity="0.8" style="mix-blend-mode:multiply"/>
<path d="M455.3,510.0 L456.1,510.0 L456.9,510.0 L457.7,510.0 L458.4,510.0 L459.2,510.0 L460.0,510.0 L460.8,510.0 L461.6,510.0 L462.4,510.0 L463.2,510.0 L463.9,510.0 L464.7,510.0 L465.5,510.0 L466.3,510.0 L467.1,510.0 L467.9,510.0 L468.7,510.0 L469.4,510.0 L470.2,510.0 L471.0,510.0 L471.8,510.0 L472.6,509.9 L473.4,509.7 L474.2,509.4 L474.9,508.8 L475.7,507.9 L476.5,506.6 L477.3,504.8 L478.1,502.6 L478.9,500.3 L479.7,498.2 L480.4,496.6 L481.2,495.8 L482.0,496.1 L482.8,497.0 L483.6,498.5 L484.4,500.4 L485.2,502.4 L485.9,504.3 L486.7,506.0 L487.5,507.3 L488.3,508.3 L489.1,509.0 L489.9,509.4 L490.7,509.7 L491.4,509.9 L492.2,509.9 L493.0,510.0 L493.8,510.0 L494.6,510.0 L495.4,510.0 L496.2,510.0 L496.9,510.0 L497.7,510.0 L498.5,510.0 L499.3,510.0 L500.1,510.0 L500.9,510.0 L501.7,510.0 L502.4,510.0 L503.2,510.0 L504.0,510.0 L504.8,510.0 L505.6,510.0 L506.4,510.0 L507.2,510.0 L507.9,510.0 L508.7,510.0 L509.5,510.0 L510.3,510.0" fill="none" stroke="#7b4c93" stroke-width="1.15"/>
<path d="M455.3,518.0 L456.1,518.0 L456.9,518.0 L457.7,518.0 L458.4,518.0 L459.2,518.0 L460.0,518.0 L460.8,518.0 L461.6,518.0 L462.4,518.0 L463.2,518.0 L463.9,518.0 L464.7,518.0 L465.5,518.0 L466.3,518.0 L467.1,518.0 L467.9,518.0 L468.7,518.0 L469.4,517.9 L470.2,517.9 L471.0,517.9 L471.8,517.7 L472.6,517.5 L473.4,517.0 L474.2,516.3 L474.9,515.1 L475.7,513.5 L476.5,511.4 L477.3,509.1 L478.1,506.7 L478.9,504.8 L479.7,503.6 L480.4,503.4 L481.2,504.0 L482.0,505.3 L482.8,507.1 L483.6,509.2 L484.4,511.2 L485.2,513.0 L485.9,514.6 L486.7,515.7 L487.5,516.6 L488.3,517.2 L489.1,517.5 L489.9,517.7 L490.7,517.8 L491.4,517.9 L492.2,517.9 L493.0,517.9 L493.8,518.0 L494.6,518.0 L495.4,518.0 L496.2,518.0 L496.9,518.0 L497.7,518.0 L498.5,518.0 L499.3,518.0 L500.1,518.0 L500.9,518.0 L501.7,518.0 L502.4,518.0 L503.2,518.0 L504.0,518.0 L504.8,518.0 L505.6,518.0 L506.4,518.0 L507.2,518.0 L507.9,518.0 L508.7,518.0 L509.5,518.0 L510.3,518.0 L510.30,517.96 L455.30,517.96 Z" fill="#9cd79b" stroke="none" stroke-width="1" fill-opacity="0.8" style="mix-blend-mode:multiply"/>
<path d="M455.3,518.0 L456.1,518.0 L456.9,518.0 L457.7,518.0 L458.4,518.0 L459.2,518.0 L460.0,518.0 L460.8,518.0 L461.6,518.0 L462.4,518.0 L463.2,518.0 L463.9,518.0 L464.7,518.0 L465.5,518.0 L466.3,518.0 L467.1,518.0 L467.9,518.0 L468.7,518.0 L469.4,517.9 L470.2,517.9 L471.0,517.9 L471.8,517.7 L472.6,517.5 L473.4,517.0 L474.2,516.3 L474.9,515.1 L475.7,513.5 L476.5,511.4 L477.3,509.1 L478.1,506.7 L478.9,504.8 L479.7,503.6 L480.4,503.4 L481.2,504.0 L482.0,505.3 L482.8,507.1 L483.6,509.2 L484.4,511.2 L485.2,513.0 L485.9,514.6 L486.7,515.7 L487.5,516.6 L488.3,517.2 L489.1,517.5 L489.9,517.7 L490.7,517.8 L491.4,517.9 L492.2,517.9 L493.0,517.9 L493.8,518.0 L494.6,518.0 L495.4,518.0 L496.2,518.0 L496.9,518.0 L497.7,518.0 L498.5,518.0 L499.3,518.0 L500.1,518.0 L500.9,518.0 L501.7,518.0 L502.4,518.0 L503.2,518.0 L504.0,518.0 L504.8,518.0 L505.6,518.0 L506.4,518.0 L507.2,518.0 L507.9,518.0 L508.7,518.0 L509.5,518.0 L510.3,518.0" fill="none" stroke="#5cc25f" stroke-width="1.15"/>
<path d="M455.3,525.9 L456.1,525.9 L456.9,525.9 L457.7,525.9 L458.4,525.9 L459.2,525.9 L460.0,525.9 L460.8,525.9 L461.6,525.9 L462.4,525.9 L463.2,525.9 L463.9,525.9 L464.7,525.9 L465.5,525.9 L466.3,525.9 L467.1,525.9 L467.9,525.9 L468.7,525.8 L469.4,525.7 L470.2,525.5 L471.0,525.2 L471.8,524.7 L472.6,523.8 L473.4,522.6 L474.2,521.0 L474.9,519.0 L475.7,516.9 L476.5,514.7 L477.3,512.9 L478.1,511.7 L478.9,511.3 L479.7,511.7 L480.4,512.8 L481.2,514.3 L482.0,516.1 L482.8,518.1 L483.6,519.9 L484.4,521.6 L485.2,522.9 L485.9,523.9 L486.7,524.6 L487.5,525.1 L488.3,525.5 L489.1,525.7 L489.9,525.8 L490.7,525.8 L491.4,525.9 L492.2,525.9 L493.0,525.9 L493.8,525.9 L494.6,525.9 L495.4,525.9 L496.2,525.9 L496.9,525.9 L497.7,525.9 L498.5,525.9 L499.3,525.9 L500.1,525.9 L500.9,525.9 L501.7,525.9 L502.4,525.9 L503.2,525.9 L504.0,525.9 L504.8,525.9 L505.6,525.9 L506.4,525.9 L507.2,525.9 L507.9,525.9 L508.7,525.9 L509.5,525.9 L510.3,525.9 L510.30,525.90 L455.30,525.90 Z" fill="#58a083" stroke="none" stroke-width="1" fill-opacity="0.8" style="mix-blend-mode:multiply"/>
<path d="M455.3,525.9 L456.1,525.9 L456.9,525.9 L457.7,525.9 L458.4,525.9 L459.2,525.9 L460.0,525.9 L460.8,525.9 L461.6,525.9 L462.4,525.9 L463.2,525.9 L463.9,525.9 L464.7,525.9 L465.5,525.9 L466.3,525.9 L467.1,525.9 L467.9,525.9 L468.7,525.8 L469.4,525.7 L470.2,525.5 L471.0,525.2 L471.8,524.7 L472.6,523.8 L473.4,522.6 L474.2,521.0 L474.9,519.0 L475.7,516.9 L476.5,514.7 L477.3,512.9 L478.1,511.7 L478.9,511.3 L479.7,511.7 L480.4,512.8 L481.2,514.3 L482.0,516.1 L482.8,518.1 L483.6,519.9 L484.4,521.6 L485.2,522.9 L485.9,523.9 L486.7,524.6 L487.5,525.1 L488.3,525.5 L489.1,525.7 L489.9,525.8 L490.7,525.8 L491.4,525.9 L492.2,525.9 L493.0,525.9 L493.8,525.9 L494.6,525.9 L495.4,525.9 L496.2,525.9 L496.9,525.9 L497.7,525.9 L498.5,525.9 L499.3,525.9 L500.1,525.9 L500.9,525.9 L501.7,525.9 L502.4,525.9 L503.2,525.9 L504.0,525.9 L504.8,525.9 L505.6,525.9 L506.4,525.9 L507.2,525.9 L507.9,525.9 L508.7,525.9 L509.5,525.9 L510.3,525.9" fill="none" stroke="#23785a" stroke-width="1.15"/>
<rect x="454.80" y="469.70" width="56.00" height="56.20" fill="none" stroke="#231f20" stroke-width="1.2"/>
<line x1="452.40" y1="469.70" x2="454.80" y2="469.70" stroke="#231f20" stroke-width="0.6"/>
<line x1="452.40" y1="471.71" x2="454.80" y2="471.71" stroke="#231f20" stroke-width="0.6"/>
<line x1="452.40" y1="473.71" x2="454.80" y2="473.71" stroke="#231f20" stroke-width="0.6"/>
<line x1="452.40" y1="475.72" x2="454.80" y2="475.72" stroke="#231f20" stroke-width="0.6"/>
<line x1="452.40" y1="477.73" x2="454.80" y2="477.73" stroke="#231f20" stroke-width="0.6"/>
<line x1="452.40" y1="479.74" x2="454.80" y2="479.74" stroke="#231f20" stroke-width="0.6"/>
<line x1="452.40" y1="481.74" x2="454.80" y2="481.74" stroke="#231f20" stroke-width="0.6"/>
<line x1="452.40" y1="483.75" x2="454.80" y2="483.75" stroke="#231f20" stroke-width="0.6"/>
<line x1="452.40" y1="485.76" x2="454.80" y2="485.76" stroke="#231f20" stroke-width="0.6"/>
<line x1="452.40" y1="487.76" x2="454.80" y2="487.76" stroke="#231f20" stroke-width="0.6"/>
<line x1="452.40" y1="489.77" x2="454.80" y2="489.77" stroke="#231f20" stroke-width="0.6"/>
<line x1="452.40" y1="491.78" x2="454.80" y2="491.78" stroke="#231f20" stroke-width="0.6"/>
<line x1="452.40" y1="493.79" x2="454.80" y2="493.79" stroke="#231f20" stroke-width="0.6"/>
<line x1="452.40" y1="495.79" x2="454.80" y2="495.79" stroke="#231f20" stroke-width="0.6"/>
<line x1="452.40" y1="497.80" x2="454.80" y2="497.80" stroke="#231f20" stroke-width="0.6"/>
<line x1="452.40" y1="499.81" x2="454.80" y2="499.81" stroke="#231f20" stroke-width="0.6"/>
<line x1="452.40" y1="501.81" x2="454.80" y2="501.81" stroke="#231f20" stroke-width="0.6"/>
<line x1="452.40" y1="503.82" x2="454.80" y2="503.82" stroke="#231f20" stroke-width="0.6"/>
<line x1="452.40" y1="505.83" x2="454.80" y2="505.83" stroke="#231f20" stroke-width="0.6"/>
<line x1="452.40" y1="507.84" x2="454.80" y2="507.84" stroke="#231f20" stroke-width="0.6"/>
<line x1="452.40" y1="509.84" x2="454.80" y2="509.84" stroke="#231f20" stroke-width="0.6"/>
<line x1="452.40" y1="511.85" x2="454.80" y2="511.85" stroke="#231f20" stroke-width="0.6"/>
<line x1="452.40" y1="513.86" x2="454.80" y2="513.86" stroke="#231f20" stroke-width="0.6"/>
<line x1="452.40" y1="515.86" x2="454.80" y2="515.86" stroke="#231f20" stroke-width="0.6"/>
<line x1="452.40" y1="517.87" x2="454.80" y2="517.87" stroke="#231f20" stroke-width="0.6"/>
<line x1="452.40" y1="519.88" x2="454.80" y2="519.88" stroke="#231f20" stroke-width="0.6"/>
<line x1="452.40" y1="521.89" x2="454.80" y2="521.89" stroke="#231f20" stroke-width="0.6"/>
<line x1="452.40" y1="523.89" x2="454.80" y2="523.89" stroke="#231f20" stroke-width="0.6"/>
<line x1="452.40" y1="525.90" x2="454.80" y2="525.90" stroke="#231f20" stroke-width="0.6"/>
<line x1="454.80" y1="525.90" x2="454.80" y2="528.90" stroke="#231f20" stroke-width="0.7"/>
<line x1="459.01" y1="525.90" x2="459.01" y2="527.80" stroke="#231f20" stroke-width="0.7"/>
<line x1="461.48" y1="525.90" x2="461.48" y2="527.80" stroke="#231f20" stroke-width="0.7"/>
<line x1="463.23" y1="525.90" x2="463.23" y2="527.80" stroke="#231f20" stroke-width="0.7"/>
<line x1="464.59" y1="525.90" x2="464.59" y2="527.80" stroke="#231f20" stroke-width="0.7"/>
<line x1="465.69" y1="525.90" x2="465.69" y2="527.80" stroke="#231f20" stroke-width="0.7"/>
<line x1="466.63" y1="525.90" x2="466.63" y2="527.80" stroke="#231f20" stroke-width="0.7"/>
<line x1="467.44" y1="525.90" x2="467.44" y2="527.80" stroke="#231f20" stroke-width="0.7"/>
<line x1="468.16" y1="525.90" x2="468.16" y2="527.80" stroke="#231f20" stroke-width="0.7"/>
<line x1="468.80" y1="525.90" x2="468.80" y2="528.90" stroke="#231f20" stroke-width="0.7"/>
<line x1="473.01" y1="525.90" x2="473.01" y2="527.80" stroke="#231f20" stroke-width="0.7"/>
<line x1="475.48" y1="525.90" x2="475.48" y2="527.80" stroke="#231f20" stroke-width="0.7"/>
<line x1="477.23" y1="525.90" x2="477.23" y2="527.80" stroke="#231f20" stroke-width="0.7"/>
<line x1="478.59" y1="525.90" x2="478.59" y2="527.80" stroke="#231f20" stroke-width="0.7"/>
<line x1="479.69" y1="525.90" x2="479.69" y2="527.80" stroke="#231f20" stroke-width="0.7"/>
<line x1="480.63" y1="525.90" x2="480.63" y2="527.80" stroke="#231f20" stroke-width="0.7"/>
<line x1="481.44" y1="525.90" x2="481.44" y2="527.80" stroke="#231f20" stroke-width="0.7"/>
<line x1="482.16" y1="525.90" x2="482.16" y2="527.80" stroke="#231f20" stroke-width="0.7"/>
<line x1="482.80" y1="525.90" x2="482.80" y2="528.90" stroke="#231f20" stroke-width="0.7"/>
<line x1="487.01" y1="525.90" x2="487.01" y2="527.80" stroke="#231f20" stroke-width="0.7"/>
<line x1="489.48" y1="525.90" x2="489.48" y2="527.80" stroke="#231f20" stroke-width="0.7"/>
<line x1="491.23" y1="525.90" x2="491.23" y2="527.80" stroke="#231f20" stroke-width="0.7"/>
<line x1="492.59" y1="525.90" x2="492.59" y2="527.80" stroke="#231f20" stroke-width="0.7"/>
<line x1="493.69" y1="525.90" x2="493.69" y2="527.80" stroke="#231f20" stroke-width="0.7"/>
<line x1="494.63" y1="525.90" x2="494.63" y2="527.80" stroke="#231f20" stroke-width="0.7"/>
<line x1="495.44" y1="525.90" x2="495.44" y2="527.80" stroke="#231f20" stroke-width="0.7"/>
<line x1="496.16" y1="525.90" x2="496.16" y2="527.80" stroke="#231f20" stroke-width="0.7"/>
<line x1="496.80" y1="525.90" x2="496.80" y2="528.90" stroke="#231f20" stroke-width="0.7"/>
<line x1="501.01" y1="525.90" x2="501.01" y2="527.80" stroke="#231f20" stroke-width="0.7"/>
<line x1="503.48" y1="525.90" x2="503.48" y2="527.80" stroke="#231f20" stroke-width="0.7"/>
<line x1="505.23" y1="525.90" x2="505.23" y2="527.80" stroke="#231f20" stroke-width="0.7"/>
<line x1="506.59" y1="525.90" x2="506.59" y2="527.80" stroke="#231f20" stroke-width="0.7"/>
<line x1="507.69" y1="525.90" x2="507.69" y2="527.80" stroke="#231f20" stroke-width="0.7"/>
<line x1="508.63" y1="525.90" x2="508.63" y2="527.80" stroke="#231f20" stroke-width="0.7"/>
<line x1="509.44" y1="525.90" x2="509.44" y2="527.80" stroke="#231f20" stroke-width="0.7"/>
<line x1="510.16" y1="525.90" x2="510.16" y2="527.80" stroke="#231f20" stroke-width="0.7"/>
<line x1="510.80" y1="525.90" x2="510.80" y2="528.90" stroke="#231f20" stroke-width="0.7"/>
<text x="454.80" y="538.20" font-size="8.4" textLength="22.2" lengthAdjust="spacingAndGlyphs" fill="#231f20" stroke="#231f20" stroke-width="0.22">TBX21</text>
<line x1="480.20" y1="535.80" x2="507.30" y2="535.80" stroke="#231f20" stroke-width="1.1"/>
<path d="M511.40,535.80 L506.80,533.70 L506.80,537.90 Z" fill="#231f20" stroke="none" stroke-width="1"/>
<path d="M455.9,562.2 L456.7,562.2 L457.4,562.2 L458.2,562.2 L459.0,562.2 L459.7,562.2 L460.5,562.2 L461.3,562.2 L462.0,562.1 L462.8,562.0 L463.6,561.8 L464.4,561.5 L465.1,561.0 L465.9,560.2 L466.7,559.0 L467.4,557.4 L468.2,555.5 L469.0,553.4 L469.7,551.3 L470.5,549.6 L471.3,548.4 L472.0,548.0 L472.8,548.4 L473.6,549.4 L474.3,551.0 L475.1,552.9 L475.9,554.8 L476.7,556.6 L477.4,558.2 L478.2,559.5 L479.0,560.4 L479.7,561.1 L480.5,561.6 L481.3,561.9 L482.0,562.0 L482.8,562.1 L483.6,562.2 L484.3,562.2 L485.1,562.2 L485.9,562.2 L486.6,562.2 L487.4,562.2 L488.2,562.2 L488.9,562.2 L489.7,562.2 L490.5,562.2 L491.3,562.2 L492.0,562.2 L492.8,562.2 L493.6,562.2 L494.3,562.2 L495.1,562.2 L495.9,562.2 L496.6,562.2 L497.4,562.2 L498.2,562.2 L498.9,562.2 L499.7,562.2 L500.5,562.2 L501.2,562.2 L502.0,562.2 L502.8,562.2 L503.6,562.2 L504.3,562.2 L505.1,562.2 L505.9,562.2 L506.6,562.2 L507.4,562.2 L508.2,562.2 L508.9,562.2 L509.7,562.2 L509.70,562.20 L455.90,562.20 Z" fill="#df8393" stroke="none" stroke-width="1" fill-opacity="0.8" style="mix-blend-mode:multiply"/>
<path d="M455.9,562.2 L456.7,562.2 L457.4,562.2 L458.2,562.2 L459.0,562.2 L459.7,562.2 L460.5,562.2 L461.3,562.2 L462.0,562.1 L462.8,562.0 L463.6,561.8 L464.4,561.5 L465.1,561.0 L465.9,560.2 L466.7,559.0 L467.4,557.4 L468.2,555.5 L469.0,553.4 L469.7,551.3 L470.5,549.6 L471.3,548.4 L472.0,548.0 L472.8,548.4 L473.6,549.4 L474.3,551.0 L475.1,552.9 L475.9,554.8 L476.7,556.6 L477.4,558.2 L478.2,559.5 L479.0,560.4 L479.7,561.1 L480.5,561.6 L481.3,561.9 L482.0,562.0 L482.8,562.1 L483.6,562.2 L484.3,562.2 L485.1,562.2 L485.9,562.2 L486.6,562.2 L487.4,562.2 L488.2,562.2 L488.9,562.2 L489.7,562.2 L490.5,562.2 L491.3,562.2 L492.0,562.2 L492.8,562.2 L493.6,562.2 L494.3,562.2 L495.1,562.2 L495.9,562.2 L496.6,562.2 L497.4,562.2 L498.2,562.2 L498.9,562.2 L499.7,562.2 L500.5,562.2 L501.2,562.2 L502.0,562.2 L502.8,562.2 L503.6,562.2 L504.3,562.2 L505.1,562.2 L505.9,562.2 L506.6,562.2 L507.4,562.2 L508.2,562.2 L508.9,562.2 L509.7,562.2" fill="none" stroke="#d2435f" stroke-width="1.15"/>
<path d="M455.9,570.1 L456.7,570.1 L457.4,570.1 L458.2,570.1 L459.0,570.1 L459.7,570.1 L460.5,570.1 L461.3,570.1 L462.0,570.0 L462.8,569.9 L463.6,569.7 L464.4,569.4 L465.1,568.8 L465.9,567.9 L466.7,566.6 L467.4,564.8 L468.2,562.7 L469.0,560.4 L469.7,558.3 L470.5,556.7 L471.3,555.9 L472.0,556.1 L472.8,556.9 L473.6,558.3 L474.3,560.1 L475.1,562.0 L475.9,563.9 L476.7,565.6 L477.4,567.0 L478.2,568.0 L479.0,568.8 L479.7,569.3 L480.5,569.7 L481.3,569.8 L482.0,570.0 L482.8,570.0 L483.6,570.1 L484.3,570.1 L485.1,570.1 L485.9,570.1 L486.6,570.1 L487.4,570.1 L488.2,570.1 L488.9,570.1 L489.7,570.1 L490.5,570.1 L491.3,570.1 L492.0,570.1 L492.8,570.1 L493.6,570.1 L494.3,570.1 L495.1,570.1 L495.9,570.1 L496.6,570.1 L497.4,570.1 L498.2,570.1 L498.9,570.1 L499.7,570.1 L500.5,570.1 L501.2,570.1 L502.0,570.1 L502.8,570.1 L503.6,570.1 L504.3,570.1 L505.1,570.1 L505.9,570.1 L506.6,570.1 L507.4,570.1 L508.2,570.1 L508.9,570.1 L509.7,570.1 L509.70,570.08 L455.90,570.08 Z" fill="#f6b868" stroke="none" stroke-width="1" fill-opacity="0.8" style="mix-blend-mode:multiply"/>
<path d="M455.9,570.1 L456.7,570.1 L457.4,570.1 L458.2,570.1 L459.0,570.1 L459.7,570.1 L460.5,570.1 L461.3,570.1 L462.0,570.0 L462.8,569.9 L463.6,569.7 L464.4,569.4 L465.1,568.8 L465.9,567.9 L466.7,566.6 L467.4,564.8 L468.2,562.7 L469.0,560.4 L469.7,558.3 L470.5,556.7 L471.3,555.9 L472.0,556.1 L472.8,556.9 L473.6,558.3 L474.3,560.1 L475.1,562.0 L475.9,563.9 L476.7,565.6 L477.4,567.0 L478.2,568.0 L479.0,568.8 L479.7,569.3 L480.5,569.7 L481.3,569.8 L482.0,570.0 L482.8,570.0 L483.6,570.1 L484.3,570.1 L485.1,570.1 L485.9,570.1 L486.6,570.1 L487.4,570.1 L488.2,570.1 L488.9,570.1 L489.7,570.1 L490.5,570.1 L491.3,570.1 L492.0,570.1 L492.8,570.1 L493.6,570.1 L494.3,570.1 L495.1,570.1 L495.9,570.1 L496.6,570.1 L497.4,570.1 L498.2,570.1 L498.9,570.1 L499.7,570.1 L500.5,570.1 L501.2,570.1 L502.0,570.1 L502.8,570.1 L503.6,570.1 L504.3,570.1 L505.1,570.1 L505.9,570.1 L506.6,570.1 L507.4,570.1 L508.2,570.1 L508.9,570.1 L509.7,570.1" fill="none" stroke="#f3a23a" stroke-width="1.15"/>
<path d="M455.9,578.0 L456.7,578.0 L457.4,578.0 L458.2,578.0 L459.0,578.0 L459.7,578.0 L460.5,578.0 L461.3,578.0 L462.0,577.9 L462.8,577.9 L463.6,577.8 L464.4,577.7 L465.1,577.3 L465.9,576.6 L466.7,575.4 L467.4,573.6 L468.2,571.4 L469.0,568.8 L469.7,566.5 L470.5,564.9 L471.3,564.5 L472.0,565.0 L472.8,566.2 L473.6,567.6 L474.3,568.9 L475.1,569.8 L475.9,570.3 L476.7,570.4 L477.4,570.5 L478.2,570.7 L479.0,570.9 L479.7,571.1 L480.5,571.4 L481.3,571.7 L482.0,572.0 L482.8,572.4 L483.6,572.9 L484.3,573.3 L485.1,573.8 L485.9,574.2 L486.6,574.7 L487.4,575.1 L488.2,575.5 L488.9,575.9 L489.7,576.2 L490.5,576.5 L491.3,576.8 L492.0,577.0 L492.8,577.2 L493.6,577.4 L494.3,577.5 L495.1,577.6 L495.9,577.7 L496.6,577.8 L497.4,577.8 L498.2,577.8 L498.9,577.9 L499.7,577.9 L500.5,577.9 L501.2,577.9 L502.0,577.9 L502.8,577.9 L503.6,578.0 L504.3,578.0 L505.1,578.0 L505.9,578.0 L506.6,578.0 L507.4,578.0 L508.2,578.0 L508.9,578.0 L509.7,578.0 L509.70,577.96 L455.90,577.96 Z" fill="#7b9dc0" stroke="none" stroke-width="1" fill-opacity="0.8" style="mix-blend-mode:multiply"/>
<path d="M455.9,578.0 L456.7,578.0 L457.4,578.0 L458.2,578.0 L459.0,578.0 L459.7,578.0 L460.5,578.0 L461.3,578.0 L462.0,577.9 L462.8,577.9 L463.6,577.8 L464.4,577.7 L465.1,577.3 L465.9,576.6 L466.7,575.4 L467.4,573.6 L468.2,571.4 L469.0,568.8 L469.7,566.5 L470.5,564.9 L471.3,564.5 L472.0,565.0 L472.8,566.2 L473.6,567.6 L474.3,568.9 L475.1,569.8 L475.9,570.3 L476.7,570.4 L477.4,570.5 L478.2,570.7 L479.0,570.9 L479.7,571.1 L480.5,571.4 L481.3,571.7 L482.0,572.0 L482.8,572.4 L483.6,572.9 L484.3,573.3 L485.1,573.8 L485.9,574.2 L486.6,574.7 L487.4,575.1 L488.2,575.5 L488.9,575.9 L489.7,576.2 L490.5,576.5 L491.3,576.8 L492.0,577.0 L492.8,577.2 L493.6,577.4 L494.3,577.5 L495.1,577.6 L495.9,577.7 L496.6,577.8 L497.4,577.8 L498.2,577.8 L498.9,577.9 L499.7,577.9 L500.5,577.9 L501.2,577.9 L502.0,577.9 L502.8,577.9 L503.6,578.0 L504.3,578.0 L505.1,578.0 L505.9,578.0 L506.6,578.0 L507.4,578.0 L508.2,578.0 L508.9,578.0 L509.7,578.0" fill="none" stroke="#3a6f9f" stroke-width="1.15"/>
<path d="M455.9,585.8 L456.7,585.8 L457.4,585.8 L458.2,585.8 L459.0,585.8 L459.7,585.8 L460.5,585.8 L461.3,585.8 L462.0,585.8 L462.8,585.8 L463.6,585.7 L464.4,585.5 L465.1,585.2 L465.9,584.8 L466.7,584.0 L467.4,582.9 L468.2,581.4 L469.0,579.6 L469.7,577.5 L470.5,575.5 L471.3,573.6 L472.0,572.4 L472.8,571.8 L473.6,572.0 L474.3,572.6 L475.1,573.7 L475.9,575.0 L476.7,576.4 L477.4,578.0 L478.2,579.5 L479.0,580.9 L479.7,582.1 L480.5,583.1 L481.3,583.9 L482.0,584.5 L482.8,585.0 L483.6,585.3 L484.3,585.5 L485.1,585.6 L485.9,585.7 L486.6,585.8 L487.4,585.8 L488.2,585.8 L488.9,585.8 L489.7,585.8 L490.5,585.8 L491.3,585.8 L492.0,585.8 L492.8,585.8 L493.6,585.8 L494.3,585.8 L495.1,585.8 L495.9,585.8 L496.6,585.8 L497.4,585.8 L498.2,585.8 L498.9,585.8 L499.7,585.8 L500.5,585.8 L501.2,585.8 L502.0,585.8 L502.8,585.8 L503.6,585.8 L504.3,585.8 L505.1,585.8 L505.9,585.8 L506.6,585.8 L507.4,585.8 L508.2,585.8 L508.9,585.8 L509.7,585.8 L509.70,585.84 L455.90,585.84 Z" fill="#9f7db5" stroke="none" stroke-width="1" fill-opacity="0.8" style="mix-blend-mode:multiply"/>
<path d="M455.9,585.8 L456.7,585.8 L457.4,585.8 L458.2,585.8 L459.0,585.8 L459.7,585.8 L460.5,585.8 L461.3,585.8 L462.0,585.8 L462.8,585.8 L463.6,585.7 L464.4,585.5 L465.1,585.2 L465.9,584.8 L466.7,584.0 L467.4,582.9 L468.2,581.4 L469.0,579.6 L469.7,577.5 L470.5,575.5 L471.3,573.6 L472.0,572.4 L472.8,571.8 L473.6,572.0 L474.3,572.6 L475.1,573.7 L475.9,575.0 L476.7,576.4 L477.4,578.0 L478.2,579.5 L479.0,580.9 L479.7,582.1 L480.5,583.1 L481.3,583.9 L482.0,584.5 L482.8,585.0 L483.6,585.3 L484.3,585.5 L485.1,585.6 L485.9,585.7 L486.6,585.8 L487.4,585.8 L488.2,585.8 L488.9,585.8 L489.7,585.8 L490.5,585.8 L491.3,585.8 L492.0,585.8 L492.8,585.8 L493.6,585.8 L494.3,585.8 L495.1,585.8 L495.9,585.8 L496.6,585.8 L497.4,585.8 L498.2,585.8 L498.9,585.8 L499.7,585.8 L500.5,585.8 L501.2,585.8 L502.0,585.8 L502.8,585.8 L503.6,585.8 L504.3,585.8 L505.1,585.8 L505.9,585.8 L506.6,585.8 L507.4,585.8 L508.2,585.8 L508.9,585.8 L509.7,585.8" fill="none" stroke="#7b4c93" stroke-width="1.15"/>
<path d="M455.9,593.7 L456.7,593.7 L457.4,593.7 L458.2,593.7 L459.0,593.7 L459.7,593.7 L460.5,593.7 L461.3,593.7 L462.0,593.7 L462.8,593.7 L463.6,593.7 L464.4,593.7 L465.1,593.7 L465.9,593.7 L466.7,593.7 L467.4,593.7 L468.2,593.7 L469.0,593.7 L469.7,593.7 L470.5,593.6 L471.3,593.5 L472.0,593.3 L472.8,593.0 L473.6,592.4 L474.3,591.7 L475.1,590.6 L475.9,589.2 L476.7,587.5 L477.4,585.7 L478.2,583.7 L479.0,582.0 L479.7,580.5 L480.5,579.7 L481.3,579.5 L482.0,580.0 L482.8,581.3 L483.6,583.0 L484.3,584.8 L485.1,586.4 L485.9,587.7 L486.6,588.5 L487.4,589.0 L488.2,589.1 L488.9,589.1 L489.7,589.1 L490.5,589.1 L491.3,589.2 L492.0,589.5 L492.8,589.8 L493.6,590.1 L494.3,590.6 L495.1,591.0 L495.9,591.5 L496.6,591.9 L497.4,592.3 L498.2,592.7 L498.9,592.9 L499.7,593.2 L500.5,593.3 L501.2,593.5 L502.0,593.5 L502.8,593.6 L503.6,593.7 L504.3,593.7 L505.1,593.7 L505.9,593.7 L506.6,593.7 L507.4,593.7 L508.2,593.7 L508.9,593.7 L509.7,593.7 L509.70,593.72 L455.90,593.72 Z" fill="#9cd79b" stroke="none" stroke-width="1" fill-opacity="0.8" style="mix-blend-mode:multiply"/>
<path d="M455.9,593.7 L456.7,593.7 L457.4,593.7 L458.2,593.7 L459.0,593.7 L459.7,593.7 L460.5,593.7 L461.3,593.7 L462.0,593.7 L462.8,593.7 L463.6,593.7 L464.4,593.7 L465.1,593.7 L465.9,593.7 L466.7,593.7 L467.4,593.7 L468.2,593.7 L469.0,593.7 L469.7,593.7 L470.5,593.6 L471.3,593.5 L472.0,593.3 L472.8,593.0 L473.6,592.4 L474.3,591.7 L475.1,590.6 L475.9,589.2 L476.7,587.5 L477.4,585.7 L478.2,583.7 L479.0,582.0 L479.7,580.5 L480.5,579.7 L481.3,579.5 L482.0,580.0 L482.8,581.3 L483.6,583.0 L484.3,584.8 L485.1,586.4 L485.9,587.7 L486.6,588.5 L487.4,589.0 L488.2,589.1 L488.9,589.1 L489.7,589.1 L490.5,589.1 L491.3,589.2 L492.0,589.5 L492.8,589.8 L493.6,590.1 L494.3,590.6 L495.1,591.0 L495.9,591.5 L496.6,591.9 L497.4,592.3 L498.2,592.7 L498.9,592.9 L499.7,593.2 L500.5,593.3 L501.2,593.5 L502.0,593.5 L502.8,593.6 L503.6,593.7 L504.3,593.7 L505.1,593.7 L505.9,593.7 L506.6,593.7 L507.4,593.7 L508.2,593.7 L508.9,593.7 L509.7,593.7" fill="none" stroke="#5cc25f" stroke-width="1.15"/>
<path d="M455.9,601.6 L456.7,601.6 L457.4,601.6 L458.2,601.6 L459.0,601.6 L459.7,601.6 L460.5,601.6 L461.3,601.6 L462.0,601.6 L462.8,601.6 L463.6,601.6 L464.4,601.6 L465.1,601.6 L465.9,601.6 L466.7,601.6 L467.4,601.6 L468.2,601.6 L469.0,601.6 L469.7,601.5 L470.5,601.5 L471.3,601.3 L472.0,601.0 L472.8,600.6 L473.6,599.9 L474.3,598.9 L475.1,597.5 L475.9,595.7 L476.7,593.7 L477.4,591.6 L478.2,589.6 L479.0,588.1 L479.7,587.2 L480.5,587.0 L481.3,587.3 L482.0,587.9 L482.8,588.7 L483.6,589.8 L484.3,591.0 L485.1,592.2 L485.9,593.6 L486.6,594.8 L487.4,596.0 L488.2,597.1 L488.9,598.1 L489.7,598.9 L490.5,599.5 L491.3,600.1 L492.0,600.5 L492.8,600.8 L493.6,601.1 L494.3,601.2 L495.1,601.4 L495.9,601.4 L496.6,601.5 L497.4,601.5 L498.2,601.6 L498.9,601.6 L499.7,601.6 L500.5,601.6 L501.2,601.6 L502.0,601.6 L502.8,601.6 L503.6,601.6 L504.3,601.6 L505.1,601.6 L505.9,601.6 L506.6,601.6 L507.4,601.6 L508.2,601.6 L508.9,601.6 L509.7,601.6 L509.70,601.60 L455.90,601.60 Z" fill="#58a083" stroke="none" stroke-width="1" fill-opacity="0.8" style="mix-blend-mode:multiply"/>
<path d="M455.9,601.6 L456.7,601.6 L457.4,601.6 L458.2,601.6 L459.0,601.6 L459.7,601.6 L460.5,601.6 L461.3,601.6 L462.0,601.6 L462.8,601.6 L463.6,601.6 L464.4,601.6 L465.1,601.6 L465.9,601.6 L466.7,601.6 L467.4,601.6 L468.2,601.6 L469.0,601.6 L469.7,601.5 L470.5,601.5 L471.3,601.3 L472.0,601.0 L472.8,600.6 L473.6,599.9 L474.3,598.9 L475.1,597.5 L475.9,595.7 L476.7,593.7 L477.4,591.6 L478.2,589.6 L479.0,588.1 L479.7,587.2 L480.5,587.0 L481.3,587.3 L482.0,587.9 L482.8,588.7 L483.6,589.8 L484.3,591.0 L485.1,592.2 L485.9,593.6 L486.6,594.8 L487.4,596.0 L488.2,597.1 L488.9,598.1 L489.7,598.9 L490.5,599.5 L491.3,600.1 L492.0,600.5 L492.8,600.8 L493.6,601.1 L494.3,601.2 L495.1,601.4 L495.9,601.4 L496.6,601.5 L497.4,601.5 L498.2,601.6 L498.9,601.6 L499.7,601.6 L500.5,601.6 L501.2,601.6 L502.0,601.6 L502.8,601.6 L503.6,601.6 L504.3,601.6 L505.1,601.6 L505.9,601.6 L506.6,601.6 L507.4,601.6 L508.2,601.6 L508.9,601.6 L509.7,601.6" fill="none" stroke="#23785a" stroke-width="1.15"/>
<rect x="455.40" y="545.70" width="54.80" height="55.90" fill="none" stroke="#231f20" stroke-width="1.2"/>
<line x1="453.00" y1="545.70" x2="455.40" y2="545.70" stroke="#231f20" stroke-width="0.6"/>
<line x1="453.00" y1="547.70" x2="455.40" y2="547.70" stroke="#231f20" stroke-width="0.6"/>
<line x1="453.00" y1="549.69" x2="455.40" y2="549.69" stroke="#231f20" stroke-width="0.6"/>
<line x1="453.00" y1="551.69" x2="455.40" y2="551.69" stroke="#231f20" stroke-width="0.6"/>
<line x1="453.00" y1="553.69" x2="455.40" y2="553.69" stroke="#231f20" stroke-width="0.6"/>
<line x1="453.00" y1="555.68" x2="455.40" y2="555.68" stroke="#231f20" stroke-width="0.6"/>
<line x1="453.00" y1="557.68" x2="455.40" y2="557.68" stroke="#231f20" stroke-width="0.6"/>
<line x1="453.00" y1="559.68" x2="455.40" y2="559.68" stroke="#231f20" stroke-width="0.6"/>
<line x1="453.00" y1="561.67" x2="455.40" y2="561.67" stroke="#231f20" stroke-width="0.6"/>
<line x1="453.00" y1="563.67" x2="455.40" y2="563.67" stroke="#231f20" stroke-width="0.6"/>
<line x1="453.00" y1="565.66" x2="455.40" y2="565.66" stroke="#231f20" stroke-width="0.6"/>
<line x1="453.00" y1="567.66" x2="455.40" y2="567.66" stroke="#231f20" stroke-width="0.6"/>
<line x1="453.00" y1="569.66" x2="455.40" y2="569.66" stroke="#231f20" stroke-width="0.6"/>
<line x1="453.00" y1="571.65" x2="455.40" y2="571.65" stroke="#231f20" stroke-width="0.6"/>
<line x1="453.00" y1="573.65" x2="455.40" y2="573.65" stroke="#231f20" stroke-width="0.6"/>
<line x1="453.00" y1="575.65" x2="455.40" y2="575.65" stroke="#231f20" stroke-width="0.6"/>
<line x1="453.00" y1="577.64" x2="455.40" y2="577.64" stroke="#231f20" stroke-width="0.6"/>
<line x1="453.00" y1="579.64" x2="455.40" y2="579.64" stroke="#231f20" stroke-width="0.6"/>
<line x1="453.00" y1="581.64" x2="455.40" y2="581.64" stroke="#231f20" stroke-width="0.6"/>
<line x1="453.00" y1="583.63" x2="455.40" y2="583.63" stroke="#231f20" stroke-width="0.6"/>
<line x1="453.00" y1="585.63" x2="455.40" y2="585.63" stroke="#231f20" stroke-width="0.6"/>
<line x1="453.00" y1="587.62" x2="455.40" y2="587.62" stroke="#231f20" stroke-width="0.6"/>
<line x1="453.00" y1="589.62" x2="455.40" y2="589.62" stroke="#231f20" stroke-width="0.6"/>
<line x1="453.00" y1="591.62" x2="455.40" y2="591.62" stroke="#231f20" stroke-width="0.6"/>
<line x1="453.00" y1="593.61" x2="455.40" y2="593.61" stroke="#231f20" stroke-width="0.6"/>
<line x1="453.00" y1="595.61" x2="455.40" y2="595.61" stroke="#231f20" stroke-width="0.6"/>
<line x1="453.00" y1="597.61" x2="455.40" y2="597.61" stroke="#231f20" stroke-width="0.6"/>
<line x1="453.00" y1="599.60" x2="455.40" y2="599.60" stroke="#231f20" stroke-width="0.6"/>
<line x1="453.00" y1="601.60" x2="455.40" y2="601.60" stroke="#231f20" stroke-width="0.6"/>
<line x1="455.40" y1="601.60" x2="455.40" y2="604.60" stroke="#231f20" stroke-width="0.7"/>
<line x1="459.52" y1="601.60" x2="459.52" y2="603.50" stroke="#231f20" stroke-width="0.7"/>
<line x1="461.94" y1="601.60" x2="461.94" y2="603.50" stroke="#231f20" stroke-width="0.7"/>
<line x1="463.65" y1="601.60" x2="463.65" y2="603.50" stroke="#231f20" stroke-width="0.7"/>
<line x1="464.98" y1="601.60" x2="464.98" y2="603.50" stroke="#231f20" stroke-width="0.7"/>
<line x1="466.06" y1="601.60" x2="466.06" y2="603.50" stroke="#231f20" stroke-width="0.7"/>
<line x1="466.98" y1="601.60" x2="466.98" y2="603.50" stroke="#231f20" stroke-width="0.7"/>
<line x1="467.77" y1="601.60" x2="467.77" y2="603.50" stroke="#231f20" stroke-width="0.7"/>
<line x1="468.47" y1="601.60" x2="468.47" y2="603.50" stroke="#231f20" stroke-width="0.7"/>
<line x1="469.10" y1="601.60" x2="469.10" y2="604.60" stroke="#231f20" stroke-width="0.7"/>
<line x1="473.22" y1="601.60" x2="473.22" y2="603.50" stroke="#231f20" stroke-width="0.7"/>
<line x1="475.64" y1="601.60" x2="475.64" y2="603.50" stroke="#231f20" stroke-width="0.7"/>
<line x1="477.35" y1="601.60" x2="477.35" y2="603.50" stroke="#231f20" stroke-width="0.7"/>
<line x1="478.68" y1="601.60" x2="478.68" y2="603.50" stroke="#231f20" stroke-width="0.7"/>
<line x1="479.76" y1="601.60" x2="479.76" y2="603.50" stroke="#231f20" stroke-width="0.7"/>
<line x1="480.68" y1="601.60" x2="480.68" y2="603.50" stroke="#231f20" stroke-width="0.7"/>
<line x1="481.47" y1="601.60" x2="481.47" y2="603.50" stroke="#231f20" stroke-width="0.7"/>
<line x1="482.17" y1="601.60" x2="482.17" y2="603.50" stroke="#231f20" stroke-width="0.7"/>
<line x1="482.80" y1="601.60" x2="482.80" y2="604.60" stroke="#231f20" stroke-width="0.7"/>
<line x1="486.92" y1="601.60" x2="486.92" y2="603.50" stroke="#231f20" stroke-width="0.7"/>
<line x1="489.34" y1="601.60" x2="489.34" y2="603.50" stroke="#231f20" stroke-width="0.7"/>
<line x1="491.05" y1="601.60" x2="491.05" y2="603.50" stroke="#231f20" stroke-width="0.7"/>
<line x1="492.38" y1="601.60" x2="492.38" y2="603.50" stroke="#231f20" stroke-width="0.7"/>
<line x1="493.46" y1="601.60" x2="493.46" y2="603.50" stroke="#231f20" stroke-width="0.7"/>
<line x1="494.38" y1="601.60" x2="494.38" y2="603.50" stroke="#231f20" stroke-width="0.7"/>
<line x1="495.17" y1="601.60" x2="495.17" y2="603.50" stroke="#231f20" stroke-width="0.7"/>
<line x1="495.87" y1="601.60" x2="495.87" y2="603.50" stroke="#231f20" stroke-width="0.7"/>
<line x1="496.50" y1="601.60" x2="496.50" y2="604.60" stroke="#231f20" stroke-width="0.7"/>
<line x1="500.62" y1="601.60" x2="500.62" y2="603.50" stroke="#231f20" stroke-width="0.7"/>
<line x1="503.04" y1="601.60" x2="503.04" y2="603.50" stroke="#231f20" stroke-width="0.7"/>
<line x1="504.75" y1="601.60" x2="504.75" y2="603.50" stroke="#231f20" stroke-width="0.7"/>
<line x1="506.08" y1="601.60" x2="506.08" y2="603.50" stroke="#231f20" stroke-width="0.7"/>
<line x1="507.16" y1="601.60" x2="507.16" y2="603.50" stroke="#231f20" stroke-width="0.7"/>
<line x1="508.08" y1="601.60" x2="508.08" y2="603.50" stroke="#231f20" stroke-width="0.7"/>
<line x1="508.87" y1="601.60" x2="508.87" y2="603.50" stroke="#231f20" stroke-width="0.7"/>
<line x1="509.57" y1="601.60" x2="509.57" y2="603.50" stroke="#231f20" stroke-width="0.7"/>
<line x1="510.20" y1="601.60" x2="510.20" y2="604.60" stroke="#231f20" stroke-width="0.7"/>
<text x="454.80" y="613.70" font-size="8.4" textLength="24.8" lengthAdjust="spacingAndGlyphs" fill="#231f20" stroke="#231f20" stroke-width="0.22">GATA3</text>
<line x1="482.00" y1="610.80" x2="507.30" y2="610.80" stroke="#231f20" stroke-width="1.1"/>
<path d="M511.40,610.80 L506.80,608.70 L506.80,612.90 Z" fill="#231f20" stroke="none" stroke-width="1"/>
<path d="M454.9,637.3 L455.7,637.3 L456.5,637.3 L457.2,637.3 L458.0,637.3 L458.8,637.3 L459.6,637.3 L460.4,637.3 L461.2,637.3 L461.9,637.3 L462.7,637.3 L463.5,637.3 L464.3,637.3 L465.1,637.3 L465.9,637.3 L466.6,637.3 L467.4,637.3 L468.2,637.3 L469.0,637.3 L469.8,637.3 L470.6,637.3 L471.3,637.3 L472.1,637.3 L472.9,637.3 L473.7,637.2 L474.5,637.2 L475.3,637.1 L476.0,636.9 L476.8,636.5 L477.6,636.0 L478.4,635.2 L479.2,634.1 L480.0,632.6 L480.7,630.8 L481.5,628.8 L482.3,626.7 L483.1,624.9 L483.9,623.5 L484.6,622.8 L485.4,622.8 L486.2,623.5 L487.0,624.8 L487.8,626.5 L488.6,628.4 L489.3,630.3 L490.1,632.1 L490.9,633.6 L491.7,634.8 L492.5,635.7 L493.3,636.3 L494.0,636.7 L494.8,637.0 L495.6,637.1 L496.4,637.2 L497.2,637.3 L498.0,637.3 L498.7,637.3 L499.5,637.3 L500.3,637.3 L501.1,637.3 L501.9,637.3 L502.7,637.3 L503.4,637.3 L504.2,637.3 L505.0,637.3 L505.8,637.3 L506.6,637.3 L507.4,637.3 L508.1,637.3 L508.9,637.3 L509.7,637.3 L509.70,637.30 L454.90,637.30 Z" fill="#df8393" stroke="none" stroke-width="1" fill-opacity="0.8" style="mix-blend-mode:multiply"/>
<path d="M454.9,637.3 L455.7,637.3 L456.5,637.3 L457.2,637.3 L458.0,637.3 L458.8,637.3 L459.6,637.3 L460.4,637.3 L461.2,637.3 L461.9,637.3 L462.7,637.3 L463.5,637.3 L464.3,637.3 L465.1,637.3 L465.9,637.3 L466.6,637.3 L467.4,637.3 L468.2,637.3 L469.0,637.3 L469.8,637.3 L470.6,637.3 L471.3,637.3 L472.1,637.3 L472.9,637.3 L473.7,637.2 L474.5,637.2 L475.3,637.1 L476.0,636.9 L476.8,636.5 L477.6,636.0 L478.4,635.2 L479.2,634.1 L480.0,632.6 L480.7,630.8 L481.5,628.8 L482.3,626.7 L483.1,624.9 L483.9,623.5 L484.6,622.8 L485.4,622.8 L486.2,623.5 L487.0,624.8 L487.8,626.5 L488.6,628.4 L489.3,630.3 L490.1,632.1 L490.9,633.6 L491.7,634.8 L492.5,635.7 L493.3,636.3 L494.0,636.7 L494.8,637.0 L495.6,637.1 L496.4,637.2 L497.2,637.3 L498.0,637.3 L498.7,637.3 L499.5,637.3 L500.3,637.3 L501.1,637.3 L501.9,637.3 L502.7,637.3 L503.4,637.3 L504.2,637.3 L505.0,637.3 L505.8,637.3 L506.6,637.3 L507.4,637.3 L508.1,637.3 L508.9,637.3 L509.7,637.3" fill="none" stroke="#d2435f" stroke-width="1.15"/>
<path d="M454.9,645.2 L455.7,645.2 L456.5,645.2 L457.2,645.2 L458.0,645.2 L458.8,645.2 L459.6,645.2 L460.4,645.2 L461.2,645.2 L461.9,645.2 L462.7,645.2 L463.5,645.2 L464.3,645.2 L465.1,645.2 L465.9,645.2 L466.6,645.2 L467.4,645.2 L468.2,645.2 L469.0,645.2 L469.8,645.2 L470.6,645.2 L471.3,645.2 L472.1,645.2 L472.9,645.2 L473.7,645.2 L474.5,645.1 L475.3,645.0 L476.0,644.8 L476.8,644.5 L477.6,644.0 L478.4,643.2 L479.2,642.1 L480.0,640.6 L480.7,638.9 L481.5,636.9 L482.3,634.9 L483.1,633.2 L483.9,631.8 L484.6,631.1 L485.4,631.1 L486.2,631.8 L487.0,633.1 L487.8,634.7 L488.6,636.6 L489.3,638.4 L490.1,640.1 L490.9,641.6 L491.7,642.7 L492.5,643.6 L493.3,644.2 L494.0,644.6 L494.8,644.9 L495.6,645.0 L496.4,645.1 L497.2,645.2 L498.0,645.2 L498.7,645.2 L499.5,645.2 L500.3,645.2 L501.1,645.2 L501.9,645.2 L502.7,645.2 L503.4,645.2 L504.2,645.2 L505.0,645.2 L505.8,645.2 L506.6,645.2 L507.4,645.2 L508.1,645.2 L508.9,645.2 L509.7,645.2 L509.70,645.22 L454.90,645.22 Z" fill="#f6b868" stroke="none" stroke-width="1" fill-opacity="0.8" style="mix-blend-mode:multiply"/>
<path d="M454.9,645.2 L455.7,645.2 L456.5,645.2 L457.2,645.2 L458.0,645.2 L458.8,645.2 L459.6,645.2 L460.4,645.2 L461.2,645.2 L461.9,645.2 L462.7,645.2 L463.5,645.2 L464.3,645.2 L465.1,645.2 L465.9,645.2 L466.6,645.2 L467.4,645.2 L468.2,645.2 L469.0,645.2 L469.8,645.2 L470.6,645.2 L471.3,645.2 L472.1,645.2 L472.9,645.2 L473.7,645.2 L474.5,645.1 L475.3,645.0 L476.0,644.8 L476.8,644.5 L477.6,644.0 L478.4,643.2 L479.2,642.1 L480.0,640.6 L480.7,638.9 L481.5,636.9 L482.3,634.9 L483.1,633.2 L483.9,631.8 L484.6,631.1 L485.4,631.1 L486.2,631.8 L487.0,633.1 L487.8,634.7 L488.6,636.6 L489.3,638.4 L490.1,640.1 L490.9,641.6 L491.7,642.7 L492.5,643.6 L493.3,644.2 L494.0,644.6 L494.8,644.9 L495.6,645.0 L496.4,645.1 L497.2,645.2 L498.0,645.2 L498.7,645.2 L499.5,645.2 L500.3,645.2 L501.1,645.2 L501.9,645.2 L502.7,645.2 L503.4,645.2 L504.2,645.2 L505.0,645.2 L505.8,645.2 L506.6,645.2 L507.4,645.2 L508.1,645.2 L508.9,645.2 L509.7,645.2" fill="none" stroke="#f3a23a" stroke-width="1.15"/>
<path d="M454.9,653.1 L455.7,653.1 L456.5,653.1 L457.2,653.1 L458.0,653.1 L458.8,653.1 L459.6,653.1 L460.4,653.1 L461.2,653.1 L461.9,653.1 L462.7,653.1 L463.5,653.1 L464.3,653.1 L465.1,653.1 L465.9,653.1 L466.6,653.1 L467.4,653.1 L468.2,653.1 L469.0,653.1 L469.8,653.1 L470.6,653.1 L471.3,653.1 L472.1,653.1 L472.9,653.1 L473.7,653.0 L474.5,652.9 L475.3,652.7 L476.0,652.3 L476.8,651.7 L477.6,650.9 L478.4,649.7 L479.2,648.2 L480.0,646.5 L480.7,644.5 L481.5,642.6 L482.3,641.0 L483.1,639.8 L483.9,639.4 L484.6,639.6 L485.4,640.4 L486.2,641.7 L487.0,643.4 L487.8,645.2 L488.6,647.0 L489.3,648.6 L490.1,650.0 L490.9,651.0 L491.7,651.8 L492.5,652.3 L493.3,652.7 L494.0,652.9 L494.8,653.0 L495.6,653.1 L496.4,653.1 L497.2,653.1 L498.0,653.1 L498.7,653.1 L499.5,653.1 L500.3,653.1 L501.1,653.1 L501.9,653.1 L502.7,653.1 L503.4,653.1 L504.2,653.1 L505.0,653.1 L505.8,653.1 L506.6,653.1 L507.4,653.1 L508.1,653.1 L508.9,653.1 L509.7,653.1 L509.70,653.14 L454.90,653.14 Z" fill="#7b9dc0" stroke="none" stroke-width="1" fill-opacity="0.8" style="mix-blend-mode:multiply"/>
<path d="M454.9,653.1 L455.7,653.1 L456.5,653.1 L457.2,653.1 L458.0,653.1 L458.8,653.1 L459.6,653.1 L460.4,653.1 L461.2,653.1 L461.9,653.1 L462.7,653.1 L463.5,653.1 L464.3,653.1 L465.1,653.1 L465.9,653.1 L466.6,653.1 L467.4,653.1 L468.2,653.1 L469.0,653.1 L469.8,653.1 L470.6,653.1 L471.3,653.1 L472.1,653.1 L472.9,653.1 L473.7,653.0 L474.5,652.9 L475.3,652.7 L476.0,652.3 L476.8,651.7 L477.6,650.9 L478.4,649.7 L479.2,648.2 L480.0,646.5 L480.7,644.5 L481.5,642.6 L482.3,641.0 L483.1,639.8 L483.9,639.4 L484.6,639.6 L485.4,640.4 L486.2,641.7 L487.0,643.4 L487.8,645.2 L488.6,647.0 L489.3,648.6 L490.1,650.0 L490.9,651.0 L491.7,651.8 L492.5,652.3 L493.3,652.7 L494.0,652.9 L494.8,653.0 L495.6,653.1 L496.4,653.1 L497.2,653.1 L498.0,653.1 L498.7,653.1 L499.5,653.1 L500.3,653.1 L501.1,653.1 L501.9,653.1 L502.7,653.1 L503.4,653.1 L504.2,653.1 L505.0,653.1 L505.8,653.1 L506.6,653.1 L507.4,653.1 L508.1,653.1 L508.9,653.1 L509.7,653.1" fill="none" stroke="#3a6f9f" stroke-width="1.15"/>
<path d="M454.9,661.1 L455.7,661.1 L456.5,661.1 L457.2,661.1 L458.0,661.1 L458.8,661.1 L459.6,661.1 L460.4,661.1 L461.2,661.1 L461.9,661.1 L462.7,661.1 L463.5,661.1 L464.3,661.1 L465.1,661.1 L465.9,661.1 L466.6,661.1 L467.4,661.1 L468.2,661.1 L469.0,661.1 L469.8,661.1 L470.6,661.1 L471.3,661.1 L472.1,661.0 L472.9,661.0 L473.7,661.0 L474.5,660.9 L475.3,660.7 L476.0,660.5 L476.8,660.0 L477.6,659.4 L478.4,658.4 L479.2,657.1 L480.0,655.5 L480.7,653.6 L481.5,651.6 L482.3,649.8 L483.1,648.3 L483.9,647.3 L484.6,647.1 L485.4,647.5 L486.2,648.4 L487.0,649.8 L487.8,651.4 L488.6,653.1 L489.3,654.8 L490.1,656.4 L490.9,657.7 L491.7,658.7 L492.5,659.5 L493.3,660.1 L494.0,660.5 L494.8,660.7 L495.6,660.9 L496.4,661.0 L497.2,661.0 L498.0,661.0 L498.7,661.0 L499.5,661.1 L500.3,661.1 L501.1,661.1 L501.9,661.1 L502.7,661.1 L503.4,661.1 L504.2,661.1 L505.0,661.1 L505.8,661.1 L506.6,661.1 L507.4,661.1 L508.1,661.1 L508.9,661.1 L509.7,661.1 L509.70,661.06 L454.90,661.06 Z" fill="#9f7db5" stroke="none" stroke-width="1" fill-opacity="0.8" style="mix-blend-mode:multiply"/>
<path d="M454.9,661.1 L455.7,661.1 L456.5,661.1 L457.2,661.1 L458.0,661.1 L458.8,661.1 L459.6,661.1 L460.4,661.1 L461.2,661.1 L461.9,661.1 L462.7,661.1 L463.5,661.1 L464.3,661.1 L465.1,661.1 L465.9,661.1 L466.6,661.1 L467.4,661.1 L468.2,661.1 L469.0,661.1 L469.8,661.1 L470.6,661.1 L471.3,661.1 L472.1,661.0 L472.9,661.0 L473.7,661.0 L474.5,660.9 L475.3,660.7 L476.0,660.5 L476.8,660.0 L477.6,659.4 L478.4,658.4 L479.2,657.1 L480.0,655.5 L480.7,653.6 L481.5,651.6 L482.3,649.8 L483.1,648.3 L483.9,647.3 L484.6,647.1 L485.4,647.5 L486.2,648.4 L487.0,649.8 L487.8,651.4 L488.6,653.1 L489.3,654.8 L490.1,656.4 L490.9,657.7 L491.7,658.7 L492.5,659.5 L493.3,660.1 L494.0,660.5 L494.8,660.7 L495.6,660.9 L496.4,661.0 L497.2,661.0 L498.0,661.0 L498.7,661.0 L499.5,661.1 L500.3,661.1 L501.1,661.1 L501.9,661.1 L502.7,661.1 L503.4,661.1 L504.2,661.1 L505.0,661.1 L505.8,661.1 L506.6,661.1 L507.4,661.1 L508.1,661.1 L508.9,661.1 L509.7,661.1" fill="none" stroke="#7b4c93" stroke-width="1.15"/>
<path d="M454.9,669.0 L455.7,669.0 L456.5,669.0 L457.2,669.0 L458.0,669.0 L458.8,669.0 L459.6,669.0 L460.4,669.0 L461.2,669.0 L461.9,669.0 L462.7,669.0 L463.5,669.0 L464.3,669.0 L465.1,669.0 L465.9,668.9 L466.6,668.9 L467.4,668.8 L468.2,668.6 L469.0,668.4 L469.8,668.0 L470.6,667.4 L471.3,666.6 L472.1,665.6 L472.9,664.3 L473.7,662.8 L474.5,661.2 L475.3,659.6 L476.0,658.1 L476.8,656.9 L477.6,656.1 L478.4,655.8 L479.2,656.1 L480.0,657.0 L480.7,658.3 L481.5,659.9 L482.3,661.7 L483.1,663.4 L483.9,664.9 L484.6,666.1 L485.4,667.1 L486.2,667.8 L487.0,668.2 L487.8,668.6 L488.6,668.7 L489.3,668.9 L490.1,668.9 L490.9,669.0 L491.7,669.0 L492.5,669.0 L493.3,669.0 L494.0,669.0 L494.8,669.0 L495.6,669.0 L496.4,669.0 L497.2,669.0 L498.0,669.0 L498.7,669.0 L499.5,669.0 L500.3,669.0 L501.1,669.0 L501.9,669.0 L502.7,669.0 L503.4,669.0 L504.2,669.0 L505.0,669.0 L505.8,669.0 L506.6,669.0 L507.4,669.0 L508.1,669.0 L508.9,669.0 L509.7,669.0 L509.70,668.98 L454.90,668.98 Z" fill="#9cd79b" stroke="none" stroke-width="1" fill-opacity="0.8" style="mix-blend-mode:multiply"/>
<path d="M454.9,669.0 L455.7,669.0 L456.5,669.0 L457.2,669.0 L458.0,669.0 L458.8,669.0 L459.6,669.0 L460.4,669.0 L461.2,669.0 L461.9,669.0 L462.7,669.0 L463.5,669.0 L464.3,669.0 L465.1,669.0 L465.9,668.9 L466.6,668.9 L467.4,668.8 L468.2,668.6 L469.0,668.4 L469.8,668.0 L470.6,667.4 L471.3,666.6 L472.1,665.6 L472.9,664.3 L473.7,662.8 L474.5,661.2 L475.3,659.6 L476.0,658.1 L476.8,656.9 L477.6,656.1 L478.4,655.8 L479.2,656.1 L480.0,657.0 L480.7,658.3 L481.5,659.9 L482.3,661.7 L483.1,663.4 L483.9,664.9 L484.6,666.1 L485.4,667.1 L486.2,667.8 L487.0,668.2 L487.8,668.6 L488.6,668.7 L489.3,668.9 L490.1,668.9 L490.9,669.0 L491.7,669.0 L492.5,669.0 L493.3,669.0 L494.0,669.0 L494.8,669.0 L495.6,669.0 L496.4,669.0 L497.2,669.0 L498.0,669.0 L498.7,669.0 L499.5,669.0 L500.3,669.0 L501.1,669.0 L501.9,669.0 L502.7,669.0 L503.4,669.0 L504.2,669.0 L505.0,669.0 L505.8,669.0 L506.6,669.0 L507.4,669.0 L508.1,669.0 L508.9,669.0 L509.7,669.0" fill="none" stroke="#5cc25f" stroke-width="1.15"/>
<path d="M454.9,676.9 L455.7,676.9 L456.5,676.9 L457.2,676.9 L458.0,676.9 L458.8,676.9 L459.6,676.9 L460.4,676.9 L461.2,676.9 L461.9,676.9 L462.7,676.9 L463.5,676.9 L464.3,676.9 L465.1,676.9 L465.9,676.9 L466.6,676.9 L467.4,676.9 L468.2,676.9 L469.0,676.9 L469.8,676.8 L470.6,676.8 L471.3,676.6 L472.1,676.4 L472.9,675.9 L473.7,675.3 L474.5,674.4 L475.3,673.1 L476.0,671.5 L476.8,669.6 L477.6,667.6 L478.4,665.7 L479.2,664.1 L480.0,663.0 L480.7,662.7 L481.5,663.0 L482.3,663.9 L483.1,665.2 L483.9,666.8 L484.6,668.6 L485.4,670.3 L486.2,671.9 L487.0,673.3 L487.8,674.4 L488.6,675.2 L489.3,675.8 L490.1,676.2 L490.9,676.5 L491.7,676.7 L492.5,676.8 L493.3,676.8 L494.0,676.9 L494.8,676.9 L495.6,676.9 L496.4,676.9 L497.2,676.9 L498.0,676.9 L498.7,676.9 L499.5,676.9 L500.3,676.9 L501.1,676.9 L501.9,676.9 L502.7,676.9 L503.4,676.9 L504.2,676.9 L505.0,676.9 L505.8,676.9 L506.6,676.9 L507.4,676.9 L508.1,676.9 L508.9,676.9 L509.7,676.9 L509.70,676.90 L454.90,676.90 Z" fill="#58a083" stroke="none" stroke-width="1" fill-opacity="0.8" style="mix-blend-mode:multiply"/>
<path d="M454.9,676.9 L455.7,676.9 L456.5,676.9 L457.2,676.9 L458.0,676.9 L458.8,676.9 L459.6,676.9 L460.4,676.9 L461.2,676.9 L461.9,676.9 L462.7,676.9 L463.5,676.9 L464.3,676.9 L465.1,676.9 L465.9,676.9 L466.6,676.9 L467.4,676.9 L468.2,676.9 L469.0,676.9 L469.8,676.8 L470.6,676.8 L471.3,676.6 L472.1,676.4 L472.9,675.9 L473.7,675.3 L474.5,674.4 L475.3,673.1 L476.0,671.5 L476.8,669.6 L477.6,667.6 L478.4,665.7 L479.2,664.1 L480.0,663.0 L480.7,662.7 L481.5,663.0 L482.3,663.9 L483.1,665.2 L483.9,666.8 L484.6,668.6 L485.4,670.3 L486.2,671.9 L487.0,673.3 L487.8,674.4 L488.6,675.2 L489.3,675.8 L490.1,676.2 L490.9,676.5 L491.7,676.7 L492.5,676.8 L493.3,676.8 L494.0,676.9 L494.8,676.9 L495.6,676.9 L496.4,676.9 L497.2,676.9 L498.0,676.9 L498.7,676.9 L499.5,676.9 L500.3,676.9 L501.1,676.9 L501.9,676.9 L502.7,676.9 L503.4,676.9 L504.2,676.9 L505.0,676.9 L505.8,676.9 L506.6,676.9 L507.4,676.9 L508.1,676.9 L508.9,676.9 L509.7,676.9" fill="none" stroke="#23785a" stroke-width="1.15"/>
<rect x="454.40" y="620.80" width="55.80" height="56.10" fill="none" stroke="#231f20" stroke-width="1.2"/>
<line x1="452.00" y1="620.80" x2="454.40" y2="620.80" stroke="#231f20" stroke-width="0.6"/>
<line x1="452.00" y1="622.80" x2="454.40" y2="622.80" stroke="#231f20" stroke-width="0.6"/>
<line x1="452.00" y1="624.81" x2="454.40" y2="624.81" stroke="#231f20" stroke-width="0.6"/>
<line x1="452.00" y1="626.81" x2="454.40" y2="626.81" stroke="#231f20" stroke-width="0.6"/>
<line x1="452.00" y1="628.81" x2="454.40" y2="628.81" stroke="#231f20" stroke-width="0.6"/>
<line x1="452.00" y1="630.82" x2="454.40" y2="630.82" stroke="#231f20" stroke-width="0.6"/>
<line x1="452.00" y1="632.82" x2="454.40" y2="632.82" stroke="#231f20" stroke-width="0.6"/>
<line x1="452.00" y1="634.82" x2="454.40" y2="634.82" stroke="#231f20" stroke-width="0.6"/>
<line x1="452.00" y1="636.83" x2="454.40" y2="636.83" stroke="#231f20" stroke-width="0.6"/>
<line x1="452.00" y1="638.83" x2="454.40" y2="638.83" stroke="#231f20" stroke-width="0.6"/>
<line x1="452.00" y1="640.84" x2="454.40" y2="640.84" stroke="#231f20" stroke-width="0.6"/>
<line x1="452.00" y1="642.84" x2="454.40" y2="642.84" stroke="#231f20" stroke-width="0.6"/>
<line x1="452.00" y1="644.84" x2="454.40" y2="644.84" stroke="#231f20" stroke-width="0.6"/>
<line x1="452.00" y1="646.85" x2="454.40" y2="646.85" stroke="#231f20" stroke-width="0.6"/>
<line x1="452.00" y1="648.85" x2="454.40" y2="648.85" stroke="#231f20" stroke-width="0.6"/>
<line x1="452.00" y1="650.85" x2="454.40" y2="650.85" stroke="#231f20" stroke-width="0.6"/>
<line x1="452.00" y1="652.86" x2="454.40" y2="652.86" stroke="#231f20" stroke-width="0.6"/>
<line x1="452.00" y1="654.86" x2="454.40" y2="654.86" stroke="#231f20" stroke-width="0.6"/>
<line x1="452.00" y1="656.86" x2="454.40" y2="656.86" stroke="#231f20" stroke-width="0.6"/>
<line x1="452.00" y1="658.87" x2="454.40" y2="658.87" stroke="#231f20" stroke-width="0.6"/>
<line x1="452.00" y1="660.87" x2="454.40" y2="660.87" stroke="#231f20" stroke-width="0.6"/>
<line x1="452.00" y1="662.88" x2="454.40" y2="662.88" stroke="#231f20" stroke-width="0.6"/>
<line x1="452.00" y1="664.88" x2="454.40" y2="664.88" stroke="#231f20" stroke-width="0.6"/>
<line x1="452.00" y1="666.88" x2="454.40" y2="666.88" stroke="#231f20" stroke-width="0.6"/>
<line x1="452.00" y1="668.89" x2="454.40" y2="668.89" stroke="#231f20" stroke-width="0.6"/>
<line x1="452.00" y1="670.89" x2="454.40" y2="670.89" stroke="#231f20" stroke-width="0.6"/>
<line x1="452.00" y1="672.89" x2="454.40" y2="672.89" stroke="#231f20" stroke-width="0.6"/>
<line x1="452.00" y1="674.90" x2="454.40" y2="674.90" stroke="#231f20" stroke-width="0.6"/>
<line x1="452.00" y1="676.90" x2="454.40" y2="676.90" stroke="#231f20" stroke-width="0.6"/>
<line x1="454.40" y1="676.90" x2="454.40" y2="679.90" stroke="#231f20" stroke-width="0.7"/>
<line x1="458.60" y1="676.90" x2="458.60" y2="678.80" stroke="#231f20" stroke-width="0.7"/>
<line x1="461.06" y1="676.90" x2="461.06" y2="678.80" stroke="#231f20" stroke-width="0.7"/>
<line x1="462.80" y1="676.90" x2="462.80" y2="678.80" stroke="#231f20" stroke-width="0.7"/>
<line x1="464.15" y1="676.90" x2="464.15" y2="678.80" stroke="#231f20" stroke-width="0.7"/>
<line x1="465.26" y1="676.90" x2="465.26" y2="678.80" stroke="#231f20" stroke-width="0.7"/>
<line x1="466.19" y1="676.90" x2="466.19" y2="678.80" stroke="#231f20" stroke-width="0.7"/>
<line x1="467.00" y1="676.90" x2="467.00" y2="678.80" stroke="#231f20" stroke-width="0.7"/>
<line x1="467.71" y1="676.90" x2="467.71" y2="678.80" stroke="#231f20" stroke-width="0.7"/>
<line x1="468.35" y1="676.90" x2="468.35" y2="679.90" stroke="#231f20" stroke-width="0.7"/>
<line x1="472.55" y1="676.90" x2="472.55" y2="678.80" stroke="#231f20" stroke-width="0.7"/>
<line x1="475.01" y1="676.90" x2="475.01" y2="678.80" stroke="#231f20" stroke-width="0.7"/>
<line x1="476.75" y1="676.90" x2="476.75" y2="678.80" stroke="#231f20" stroke-width="0.7"/>
<line x1="478.10" y1="676.90" x2="478.10" y2="678.80" stroke="#231f20" stroke-width="0.7"/>
<line x1="479.21" y1="676.90" x2="479.21" y2="678.80" stroke="#231f20" stroke-width="0.7"/>
<line x1="480.14" y1="676.90" x2="480.14" y2="678.80" stroke="#231f20" stroke-width="0.7"/>
<line x1="480.95" y1="676.90" x2="480.95" y2="678.80" stroke="#231f20" stroke-width="0.7"/>
<line x1="481.66" y1="676.90" x2="481.66" y2="678.80" stroke="#231f20" stroke-width="0.7"/>
<line x1="482.30" y1="676.90" x2="482.30" y2="679.90" stroke="#231f20" stroke-width="0.7"/>
<line x1="486.50" y1="676.90" x2="486.50" y2="678.80" stroke="#231f20" stroke-width="0.7"/>
<line x1="488.96" y1="676.90" x2="488.96" y2="678.80" stroke="#231f20" stroke-width="0.7"/>
<line x1="490.70" y1="676.90" x2="490.70" y2="678.80" stroke="#231f20" stroke-width="0.7"/>
<line x1="492.05" y1="676.90" x2="492.05" y2="678.80" stroke="#231f20" stroke-width="0.7"/>
<line x1="493.16" y1="676.90" x2="493.16" y2="678.80" stroke="#231f20" stroke-width="0.7"/>
<line x1="494.09" y1="676.90" x2="494.09" y2="678.80" stroke="#231f20" stroke-width="0.7"/>
<line x1="494.90" y1="676.90" x2="494.90" y2="678.80" stroke="#231f20" stroke-width="0.7"/>
<line x1="495.61" y1="676.90" x2="495.61" y2="678.80" stroke="#231f20" stroke-width="0.7"/>
<line x1="496.25" y1="676.90" x2="496.25" y2="679.90" stroke="#231f20" stroke-width="0.7"/>
<line x1="500.45" y1="676.90" x2="500.45" y2="678.80" stroke="#231f20" stroke-width="0.7"/>
<line x1="502.91" y1="676.90" x2="502.91" y2="678.80" stroke="#231f20" stroke-width="0.7"/>
<line x1="504.65" y1="676.90" x2="504.65" y2="678.80" stroke="#231f20" stroke-width="0.7"/>
<line x1="506.00" y1="676.90" x2="506.00" y2="678.80" stroke="#231f20" stroke-width="0.7"/>
<line x1="507.11" y1="676.90" x2="507.11" y2="678.80" stroke="#231f20" stroke-width="0.7"/>
<line x1="508.04" y1="676.90" x2="508.04" y2="678.80" stroke="#231f20" stroke-width="0.7"/>
<line x1="508.85" y1="676.90" x2="508.85" y2="678.80" stroke="#231f20" stroke-width="0.7"/>
<line x1="509.56" y1="676.90" x2="509.56" y2="678.80" stroke="#231f20" stroke-width="0.7"/>
<line x1="510.20" y1="676.90" x2="510.20" y2="679.90" stroke="#231f20" stroke-width="0.7"/>
<text x="454.00" y="689.00" font-size="8.4" textLength="27.8" lengthAdjust="spacingAndGlyphs" fill="#231f20" stroke="#231f20" stroke-width="0.22">EOMES</text>
<line x1="483.60" y1="686.50" x2="507.30" y2="686.50" stroke="#231f20" stroke-width="1.1"/>
<path d="M511.40,686.50 L506.80,684.40 L506.80,688.60 Z" fill="#231f20" stroke="none" stroke-width="1"/>
<rect x="0.5" y="0.5" width="519" height="695" fill="none" stroke="#000" stroke-width="1"/>
</svg>
</body></html>
